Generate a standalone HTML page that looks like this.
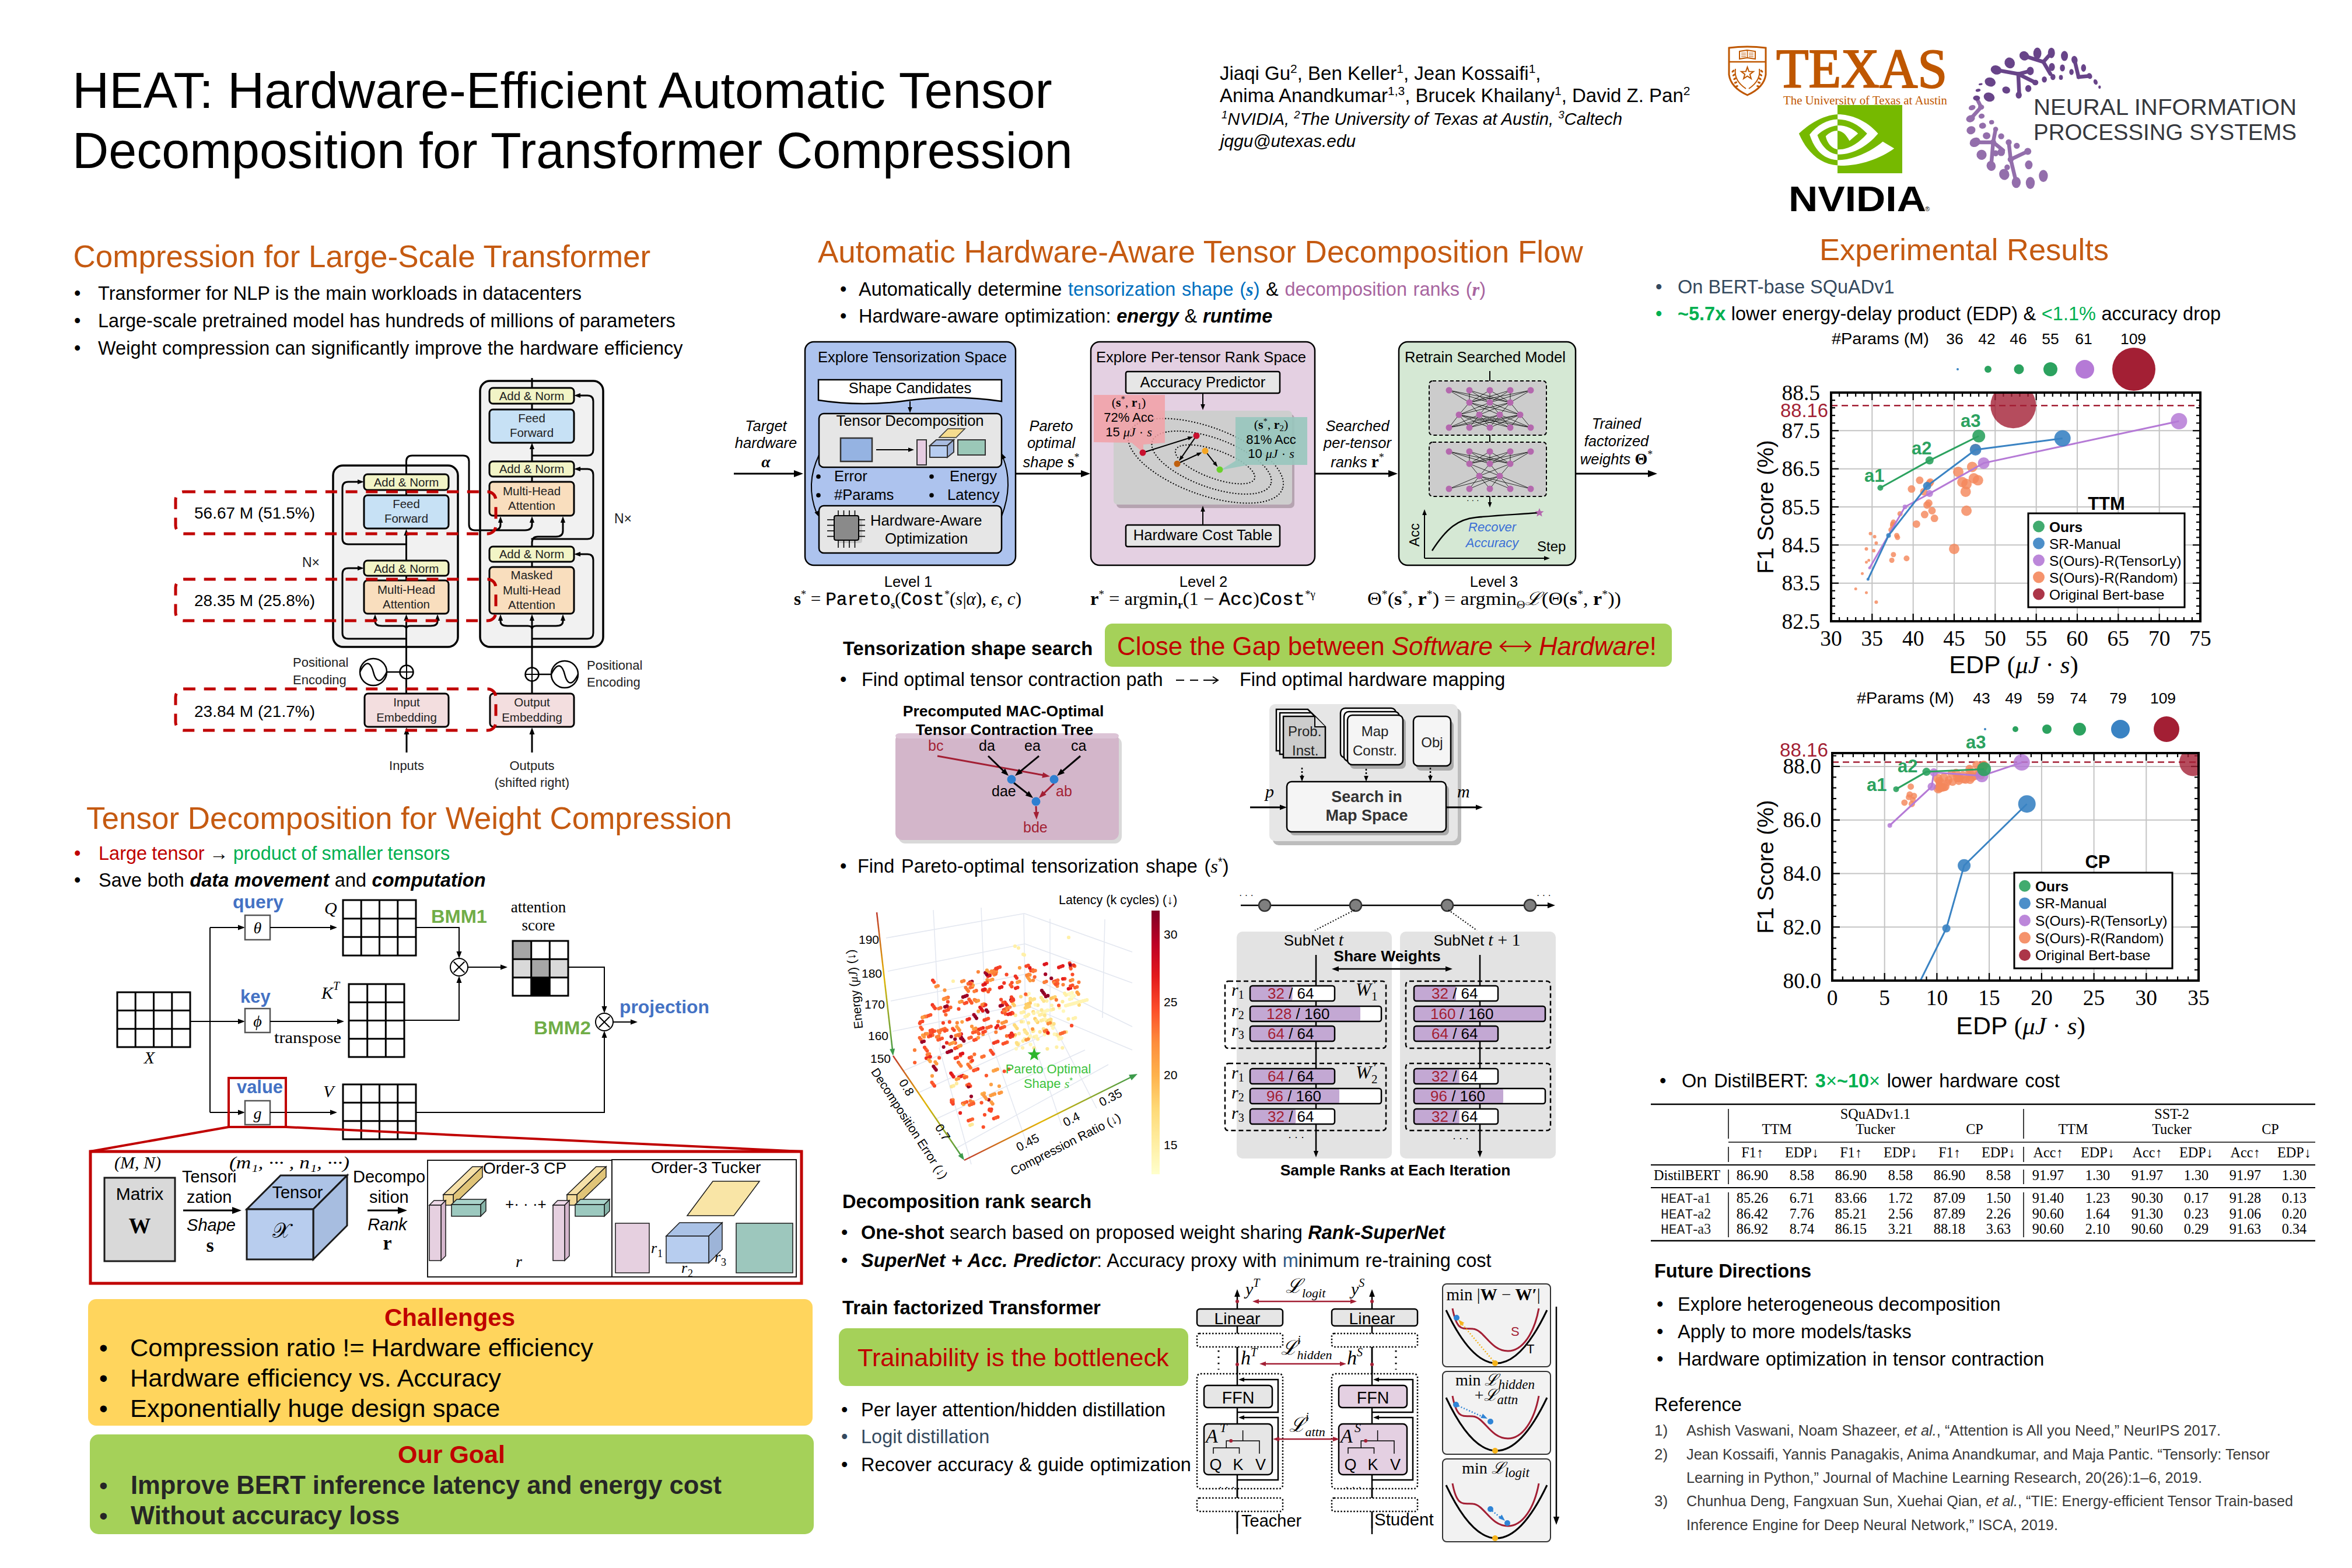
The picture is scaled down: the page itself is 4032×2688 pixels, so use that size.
<!DOCTYPE html>
<html><head><meta charset="utf-8"><title>HEAT poster</title>
<style>
html,body{margin:0;padding:0;background:#fff;}
svg{display:block;font-family:"Liberation Sans", sans-serif;}
.R{font-family:"Liberation Serif", serif;}
.M{font-family:"Liberation Mono", monospace;}
.S{font-family:"Liberation Sans", sans-serif;}
</style></head>
<body>
<svg width="4032" height="2688" viewBox="0 0 4032 2688">
<rect width="4032" height="2688" fill="#fff"/>
<text x="124.0" y="184.5" font-size="87.6">HEAT: Hardware-Efficient Automatic Tensor</text>
<text x="124.0" y="287.7" font-size="86.2">Decomposition for Transformer Compression</text>
<text x="2091.0" y="137.0" font-size="33">Jiaqi Gu<tspan font-size="21" dy="-12">2</tspan><tspan dy="12">, Ben Keller</tspan><tspan font-size="21" dy="-12">1</tspan><tspan dy="12">, Jean Kossaifi</tspan><tspan font-size="21" dy="-12">1</tspan><tspan dy="12">,</tspan></text>
<text x="2091.0" y="175.0" font-size="33">Anima Anandkumar<tspan font-size="21" dy="-12">1,3</tspan><tspan dy="12">, Brucek Khailany</tspan><tspan font-size="21" dy="-12">1</tspan><tspan dy="12">, David Z. Pan</tspan><tspan font-size="21" dy="-12">2</tspan></text>
<text x="2094.0" y="214.0" font-size="30" font-style="italic" textLength="687" lengthAdjust="spacingAndGlyphs"><tspan font-size="19" dy="-11">1</tspan><tspan dy="11">NVIDIA, </tspan><tspan font-size="19" dy="-11">2</tspan><tspan dy="11">The University of Texas at Austin, </tspan><tspan font-size="19" dy="-11">3</tspan><tspan dy="11">Caltech</tspan></text>
<text x="2092.0" y="252.0" font-size="30" font-style="italic" textLength="232" lengthAdjust="spacingAndGlyphs">jqgu@utexas.edu</text>
<path d="M2964,82 Q2995,78 3027,82 L3027,128 Q3024,150 2995.5,163 Q2967,150 2964,128 Z" fill="#fff" stroke="#BF5700" stroke-width="3"/>
<line x1="2964.0" y1="106.0" x2="3027.0" y2="106.0" stroke="#BF5700" stroke-width="2.5" />
<path d="M2982,88 L2995,86 L3009,88 L3009,101 L2995,99 L2982,101 Z" fill="none" stroke="#BF5700" stroke-width="2"/>
<line x1="2995.5" y1="86.0" x2="2995.5" y2="100.0" stroke="#BF5700" stroke-width="1.5" />
<line x1="2985.0" y1="91.0" x2="2993.0" y2="91.0" stroke="#BF5700" stroke-width="1" />
<line x1="2998.0" y1="91.0" x2="3006.0" y2="91.0" stroke="#BF5700" stroke-width="1" />
<line x1="2985.0" y1="94.0" x2="2993.0" y2="94.0" stroke="#BF5700" stroke-width="1" />
<line x1="2998.0" y1="94.0" x2="3006.0" y2="94.0" stroke="#BF5700" stroke-width="1" />
<line x1="2985.0" y1="97.0" x2="2993.0" y2="97.0" stroke="#BF5700" stroke-width="1" />
<line x1="2998.0" y1="97.0" x2="3006.0" y2="97.0" stroke="#BF5700" stroke-width="1" />
<polygon points="2995.5,115.0 2998.1,122.4 3006.0,122.6 2999.8,127.4 3002.0,134.9 2995.5,130.5 2989.0,134.9 2991.2,127.4 2985.0,122.6 2992.9,122.4" fill="none" stroke="#BF5700" stroke-width="2"/>
<path d="M2975,118 Q2972,138 2993,152" fill="none" stroke="#BF5700" stroke-width="2"/>
<path d="M3016,118 Q3019,138 2998,152" fill="none" stroke="#BF5700" stroke-width="2"/>
<ellipse cx="2971.0" cy="122.0" rx="3.0" ry="1.6" fill="#BF5700" transform="rotate(-40 2971.0 122.0)"/>
<ellipse cx="3020.0" cy="122.0" rx="3.0" ry="1.6" fill="#BF5700" transform="rotate(40 3020.0 122.0)"/>
<ellipse cx="2972.5" cy="128.5" rx="3.0" ry="1.6" fill="#BF5700" transform="rotate(-35 2972.5 128.5)"/>
<ellipse cx="3018.5" cy="128.5" rx="3.0" ry="1.6" fill="#BF5700" transform="rotate(35 3018.5 128.5)"/>
<ellipse cx="2974.0" cy="135.0" rx="3.0" ry="1.6" fill="#BF5700" transform="rotate(-30 2974.0 135.0)"/>
<ellipse cx="3017.0" cy="135.0" rx="3.0" ry="1.6" fill="#BF5700" transform="rotate(30 3017.0 135.0)"/>
<ellipse cx="2975.5" cy="141.5" rx="3.0" ry="1.6" fill="#BF5700" transform="rotate(-25 2975.5 141.5)"/>
<ellipse cx="3015.5" cy="141.5" rx="3.0" ry="1.6" fill="#BF5700" transform="rotate(25 3015.5 141.5)"/>
<ellipse cx="2977.0" cy="148.0" rx="3.0" ry="1.6" fill="#BF5700" transform="rotate(-20 2977.0 148.0)"/>
<ellipse cx="3014.0" cy="148.0" rx="3.0" ry="1.6" fill="#BF5700" transform="rotate(20 3014.0 148.0)"/>
<text x="3045.0" y="150.0" font-size="96" class="R" fill="#BF5700" textLength="293" lengthAdjust="spacingAndGlyphs" stroke="#BF5700" stroke-width="2.2">TEXAS</text>
<text x="3057.0" y="179.0" font-size="20" class="R" fill="#BF5700" textLength="281" lengthAdjust="spacingAndGlyphs">The University of Texas at Austin</text>
<rect x="3150.0" y="180.0" width="111.0" height="117.0" fill="#76B900"/>
<g transform="translate(3070,170) scale(0.08929)"><path d="M897,290 C1150,290 1450,400 1675,660 C1450,930 1150,1070 897,1060 L897,965 C1100,975 1300,850 1465,660 C1300,480 1100,385 897,385 Z" fill="#fff"/><path d="M897,1170 C1200,1170 1550,1000 1765,815 L1985,945 C1700,1150 1300,1290 897,1275 Z" fill="#fff"/><path d="M897,505 C1050,500 1200,570 1290,660 L1125,800 C1060,680 990,610 897,605 Z" fill="#fff"/><path d="M897,290 C600,310 350,480 155,660 C300,1000 550,1250 897,1270 L897,1170 C600,1150 450,950 360,680 C500,500 700,390 897,385 Z" fill="#76B900"/><path d="M897,505 C750,520 620,590 510,690 C580,900 720,1040 897,1060 L897,965 C780,940 700,850 670,710 C740,640 820,605 897,605 Z" fill="#76B900"/></g>
<text x="3066.0" y="362.0" font-size="62" font-weight="bold" textLength="236" lengthAdjust="spacingAndGlyphs" letter-spacing="0">NVIDIA</text>
<text x="3300.0" y="362.0" font-size="11">®</text>
<text x="3486.0" y="197.0" font-size="38" fill="#35383d" textLength="451" lengthAdjust="spacingAndGlyphs">NEURAL INFORMATION</text>
<text x="3486.0" y="240.0" font-size="38" fill="#35383d" textLength="451" lengthAdjust="spacingAndGlyphs">PROCESSING SYSTEMS</text>
<line x1="3470.2" y1="95.8" x2="3502.9" y2="106.2" stroke="#684489" stroke-width="6.5" stroke-linecap="round"/>
<line x1="3502.9" y1="106.2" x2="3516.7" y2="90.7" stroke="#684489" stroke-width="6.5" stroke-linecap="round"/>
<line x1="3502.9" y1="106.2" x2="3515.0" y2="126.8" stroke="#684489" stroke-width="6.5" stroke-linecap="round"/>
<line x1="3422.0" y1="119.9" x2="3459.9" y2="126.8" stroke="#684489" stroke-width="6.5" stroke-linecap="round"/>
<line x1="3459.9" y1="126.8" x2="3480.5" y2="121.7" stroke="#684489" stroke-width="6.5" stroke-linecap="round"/>
<line x1="3459.9" y1="126.8" x2="3461.6" y2="163.0" stroke="#684489" stroke-width="6.5" stroke-linecap="round"/>
<line x1="3459.9" y1="126.8" x2="3489.1" y2="141.5" stroke="#684489" stroke-width="6.5" stroke-linecap="round"/>
<line x1="3556.3" y1="102.7" x2="3563.2" y2="132.0" stroke="#684489" stroke-width="6.5" stroke-linecap="round"/>
<line x1="3563.2" y1="132.0" x2="3582.1" y2="130.3" stroke="#684489" stroke-width="6.5" stroke-linecap="round"/>
<line x1="3388.4" y1="168.1" x2="3396.2" y2="183.6" stroke="#936eab" stroke-width="6.5" stroke-linecap="round"/>
<line x1="3396.2" y1="183.6" x2="3380.7" y2="200.9" stroke="#936eab" stroke-width="6.5" stroke-linecap="round"/>
<line x1="3416.8" y1="243.9" x2="3421.1" y2="221.5" stroke="#936eab" stroke-width="6.5" stroke-linecap="round"/>
<line x1="3416.8" y1="243.9" x2="3385.8" y2="243.9" stroke="#936eab" stroke-width="6.5" stroke-linecap="round"/>
<line x1="3416.8" y1="243.9" x2="3413.4" y2="284.4" stroke="#936eab" stroke-width="6.5" stroke-linecap="round"/>
<line x1="3446.9" y1="273.2" x2="3443.5" y2="243.9" stroke="#936eab" stroke-width="6.5" stroke-linecap="round"/>
<line x1="3446.9" y1="273.2" x2="3476.2" y2="259.4" stroke="#936eab" stroke-width="6.5" stroke-linecap="round"/>
<line x1="3446.9" y1="273.2" x2="3456.4" y2="312.8" stroke="#936eab" stroke-width="6.5" stroke-linecap="round"/>
<line x1="3416.8" y1="243.9" x2="3434.0" y2="257.7" stroke="#936eab" stroke-width="6.5" stroke-linecap="round"/>
<ellipse cx="3492.6" cy="91.5" rx="6.9" ry="10.0" fill="#684489" transform="rotate(0 3492.6 91.5)"/>
<ellipse cx="3516.7" cy="90.7" rx="6.0" ry="9.0" fill="#684489" transform="rotate(0 3516.7 90.7)"/>
<ellipse cx="3539.1" cy="95.8" rx="6.0" ry="8.6" fill="#684489" transform="rotate(0 3539.1 95.8)"/>
<ellipse cx="3556.3" cy="102.7" rx="5.2" ry="6.9" fill="#684489" transform="rotate(-10 3556.3 102.7)"/>
<ellipse cx="3571.8" cy="116.5" rx="4.3" ry="6.5" fill="#684489" transform="rotate(0 3571.8 116.5)"/>
<ellipse cx="3592.4" cy="140.6" rx="3.4" ry="4.8" fill="#684489" transform="rotate(-20 3592.4 140.6)"/>
<ellipse cx="3599.3" cy="149.2" rx="2.1" ry="2.8" fill="#684489" transform="rotate(0 3599.3 149.2)"/>
<ellipse cx="3470.2" cy="95.8" rx="8.6" ry="7.7" fill="#684489" transform="rotate(30 3470.2 95.8)"/>
<ellipse cx="3445.2" cy="107.9" rx="8.6" ry="9.5" fill="#684489" transform="rotate(-30 3445.2 107.9)"/>
<ellipse cx="3422.0" cy="119.9" rx="9.5" ry="7.7" fill="#684489" transform="rotate(20 3422.0 119.9)"/>
<ellipse cx="3480.5" cy="121.7" rx="6.0" ry="7.2" fill="#684489" transform="rotate(0 3480.5 121.7)"/>
<ellipse cx="3517.5" cy="114.8" rx="5.2" ry="6.9" fill="#684489" transform="rotate(0 3517.5 114.8)"/>
<ellipse cx="3535.6" cy="116.5" rx="4.3" ry="6.0" fill="#684489" transform="rotate(0 3535.6 116.5)"/>
<ellipse cx="3551.1" cy="123.4" rx="3.8" ry="5.2" fill="#684489" transform="rotate(0 3551.1 123.4)"/>
<ellipse cx="3504.6" cy="136.3" rx="4.3" ry="5.2" fill="#684489" transform="rotate(0 3504.6 136.3)"/>
<ellipse cx="3519.3" cy="132.0" rx="4.3" ry="5.2" fill="#684489" transform="rotate(0 3519.3 132.0)"/>
<ellipse cx="3533.0" cy="132.8" rx="3.4" ry="4.3" fill="#684489" transform="rotate(0 3533.0 132.8)"/>
<ellipse cx="3489.1" cy="141.5" rx="5.2" ry="4.8" fill="#684489" transform="rotate(0 3489.1 141.5)"/>
<ellipse cx="3477.1" cy="151.8" rx="5.2" ry="6.0" fill="#684489" transform="rotate(0 3477.1 151.8)"/>
<ellipse cx="3439.2" cy="154.4" rx="6.9" ry="6.0" fill="#684489" transform="rotate(20 3439.2 154.4)"/>
<ellipse cx="3411.7" cy="140.6" rx="9.5" ry="7.7" fill="#684489" transform="rotate(20 3411.7 140.6)"/>
<ellipse cx="3409.9" cy="166.4" rx="9.5" ry="7.7" fill="#684489" transform="rotate(20 3409.9 166.4)"/>
<ellipse cx="3395.3" cy="144.4" rx="3.4" ry="1.7" fill="#684489" transform="rotate(-10 3395.3 144.4)"/>
<ellipse cx="3391.0" cy="154.7" rx="4.3" ry="2.6" fill="#684489" transform="rotate(-10 3391.0 154.7)"/>
<ellipse cx="3460.7" cy="163.0" rx="5.2" ry="6.0" fill="#684489" transform="rotate(0 3460.7 163.0)"/>
<ellipse cx="3582.1" cy="130.3" rx="4.3" ry="5.2" fill="#684489" transform="rotate(-30 3582.1 130.3)"/>
<ellipse cx="3563.2" cy="132.0" rx="3.4" ry="3.4" fill="#684489" transform="rotate(0 3563.2 132.0)"/>
<ellipse cx="3388.4" cy="168.1" rx="6.0" ry="4.3" fill="#684489" transform="rotate(0 3388.4 168.1)"/>
<ellipse cx="3396.2" cy="183.6" rx="5.2" ry="4.3" fill="#936eab" transform="rotate(0 3396.2 183.6)"/>
<ellipse cx="3380.7" cy="184.5" rx="6.0" ry="4.3" fill="#936eab" transform="rotate(-20 3380.7 184.5)"/>
<ellipse cx="3378.1" cy="203.4" rx="7.7" ry="6.0" fill="#936eab" transform="rotate(-20 3378.1 203.4)"/>
<ellipse cx="3397.0" cy="199.1" rx="5.2" ry="4.3" fill="#936eab" transform="rotate(-10 3397.0 199.1)"/>
<ellipse cx="3414.2" cy="209.5" rx="4.3" ry="3.8" fill="#936eab" transform="rotate(-10 3414.2 209.5)"/>
<ellipse cx="3398.7" cy="215.5" rx="6.0" ry="5.2" fill="#936eab" transform="rotate(-10 3398.7 215.5)"/>
<ellipse cx="3378.9" cy="223.2" rx="7.7" ry="6.9" fill="#936eab" transform="rotate(-20 3378.9 223.2)"/>
<ellipse cx="3421.1" cy="221.5" rx="4.3" ry="4.3" fill="#936eab" transform="rotate(0 3421.1 221.5)"/>
<ellipse cx="3405.6" cy="232.7" rx="6.5" ry="6.0" fill="#936eab" transform="rotate(0 3405.6 232.7)"/>
<ellipse cx="3430.6" cy="233.6" rx="5.2" ry="5.2" fill="#936eab" transform="rotate(0 3430.6 233.6)"/>
<ellipse cx="3385.8" cy="243.9" rx="9.5" ry="7.7" fill="#936eab" transform="rotate(-30 3385.8 243.9)"/>
<ellipse cx="3416.8" cy="243.9" rx="5.2" ry="5.2" fill="#936eab" transform="rotate(0 3416.8 243.9)"/>
<ellipse cx="3443.5" cy="243.9" rx="5.2" ry="5.2" fill="#936eab" transform="rotate(0 3443.5 243.9)"/>
<ellipse cx="3457.3" cy="249.9" rx="5.2" ry="5.2" fill="#936eab" transform="rotate(0 3457.3 249.9)"/>
<ellipse cx="3476.2" cy="259.4" rx="6.0" ry="6.0" fill="#936eab" transform="rotate(0 3476.2 259.4)"/>
<ellipse cx="3397.0" cy="265.4" rx="8.6" ry="8.6" fill="#936eab" transform="rotate(-20 3397.0 265.4)"/>
<ellipse cx="3430.6" cy="261.1" rx="6.5" ry="6.5" fill="#936eab" transform="rotate(0 3430.6 261.1)"/>
<ellipse cx="3446.9" cy="273.2" rx="5.2" ry="5.2" fill="#936eab" transform="rotate(0 3446.9 273.2)"/>
<ellipse cx="3413.4" cy="284.4" rx="7.7" ry="8.6" fill="#936eab" transform="rotate(-20 3413.4 284.4)"/>
<ellipse cx="3477.9" cy="282.6" rx="6.5" ry="7.7" fill="#936eab" transform="rotate(0 3477.9 282.6)"/>
<ellipse cx="3435.8" cy="299.0" rx="8.6" ry="9.5" fill="#936eab" transform="rotate(-20 3435.8 299.0)"/>
<ellipse cx="3502.9" cy="301.6" rx="7.7" ry="10.3" fill="#936eab" transform="rotate(0 3502.9 301.6)"/>
<ellipse cx="3456.4" cy="312.8" rx="7.7" ry="9.5" fill="#936eab" transform="rotate(0 3456.4 312.8)"/>
<ellipse cx="3480.5" cy="313.6" rx="7.7" ry="10.3" fill="#936eab" transform="rotate(0 3480.5 313.6)"/>
<ellipse cx="3440.9" cy="286.9" rx="4.8" ry="4.8" fill="#936eab" transform="rotate(0 3440.9 286.9)"/>
<ellipse cx="3421.1" cy="262.8" rx="4.8" ry="5.2" fill="#936eab" transform="rotate(0 3421.1 262.8)"/>
<text x="125.5" y="458.0" font-size="53" fill="#C55A11">Compression for Large-Scale Transformer</text>
<text x="127.0" y="514.0" font-size="32.5">•</text>
<text x="168.0" y="514.0" font-size="32.5" word-spacing="0">Transformer for NLP is the main workloads in datacenters</text>
<text x="127.0" y="561.0" font-size="32.5">•</text>
<text x="168.0" y="561.0" font-size="32.5" word-spacing="-0.25">Large-scale pretrained model has hundreds of millions of parameters</text>
<text x="127.0" y="608.0" font-size="32.5">•</text>
<text x="168.0" y="608.0" font-size="32.5" word-spacing="0.43">Weight compression can significantly improve the hardware efficiency</text>
<rect x="571.0" y="798.0" width="214.0" height="311.0" fill="#F1F1F1" stroke="#000" stroke-width="3.5" rx="17"/>
<rect x="823.0" y="653.0" width="211.0" height="456.0" fill="#F1F1F1" stroke="#000" stroke-width="3.5" rx="17"/>
<line x1="696.5" y1="1189.0" x2="696.5" y2="1164.0" stroke="#000" stroke-width="3" />
<line x1="696.5" y1="1140.0" x2="696.5" y2="1058.0" stroke="#000" stroke-width="3" />
<path d="M696.5,1078 Q696.5,1073 690,1073 L655,1073 Q643,1073 643,1065 L643,1060" fill="none" stroke="#000" stroke-width="3"/>
<path d="M696.5,1078 Q696.5,1073 703,1073 L738,1073 Q750,1073 750,1065 L750,1060" fill="none" stroke="#000" stroke-width="3"/>
<path d="M643.0,1053.0 L647.1,1064.0 L638.9,1064.0 Z" fill="#000"/>
<path d="M696.5,1053.0 L700.6,1064.0 L692.4,1064.0 Z" fill="#000"/>
<path d="M750.0,1053.0 L754.1,1064.0 L745.9,1064.0 Z" fill="#000"/>
<path d="M696.5,1095 L597,1095 Q587,1095 587,1085 L587,984 Q587,974 597,974 L616,974" fill="none" stroke="#000" stroke-width="3"/>
<path d="M624.0,974.0 L613.0,978.1 L613.0,969.9 Z" fill="#000"/>
<line x1="696.5" y1="995.0" x2="696.5" y2="987.0" stroke="#000" stroke-width="3" />
<line x1="696.5" y1="961.0" x2="696.5" y2="915.0" stroke="#000" stroke-width="3" />
<path d="M696.5,907.0 L700.6,918.0 L692.4,918.0 Z" fill="#000"/>
<path d="M696.5,933 L597,933 Q587,933 587,923 L587,836 Q587,826 597,826 L616,826" fill="none" stroke="#000" stroke-width="3"/>
<path d="M624.0,826.0 L613.0,830.1 L613.0,821.9 Z" fill="#000"/>
<line x1="696.5" y1="849.0" x2="696.5" y2="840.0" stroke="#000" stroke-width="3" />
<path d="M696.5,813 L696.5,791 Q696.5,781 706.5,781 L794,781 Q804,781 804,791 L804,899 Q804,909 814,909 L846,909 Q858,909 858,899 L858,893" fill="none" stroke="#000" stroke-width="3"/>
<path d="M858.0,885.0 L862.1,896.0 L853.9,896.0 Z" fill="#000"/>
<path d="M846,909 L900,909 Q912,909 912,899 L912,893" fill="none" stroke="#000" stroke-width="3"/>
<path d="M912.0,885.0 L916.1,896.0 L907.9,896.0 Z" fill="#000"/>
<line x1="912.0" y1="1189.0" x2="912.0" y2="1168.0" stroke="#000" stroke-width="3" />
<line x1="912.0" y1="1144.0" x2="912.0" y2="1058.0" stroke="#000" stroke-width="3" />
<path d="M912,1078 Q912,1073 905,1073 L870,1073 Q858,1073 858,1065 L858,1060" fill="none" stroke="#000" stroke-width="3"/>
<path d="M912,1078 Q912,1073 919,1073 L953,1073 Q965,1073 965,1065 L965,1060" fill="none" stroke="#000" stroke-width="3"/>
<path d="M858.0,1053.0 L862.1,1064.0 L853.9,1064.0 Z" fill="#000"/>
<path d="M912.0,1053.0 L916.1,1064.0 L907.9,1064.0 Z" fill="#000"/>
<path d="M965.0,1053.0 L969.1,1064.0 L960.9,1064.0 Z" fill="#000"/>
<path d="M912,1095 L1007,1095 Q1017,1095 1017,1085 L1017,960 Q1017,950 1007,950 L992,950" fill="none" stroke="#000" stroke-width="3"/>
<path d="M984.0,950.0 L995.0,945.9 L995.0,954.1 Z" fill="#000"/>
<line x1="912.0" y1="972.0" x2="912.0" y2="963.0" stroke="#000" stroke-width="3" />
<path d="M912,937 L912,930 Q912,920 922,920 L953,920 Q965,920 965,910 L965,893" fill="none" stroke="#000" stroke-width="3"/>
<path d="M965.0,885.0 L969.1,896.0 L960.9,896.0 Z" fill="#000"/>
<path d="M912,925 L912,924 L1007,924 Q1017,924 1017,914 L1017,814 Q1017,804 1007,804 L992,804" fill="none" stroke="#000" stroke-width="3"/>
<path d="M984.0,804.0 L995.0,799.9 L995.0,808.1 Z" fill="#000"/>
<line x1="912.0" y1="826.0" x2="912.0" y2="817.0" stroke="#000" stroke-width="3" />
<line x1="912.0" y1="791.0" x2="912.0" y2="767.0" stroke="#000" stroke-width="3" />
<path d="M912.0,759.0 L916.1,770.0 L907.9,770.0 Z" fill="#000"/>
<path d="M912,781 L1007,781 Q1017,781 1017,771 L1017,688 Q1017,678 1007,678 L992,678" fill="none" stroke="#000" stroke-width="3"/>
<path d="M984.0,678.0 L995.0,673.9 L995.0,682.1 Z" fill="#000"/>
<line x1="912.0" y1="702.0" x2="912.0" y2="692.0" stroke="#000" stroke-width="3" />
<line x1="912.0" y1="665.0" x2="912.0" y2="648.0" stroke="#000" stroke-width="3" />
<rect x="624.0" y="813.0" width="145.0" height="27.0" fill="#F2F4C6" stroke="#000" stroke-width="3" rx="6"/>
<text x="696.5" y="834.0" font-size="20.5" fill="#222" text-anchor="middle">Add &amp; Norm</text>
<rect x="624.0" y="849.0" width="145.0" height="57.0" fill="#C7E1F5" stroke="#000" stroke-width="3" rx="6"/>
<text x="696.5" y="871.0" font-size="20.5" fill="#222" text-anchor="middle">Feed</text>
<text x="696.5" y="896.0" font-size="20.5" fill="#222" text-anchor="middle">Forward</text>
<rect x="624.0" y="961.0" width="145.0" height="26.0" fill="#F2F4C6" stroke="#000" stroke-width="3" rx="6"/>
<text x="696.5" y="982.0" font-size="20.5" fill="#222" text-anchor="middle">Add &amp; Norm</text>
<rect x="624.0" y="995.0" width="145.0" height="57.0" fill="#F9DEBE" stroke="#000" stroke-width="3" rx="6"/>
<text x="696.5" y="1018.0" font-size="20.5" fill="#222" text-anchor="middle">Multi-Head</text>
<text x="696.5" y="1043.0" font-size="20.5" fill="#222" text-anchor="middle">Attention</text>
<rect x="839.0" y="665.0" width="145.0" height="27.0" fill="#F2F4C6" stroke="#000" stroke-width="3" rx="6"/>
<text x="911.5" y="686.0" font-size="20.5" fill="#222" text-anchor="middle">Add &amp; Norm</text>
<rect x="839.0" y="702.0" width="145.0" height="57.0" fill="#C7E1F5" stroke="#000" stroke-width="3" rx="6"/>
<text x="911.5" y="724.0" font-size="20.5" fill="#222" text-anchor="middle">Feed</text>
<text x="911.5" y="749.0" font-size="20.5" fill="#222" text-anchor="middle">Forward</text>
<rect x="839.0" y="791.0" width="145.0" height="26.0" fill="#F2F4C6" stroke="#000" stroke-width="3" rx="6"/>
<text x="911.5" y="811.0" font-size="20.5" fill="#222" text-anchor="middle">Add &amp; Norm</text>
<rect x="839.0" y="826.0" width="145.0" height="58.0" fill="#F9DEBE" stroke="#000" stroke-width="3" rx="6"/>
<text x="911.5" y="849.0" font-size="20.5" fill="#222" text-anchor="middle">Multi-Head</text>
<text x="911.5" y="874.0" font-size="20.5" fill="#222" text-anchor="middle">Attention</text>
<rect x="839.0" y="937.0" width="145.0" height="26.0" fill="#F2F4C6" stroke="#000" stroke-width="3" rx="6"/>
<text x="911.5" y="957.0" font-size="20.5" fill="#222" text-anchor="middle">Add &amp; Norm</text>
<rect x="839.0" y="972.0" width="145.0" height="80.0" fill="#F9DEBE" stroke="#000" stroke-width="3" rx="6"/>
<text x="911.5" y="993.0" font-size="20.5" fill="#222" text-anchor="middle">Masked</text>
<text x="911.5" y="1019.0" font-size="20.5" fill="#222" text-anchor="middle">Multi-Head</text>
<text x="911.5" y="1044.0" font-size="20.5" fill="#222" text-anchor="middle">Attention</text>
<rect x="625.0" y="1189.0" width="144.0" height="57.0" fill="#F3DEDF" stroke="#000" stroke-width="3" rx="6"/>
<text x="697.0" y="1211.0" font-size="20.5" fill="#222" text-anchor="middle">Input</text>
<text x="697.0" y="1237.0" font-size="20.5" fill="#222" text-anchor="middle">Embedding</text>
<rect x="840.0" y="1189.0" width="144.0" height="57.0" fill="#F3DEDF" stroke="#000" stroke-width="3" rx="6"/>
<text x="912.0" y="1211.0" font-size="20.5" fill="#222" text-anchor="middle">Output</text>
<text x="912.0" y="1237.0" font-size="20.5" fill="#222" text-anchor="middle">Embedding</text>
<circle cx="697.0" cy="1152.0" r="11.5" fill="#fff" stroke="#000" stroke-width="2.5"/><line x1="685.5" y1="1152.0" x2="708.5" y2="1152.0" stroke="#000" stroke-width="2" /><line x1="697.0" y1="1140.5" x2="697.0" y2="1163.5" stroke="#000" stroke-width="2" />
<circle cx="640.0" cy="1152.0" r="23.0" fill="none" stroke="#000" stroke-width="2.5"/>
<path d="M617.0,1152.0 C630.8,1124.4 637.7,1142.8 640.0,1152.0 C642.3,1161.2 649.2,1179.6 663.0,1152.0" fill="none" stroke="#000" stroke-width="2.5"/>
<line x1="663.0" y1="1152.0" x2="685.5" y2="1152.0" stroke="#000" stroke-width="2.5" />
<circle cx="912.0" cy="1156.0" r="11.5" fill="#fff" stroke="#000" stroke-width="2.5"/><line x1="900.5" y1="1156.0" x2="923.5" y2="1156.0" stroke="#000" stroke-width="2" /><line x1="912.0" y1="1144.5" x2="912.0" y2="1167.5" stroke="#000" stroke-width="2" />
<circle cx="968.0" cy="1156.0" r="23.0" fill="none" stroke="#000" stroke-width="2.5"/>
<path d="M945.0,1156.0 C958.8,1128.4 965.7,1146.8 968.0,1156.0 C970.3,1165.2 977.2,1183.6 991.0,1156.0" fill="none" stroke="#000" stroke-width="2.5"/>
<line x1="923.5" y1="1156.0" x2="945.0" y2="1156.0" stroke="#000" stroke-width="2.5" />
<text x="502.0" y="1143.0" font-size="22" fill="#222">Positional</text>
<text x="502.0" y="1173.0" font-size="22" fill="#222">Encoding</text>
<text x="1006.0" y="1148.0" font-size="22" fill="#222">Positional</text>
<text x="1006.0" y="1177.0" font-size="22" fill="#222">Encoding</text>
<line x1="697.0" y1="1290.0" x2="697.0" y2="1258.0" stroke="#000" stroke-width="3" />
<path d="M697.0,1247.0 L701.5,1259.0 L692.5,1259.0 Z" fill="#000"/>
<line x1="912.0" y1="1290.0" x2="912.0" y2="1258.0" stroke="#000" stroke-width="3" />
<path d="M912.0,1247.0 L916.5,1259.0 L907.5,1259.0 Z" fill="#000"/>
<text x="697.0" y="1320.0" font-size="22" fill="#222" text-anchor="middle">Inputs</text>
<text x="912.0" y="1320.0" font-size="22" fill="#222" text-anchor="middle">Outputs</text>
<text x="912.0" y="1349.0" font-size="22" fill="#222" text-anchor="middle">(shifted right)</text>
<text x="1053.0" y="897.0" font-size="23" fill="#222">N×</text>
<text x="518.0" y="972.0" font-size="23" fill="#222">N×</text>
<rect x="301.0" y="843.0" width="549.0" height="72.0" fill="none" stroke="#C00000" stroke-width="5" rx="14" stroke-dasharray="20 14.7"/>
<text x="333.0" y="889.0" font-size="28">56.67 M (51.5%)</text>
<rect x="301.0" y="993.0" width="549.0" height="71.0" fill="none" stroke="#C00000" stroke-width="5" rx="14" stroke-dasharray="20 14.7"/>
<text x="333.0" y="1039.0" font-size="28">28.35 M (25.8%)</text>
<rect x="301.0" y="1181.0" width="549.0" height="71.0" fill="none" stroke="#C00000" stroke-width="5" rx="14" stroke-dasharray="20 14.7"/>
<text x="333.0" y="1229.0" font-size="28">23.84 M (21.7%)</text>
<text x="148.0" y="1421.0" font-size="53" fill="#C55A11">Tensor Decomposition for Weight Compression</text>
<text x="127.0" y="1474.0" font-size="32.5" fill="#C00000">•</text>
<text x="169.0" y="1474.0" font-size="32.5" word-spacing="-0.8"><tspan fill="#C00000">Large tensor </tspan><tspan >→ </tspan><tspan fill="#00B050">product of smaller tensors</tspan></text>
<text x="127.0" y="1520.0" font-size="32.5">•</text>
<text x="169.0" y="1520.0" font-size="32.5" word-spacing="0.5"><tspan >Save both </tspan><tspan font-weight="bold" font-style="italic">data movement</tspan><tspan > and </tspan><tspan font-weight="bold" font-style="italic">computation</tspan></text>
<rect x="201.0" y="1701.0" width="125.0" height="94.0" fill="none" stroke="#000" stroke-width="3"/>
<line x1="232.2" y1="1701.0" x2="232.2" y2="1795.0" stroke="#000" stroke-width="3" />
<line x1="263.5" y1="1701.0" x2="263.5" y2="1795.0" stroke="#000" stroke-width="3" />
<line x1="294.8" y1="1701.0" x2="294.8" y2="1795.0" stroke="#000" stroke-width="3" />
<line x1="201.0" y1="1732.3" x2="326.0" y2="1732.3" stroke="#000" stroke-width="3" />
<line x1="201.0" y1="1763.7" x2="326.0" y2="1763.7" stroke="#000" stroke-width="3" />
<text x="256.0" y="1823.0" font-size="30" class="R" font-style="italic" text-anchor="middle">X</text>
<line x1="326.0" y1="1751.0" x2="360.0" y2="1751.0" stroke="#000" stroke-width="2" />
<line x1="360.0" y1="1590.0" x2="360.0" y2="1907.0" stroke="#000" stroke-width="2" />
<line x1="360.0" y1="1590.0" x2="410.4" y2="1590.0" stroke="#000" stroke-width="2" /><path d="M420.0,1590.0 L408.0,1594.5 L408.0,1585.5 Z" fill="#000"/>
<line x1="360.0" y1="1751.0" x2="410.4" y2="1751.0" stroke="#000" stroke-width="2" /><path d="M420.0,1751.0 L408.0,1755.5 L408.0,1746.5 Z" fill="#000"/>
<line x1="360.0" y1="1907.0" x2="410.4" y2="1907.0" stroke="#000" stroke-width="2" /><path d="M420.0,1907.0 L408.0,1911.5 L408.0,1902.5 Z" fill="#000"/>
<rect x="420.0" y="1569.0" width="43.0" height="42.0" fill="#fff" stroke="#555" stroke-width="2.5"/>
<text x="441.5" y="1600.0" font-size="28" class="R" font-style="italic" text-anchor="middle">θ</text>
<rect x="420.0" y="1729.0" width="43.0" height="41.0" fill="#fff" stroke="#555" stroke-width="2.5"/>
<text x="441.5" y="1759.5" font-size="28" class="R" font-style="italic" text-anchor="middle">ϕ</text>
<rect x="420.0" y="1887.0" width="43.0" height="41.0" fill="#fff" stroke="#555" stroke-width="2.5"/>
<text x="441.5" y="1917.5" font-size="28" class="R" font-style="italic" text-anchor="middle">g</text>
<line x1="463.0" y1="1590.0" x2="568.4" y2="1590.0" stroke="#000" stroke-width="2" /><path d="M578.0,1590.0 L566.0,1594.5 L566.0,1585.5 Z" fill="#000"/>
<line x1="463.0" y1="1751.0" x2="580.4" y2="1751.0" stroke="#000" stroke-width="2" /><path d="M590.0,1751.0 L578.0,1755.5 L578.0,1746.5 Z" fill="#000"/>
<line x1="463.0" y1="1907.0" x2="568.4" y2="1907.0" stroke="#000" stroke-width="2" /><path d="M578.0,1907.0 L566.0,1911.5 L566.0,1902.5 Z" fill="#000"/>
<rect x="588.0" y="1543.0" width="125.0" height="95.0" fill="none" stroke="#000" stroke-width="3"/>
<line x1="619.2" y1="1543.0" x2="619.2" y2="1638.0" stroke="#000" stroke-width="3" />
<line x1="650.5" y1="1543.0" x2="650.5" y2="1638.0" stroke="#000" stroke-width="3" />
<line x1="681.8" y1="1543.0" x2="681.8" y2="1638.0" stroke="#000" stroke-width="3" />
<line x1="588.0" y1="1574.7" x2="713.0" y2="1574.7" stroke="#000" stroke-width="3" />
<line x1="588.0" y1="1606.3" x2="713.0" y2="1606.3" stroke="#000" stroke-width="3" />
<rect x="598.0" y="1687.0" width="95.0" height="125.0" fill="none" stroke="#000" stroke-width="3"/>
<line x1="629.7" y1="1687.0" x2="629.7" y2="1812.0" stroke="#000" stroke-width="3" />
<line x1="661.3" y1="1687.0" x2="661.3" y2="1812.0" stroke="#000" stroke-width="3" />
<line x1="598.0" y1="1718.2" x2="693.0" y2="1718.2" stroke="#000" stroke-width="3" />
<line x1="598.0" y1="1749.5" x2="693.0" y2="1749.5" stroke="#000" stroke-width="3" />
<line x1="598.0" y1="1780.8" x2="693.0" y2="1780.8" stroke="#000" stroke-width="3" />
<rect x="588.0" y="1859.0" width="125.0" height="94.0" fill="none" stroke="#000" stroke-width="3"/>
<line x1="619.2" y1="1859.0" x2="619.2" y2="1953.0" stroke="#000" stroke-width="3" />
<line x1="650.5" y1="1859.0" x2="650.5" y2="1953.0" stroke="#000" stroke-width="3" />
<line x1="681.8" y1="1859.0" x2="681.8" y2="1953.0" stroke="#000" stroke-width="3" />
<line x1="588.0" y1="1890.3" x2="713.0" y2="1890.3" stroke="#000" stroke-width="3" />
<line x1="588.0" y1="1921.7" x2="713.0" y2="1921.7" stroke="#000" stroke-width="3" />
<rect x="879.0" y="1613.0" width="31.7" height="31.3" fill="#a6a6a6"/>
<rect x="879.0" y="1644.3" width="31.7" height="31.3" fill="#d9d9d9"/>
<rect x="910.7" y="1644.3" width="31.7" height="31.3" fill="#a6a6a6"/>
<rect x="942.3" y="1644.3" width="31.7" height="31.3" fill="#d9d9d9"/>
<rect x="910.7" y="1675.7" width="31.7" height="31.3" fill="#000"/>
<rect x="879.0" y="1613.0" width="95.0" height="94.0" fill="none" stroke="#000" stroke-width="3"/>
<line x1="910.7" y1="1613.0" x2="910.7" y2="1707.0" stroke="#000" stroke-width="3" />
<line x1="942.3" y1="1613.0" x2="942.3" y2="1707.0" stroke="#000" stroke-width="3" />
<line x1="879.0" y1="1644.3" x2="974.0" y2="1644.3" stroke="#000" stroke-width="3" />
<line x1="879.0" y1="1675.7" x2="974.0" y2="1675.7" stroke="#000" stroke-width="3" />
<text x="556.0" y="1567.0" font-size="30" class="R" font-style="italic">Q</text>
<text x="551.0" y="1712.0" font-size="30" class="R" font-style="italic">K</text>
<text x="571.0" y="1697.0" font-size="20" class="R" font-style="italic">T</text>
<text x="554.0" y="1881.0" font-size="30" class="R" font-style="italic">V</text>
<text x="470.0" y="1788.0" font-size="27" class="R" textLength="115" lengthAdjust="spacingAndGlyphs">transpose</text>
<text x="923.0" y="1564.0" font-size="27" class="R" text-anchor="middle">attention</text>
<text x="923.0" y="1595.0" font-size="27" class="R" text-anchor="middle">score</text>
<path d="M713,1590 L787,1590 L787,1633" fill="none" stroke="#000" stroke-width="2"/>
<path d="M787.0,1643.0 L782.5,1631.0 L791.5,1631.0 Z" fill="#000"/>
<path d="M693,1749 L787,1749 L787,1683" fill="none" stroke="#000" stroke-width="2"/>
<path d="M787.0,1673.0 L791.5,1685.0 L782.5,1685.0 Z" fill="#000"/>
<circle cx="787.0" cy="1658.0" r="15.0" fill="#fff" stroke="#000" stroke-width="2"/><line x1="777.7" y1="1648.7" x2="796.3" y2="1667.3" stroke="#000" stroke-width="2" /><line x1="777.7" y1="1667.3" x2="796.3" y2="1648.7" stroke="#000" stroke-width="2" />
<line x1="802.0" y1="1658.0" x2="860.4" y2="1658.0" stroke="#000" stroke-width="2" /><path d="M870.0,1658.0 L858.0,1662.5 L858.0,1653.5 Z" fill="#000"/>
<path d="M974,1658 L1036,1658 L1036,1727" fill="none" stroke="#000" stroke-width="2"/>
<path d="M1036.0,1737.0 L1031.5,1725.0 L1040.5,1725.0 Z" fill="#000"/>
<path d="M713,1907 L1036,1907 L1036,1777" fill="none" stroke="#000" stroke-width="2"/>
<path d="M1036.0,1767.0 L1040.5,1779.0 L1031.5,1779.0 Z" fill="#000"/>
<circle cx="1036.0" cy="1752.0" r="15.0" fill="#fff" stroke="#000" stroke-width="2"/><line x1="1026.7" y1="1742.7" x2="1045.3" y2="1761.3" stroke="#000" stroke-width="2" /><line x1="1026.7" y1="1761.3" x2="1045.3" y2="1742.7" stroke="#000" stroke-width="2" />
<line x1="1051.0" y1="1752.0" x2="1083.4" y2="1752.0" stroke="#000" stroke-width="2" /><path d="M1093.0,1752.0 L1081.0,1756.5 L1081.0,1747.5 Z" fill="#000"/>
<text x="399.0" y="1557.0" font-size="31" fill="#4472C4" font-weight="bold" textLength="87" lengthAdjust="spacingAndGlyphs">query</text>
<text x="412.0" y="1719.0" font-size="31" fill="#4472C4" font-weight="bold">key</text>
<text x="406.0" y="1874.0" font-size="31" fill="#4472C4" font-weight="bold" textLength="79" lengthAdjust="spacingAndGlyphs">value</text>
<text x="1062.0" y="1737.0" font-size="31" fill="#4472C4" font-weight="bold" textLength="154" lengthAdjust="spacingAndGlyphs">projection</text>
<text x="739.0" y="1582.0" font-size="31" fill="#70AD47" font-weight="bold" textLength="96" lengthAdjust="spacingAndGlyphs">BMM1</text>
<text x="915.0" y="1773.0" font-size="31" fill="#70AD47" font-weight="bold" textLength="98" lengthAdjust="spacingAndGlyphs">BMM2</text>
<rect x="392.0" y="1848.0" width="98.0" height="84.0" fill="none" stroke="#C00000" stroke-width="4"/>
<line x1="392.0" y1="1932.0" x2="154.0" y2="1974.0" stroke="#C00000" stroke-width="4" />
<line x1="490.0" y1="1932.0" x2="1375.0" y2="1974.0" stroke="#C00000" stroke-width="4" />
<rect x="155.0" y="1974.0" width="1219.0" height="226.0" fill="#fff" stroke="#C00000" stroke-width="5"/>
<rect x="179.0" y="2019.0" width="121.0" height="143.0" fill="#d9d9d9" stroke="#1a1a1a" stroke-width="3"/>
<text x="196.0" y="2003.0" font-size="30" class="R" font-style="italic">(M, N)</text>
<text x="239.5" y="2057.0" font-size="30" text-anchor="middle">Matrix</text>
<text x="239.5" y="2114.0" font-size="38" class="R" font-weight="bold" text-anchor="middle">W</text>
<text x="312.0" y="2027.0" font-size="29">Tensori</text>
<text x="320.0" y="2062.0" font-size="29">zation</text>
<line x1="314.0" y1="2075.0" x2="401.2" y2="2075.0" stroke="#000" stroke-width="3" /><path d="M414.0,2075.0 L398.0,2081.0 L398.0,2069.0 Z" fill="#000"/>
<text x="362.0" y="2110.0" font-size="29" font-style="italic" text-anchor="middle">Shape</text>
<text x="360.0" y="2146.0" font-size="34" class="R" font-weight="bold" text-anchor="middle">s</text>
<path d="M423,2073 L481,2015 L595,2015 L537,2073 Z" fill="#adc3e6" stroke="#1a1a1a" stroke-width="3"/>
<path d="M537,2073 L595,2015 L595,2101 L537,2159 Z" fill="#a7bde0" stroke="#1a1a1a" stroke-width="3"/>
<rect x="423.0" y="2073.0" width="114.0" height="86.0" fill="#b8cdee" stroke="#1a1a1a" stroke-width="3"/>
<text x="510.0" y="2054.0" font-size="29" text-anchor="middle">Tensor</text>
<text x="482.0" y="2122.0" font-size="36" class="R" text-anchor="middle">𝒳</text>
<text x="393.0" y="2003.0" font-size="29" class="R" font-style="italic" textLength="206" lengthAdjust="spacingAndGlyphs">(m₁, ··· , n₁, ···)</text>
<text x="605.0" y="2027.0" font-size="29">Decompo</text>
<text x="633.0" y="2062.0" font-size="29">sition</text>
<line x1="630.0" y1="2075.0" x2="685.2" y2="2075.0" stroke="#000" stroke-width="3" /><path d="M698.0,2075.0 L682.0,2081.0 L682.0,2069.0 Z" fill="#000"/>
<text x="664.0" y="2109.0" font-size="29" font-style="italic" text-anchor="middle">Rank</text>
<text x="664.0" y="2142.0" font-size="34" class="R" font-weight="bold" text-anchor="middle">r</text>
<rect x="733.0" y="1989.0" width="316.0" height="200.0" fill="#fff" stroke="#1a1a1a" stroke-width="2"/>
<rect x="1049.0" y="1988.0" width="316.0" height="201.0" fill="#fff" stroke="#1a1a1a" stroke-width="2"/>
<text x="828.0" y="2012.0" font-size="28">Order-3 CP</text>
<text x="1116.0" y="2011.0" font-size="28">Order-3 Tucker</text>
<path d="M760,2048 L810,2000 L827,2000 L777,2048 Z" fill="#f5e0a8" stroke="#1a1a1a" stroke-width="1.5"/>
<path d="M777,2048 L827,2000 L827,2018 L777,2066 Z" fill="#e0c478" stroke="#1a1a1a" stroke-width="1.5"/>
<rect x="760.0" y="2048.0" width="17.0" height="18.0" fill="#f2d99a" stroke="#1a1a1a" stroke-width="1.5"/>
<path d="M774,2065 L783,2056 L833,2056 L824,2065 Z" fill="#a9d3ca" stroke="#1a1a1a" stroke-width="1.5"/>
<path d="M824,2065 L833,2056 L833,2076 L824,2085 Z" fill="#86b3a8" stroke="#1a1a1a" stroke-width="1.5"/>
<rect x="774.0" y="2065.0" width="50.0" height="20.0" fill="#9cc9bf" stroke="#1a1a1a" stroke-width="1.5"/>
<path d="M736,2066 L744,2058 L764,2058 L756,2066 Z" fill="#edd9e8" stroke="#1a1a1a" stroke-width="1.5"/>
<path d="M756,2066 L764,2058 L764,2153 L756,2161 Z" fill="#d4b6cc" stroke="#1a1a1a" stroke-width="1.5"/>
<rect x="736.0" y="2066.0" width="20.0" height="95.0" fill="#e6d0e0" stroke="#1a1a1a" stroke-width="1.5"/>
<path d="M972,2048 L1022,2000 L1039,2000 L989,2048 Z" fill="#f5e0a8" stroke="#1a1a1a" stroke-width="1.5"/>
<path d="M989,2048 L1039,2000 L1039,2018 L989,2066 Z" fill="#e0c478" stroke="#1a1a1a" stroke-width="1.5"/>
<rect x="972.0" y="2048.0" width="17.0" height="18.0" fill="#f2d99a" stroke="#1a1a1a" stroke-width="1.5"/>
<path d="M986,2065 L995,2056 L1045,2056 L1036,2065 Z" fill="#a9d3ca" stroke="#1a1a1a" stroke-width="1.5"/>
<path d="M1036,2065 L1045,2056 L1045,2076 L1036,2085 Z" fill="#86b3a8" stroke="#1a1a1a" stroke-width="1.5"/>
<rect x="986.0" y="2065.0" width="50.0" height="20.0" fill="#9cc9bf" stroke="#1a1a1a" stroke-width="1.5"/>
<path d="M948,2066 L956,2058 L976,2058 L968,2066 Z" fill="#edd9e8" stroke="#1a1a1a" stroke-width="1.5"/>
<path d="M968,2066 L976,2058 L976,2153 L968,2161 Z" fill="#d4b6cc" stroke="#1a1a1a" stroke-width="1.5"/>
<rect x="948.0" y="2066.0" width="20.0" height="95.0" fill="#e6d0e0" stroke="#1a1a1a" stroke-width="1.5"/>
<text x="866.0" y="2073.0" font-size="26">+· · ·+</text>
<text x="884.0" y="2172.0" font-size="28" class="R" font-style="italic">r</text>
<path d="M1178,2084 L1222,2025 L1302,2025 L1258,2084 Z" fill="#f9e5a6" stroke="#1a1a1a" stroke-width="1.5"/>
<rect x="1055.0" y="2097.0" width="58.0" height="85.0" fill="#e6d0e0" stroke="#1a1a1a" stroke-width="1.5"/>
<rect x="1262.0" y="2097.0" width="97.0" height="85.0" fill="#9dc7bd" stroke="#1a1a1a" stroke-width="1.5"/>
<path d="M1142,2119 L1165,2096 L1238,2096 L1215,2119 Z" fill="#aac2e6" stroke="#1a1a1a" stroke-width="1.5"/>
<path d="M1215,2119 L1238,2096 L1238,2142 L1215,2165 Z" fill="#9db4d8" stroke="#1a1a1a" stroke-width="1.5"/>
<rect x="1142.0" y="2119.0" width="73.0" height="46.0" fill="#b7cdef" stroke="#1a1a1a" stroke-width="1.5"/>
<text x="1116.0" y="2148.0" font-size="26" class="R" font-style="italic">r</text>
<text x="1127.0" y="2155.0" font-size="18" class="R">1</text>
<text x="1168.0" y="2182.0" font-size="26" class="R" font-style="italic">r</text>
<text x="1179.0" y="2189.0" font-size="18" class="R">2</text>
<text x="1225.0" y="2163.0" font-size="26" class="R" font-style="italic">r</text>
<text x="1236.0" y="2170.0" font-size="18" class="R">3</text>
<rect x="151.0" y="2227.0" width="1242.0" height="217.0" fill="#FFD55D" rx="14"/>
<text x="771.0" y="2273.0" font-size="42" fill="#C00000" font-weight="bold" text-anchor="middle">Challenges</text>
<text x="170.0" y="2325.0" font-size="42">•</text>
<text x="223.0" y="2325.0" font-size="43.4">Compression ratio != Hardware efficiency</text>
<text x="170.0" y="2377.0" font-size="42">•</text>
<text x="223.0" y="2377.0" font-size="43.4">Hardware efficiency vs. Accuracy</text>
<text x="170.0" y="2429.0" font-size="42">•</text>
<text x="223.0" y="2429.0" font-size="43.4">Exponentially huge design space</text>
<rect x="154.0" y="2459.0" width="1241.0" height="171.0" fill="#A5D159" rx="15"/>
<text x="774.0" y="2508.0" font-size="43" fill="#C00000" font-weight="bold" text-anchor="middle">Our Goal</text>
<text x="170.0" y="2561.0" font-size="42" fill="#262626">•</text>
<text x="224.0" y="2561.0" font-size="43.5" fill="#262626" font-weight="bold">Improve BERT inference latency and energy cost</text>
<text x="170.0" y="2613.0" font-size="42" fill="#262626">•</text>
<text x="224.0" y="2613.0" font-size="43.5" fill="#262626" font-weight="bold">Without accuracy loss</text>
<text x="1402.0" y="450.0" font-size="53" fill="#C55A11">Automatic Hardware-Aware Tensor Decomposition Flow</text>
<text x="1440.0" y="507.0" font-size="32.5">•</text>
<text x="1472.0" y="507.0" font-size="32.5" word-spacing="1.6"><tspan >Automatically determine </tspan><tspan fill="#0070C0">tensorization shape (</tspan><tspan fill="#0070C0" font-weight="bold" font-style="italic" class="R">s</tspan><tspan fill="#0070C0">)</tspan><tspan > &amp; </tspan><tspan fill="#A865A0">decomposition ranks (</tspan><tspan fill="#A865A0" font-weight="bold" font-style="italic" class="R">r</tspan><tspan fill="#A865A0">)</tspan></text>
<text x="1440.0" y="553.0" font-size="32.5">•</text>
<text x="1472.0" y="553.0" font-size="32.5" word-spacing="0.75"><tspan >Hardware-aware optimization: </tspan><tspan font-weight="bold" font-style="italic">energy</tspan><tspan > &amp; </tspan><tspan font-weight="bold" font-style="italic">runtime</tspan></text>
<line x1="1258.0" y1="812.0" x2="1364.2" y2="812.0" stroke="#000" stroke-width="3" /><path d="M1377.0,812.0 L1361.0,818.0 L1361.0,806.0 Z" fill="#000"/>
<line x1="1741.0" y1="812.0" x2="1856.2" y2="812.0" stroke="#000" stroke-width="3" /><path d="M1869.0,812.0 L1853.0,818.0 L1853.0,806.0 Z" fill="#000"/>
<line x1="2254.0" y1="812.0" x2="2383.2" y2="812.0" stroke="#000" stroke-width="3" /><path d="M2396.0,812.0 L2380.0,818.0 L2380.0,806.0 Z" fill="#000"/>
<line x1="2701.0" y1="812.0" x2="2828.2" y2="812.0" stroke="#000" stroke-width="3" /><path d="M2841.0,812.0 L2825.0,818.0 L2825.0,806.0 Z" fill="#000"/>
<text x="1313.0" y="739.0" font-size="25.5" font-style="italic" text-anchor="middle">Target</text>
<text x="1313.0" y="768.0" font-size="25.5" font-style="italic" text-anchor="middle">hardware</text>
<text x="1313.0" y="801.0" font-size="28" class="R" font-weight="bold" font-style="italic" text-anchor="middle">α</text>
<text x="1802.0" y="739.0" font-size="25.5" font-style="italic" text-anchor="middle">Pareto</text>
<text x="1802.0" y="768.0" font-size="25.5" font-style="italic" text-anchor="middle">optimal</text>
<text x="1802.0" y="801.0" font-size="25.5" text-anchor="middle"><tspan font-style="italic">shape </tspan><tspan font-weight="bold" font-size="29" class="R">s</tspan><tspan font-size="18" class="R" dy="-11">*</tspan></text>
<text x="2327.0" y="739.0" font-size="25.5" font-style="italic" text-anchor="middle">Searched</text>
<text x="2327.0" y="768.0" font-size="25.5" font-style="italic" text-anchor="middle">per-tensor</text>
<text x="2327.0" y="801.0" font-size="25.5" text-anchor="middle"><tspan font-style="italic">ranks </tspan><tspan font-weight="bold" font-size="29" class="R">r</tspan><tspan font-size="18" class="R" dy="-11">*</tspan></text>
<text x="2771.0" y="735.0" font-size="25.5" font-style="italic" text-anchor="middle">Trained</text>
<text x="2771.0" y="765.0" font-size="25.5" font-style="italic" text-anchor="middle">factorized</text>
<text x="2771.0" y="796.0" font-size="25.5" text-anchor="middle"><tspan font-style="italic">weights </tspan><tspan font-weight="bold" font-size="28" class="R">Θ</tspan><tspan font-size="18" class="R" dy="-11">*</tspan></text>
<rect x="1380.0" y="586.0" width="361.0" height="383.0" fill="#ADC3EE" stroke="#000" stroke-width="2.5" rx="15"/>
<text x="1402.0" y="621.0" font-size="25.6">Explore Tensorization Space</text>
<path d="M1403,651 L1717,651 L1717,688 Q1640,676 1560,686 Q1480,698 1403,686 Z" fill="#fff" stroke="#000" stroke-width="2.5"/>
<text x="1560.0" y="674.0" font-size="25.6" text-anchor="middle">Shape Candidates</text>
<line x1="1560.0" y1="688.0" x2="1560.0" y2="700.0" stroke="#000" stroke-width="2" /><path d="M1560.0,708.0 L1556.2,698.0 L1563.8,698.0 Z" fill="#000"/>
<rect x="1404.0" y="709.0" width="313.0" height="92.0" fill="#E6E6E6" stroke="#000" stroke-width="2.5" rx="8"/>
<text x="1560.0" y="730.0" font-size="25.6" text-anchor="middle">Tensor Decomposition</text>
<rect x="1441.0" y="751.0" width="54.0" height="40.0" fill="#95B3E2" stroke="#333" stroke-width="2.5"/>
<line x1="1502.0" y1="771.0" x2="1559.0" y2="771.0" stroke="#000" stroke-width="2" /><path d="M1567.0,771.0 L1557.0,774.8 L1557.0,767.2 Z" fill="#000"/>
<rect x="1572.0" y="754.0" width="16.0" height="43.0" fill="#E6CCE2" stroke="#333" stroke-width="2"/>
<path d="M1594,764 L1605,754 L1635,754 L1624,764 Z" fill="#A9BCE0" stroke="#333" stroke-width="2"/>
<path d="M1624,764 L1635,754 L1635,775 L1624,784 Z" fill="#9EB2D8" stroke="#333" stroke-width="2"/>
<rect x="1594.0" y="764.0" width="30.0" height="20.0" fill="#B7CDF0" stroke="#333" stroke-width="2"/>
<path d="M1610,750 L1625,735 L1654,735 L1639,750 Z" fill="#F6DC8E" stroke="#333" stroke-width="1.5"/>
<rect x="1642.0" y="754.0" width="47.0" height="26.0" fill="#9BC8B8" stroke="#333" stroke-width="2"/>
<circle cx="1403.0" cy="817.0" r="3.8" fill="#000"/>
<text x="1430.0" y="825.0" font-size="25.6">Error</text>
<circle cx="1403.0" cy="849.0" r="3.8" fill="#000"/>
<text x="1430.0" y="857.0" font-size="25.6">#Params</text>
<circle cx="1597.0" cy="817.0" r="3.8" fill="#000"/>
<text x="1628.0" y="825.0" font-size="25.6">Energy</text>
<circle cx="1597.0" cy="849.0" r="3.8" fill="#000"/>
<text x="1624.0" y="857.0" font-size="25.6">Latency</text>
<rect x="1404.0" y="867.0" width="313.0" height="81.0" fill="#E6E6E6" stroke="#000" stroke-width="2.5" rx="8"/>
<rect x="1436.0" y="889.0" width="42.0" height="42.0" fill="#C8C8C8" rx="4"/>
<rect x="1430.0" y="884.0" width="42.0" height="42.0" fill="#8A8A8A" stroke="#000" stroke-width="2" rx="3"/>
<line x1="1437.0" y1="875.0" x2="1437.0" y2="884.0" stroke="#000" stroke-width="1.6" />
<line x1="1437.0" y1="926.0" x2="1437.0" y2="939.0" stroke="#000" stroke-width="1.6" />
<line x1="1418.0" y1="891.0" x2="1430.0" y2="891.0" stroke="#000" stroke-width="1.6" />
<line x1="1472.0" y1="891.0" x2="1483.0" y2="891.0" stroke="#000" stroke-width="1.6" />
<line x1="1446.5" y1="875.0" x2="1446.5" y2="884.0" stroke="#000" stroke-width="1.6" />
<line x1="1446.5" y1="926.0" x2="1446.5" y2="939.0" stroke="#000" stroke-width="1.6" />
<line x1="1418.0" y1="900.5" x2="1430.0" y2="900.5" stroke="#000" stroke-width="1.6" />
<line x1="1472.0" y1="900.5" x2="1483.0" y2="900.5" stroke="#000" stroke-width="1.6" />
<line x1="1456.0" y1="875.0" x2="1456.0" y2="884.0" stroke="#000" stroke-width="1.6" />
<line x1="1456.0" y1="926.0" x2="1456.0" y2="939.0" stroke="#000" stroke-width="1.6" />
<line x1="1418.0" y1="910.0" x2="1430.0" y2="910.0" stroke="#000" stroke-width="1.6" />
<line x1="1472.0" y1="910.0" x2="1483.0" y2="910.0" stroke="#000" stroke-width="1.6" />
<line x1="1465.5" y1="875.0" x2="1465.5" y2="884.0" stroke="#000" stroke-width="1.6" />
<line x1="1465.5" y1="926.0" x2="1465.5" y2="939.0" stroke="#000" stroke-width="1.6" />
<line x1="1418.0" y1="919.5" x2="1430.0" y2="919.5" stroke="#000" stroke-width="1.6" />
<line x1="1472.0" y1="919.5" x2="1483.0" y2="919.5" stroke="#000" stroke-width="1.6" />
<text x="1492.0" y="901.0" font-size="25.6">Hardware-Aware</text>
<text x="1588.0" y="932.0" font-size="25.6" text-anchor="middle">Optimization</text>
<path d="M1404,780 Q1380,830 1400,880" fill="none" stroke="#000" stroke-width="2"/>
<path d="M1404.0,886.0 L1396.4,878.5 L1403.2,875.4 Z" fill="#000"/>
<path d="M1717,885 Q1738,830 1719,783" fill="none" stroke="#000" stroke-width="2"/>
<path d="M1717.0,777.0 L1724.6,784.5 L1717.8,787.6 Z" fill="#000"/>
<text x="1557.0" y="1006.0" font-size="25.6" text-anchor="middle">Level 1</text>
<text x="1361.0" y="1037.0" font-size="31" class="R" textLength="390" lengthAdjust="spacingAndGlyphs"><tspan font-weight="bold">s</tspan><tspan font-size="18" dy="-12">*</tspan><tspan dy="12"> = </tspan><tspan class="M" stroke="#000" stroke-width="0.35">Pareto</tspan><tspan font-weight="bold" font-size="18" dy="6">s</tspan><tspan dy="-6">(</tspan><tspan class="M" stroke="#000" stroke-width="0.35">Cost</tspan><tspan font-size="18" dy="-12">*</tspan><tspan dy="12">(</tspan><tspan font-style="italic">s</tspan><tspan >|</tspan><tspan font-style="italic">α</tspan><tspan >), </tspan><tspan font-style="italic">ϵ</tspan><tspan >, </tspan><tspan font-style="italic">c</tspan><tspan >)</tspan></text>
<rect x="1870.0" y="586.0" width="384.0" height="383.0" fill="#E4D0E2" stroke="#000" stroke-width="2.5" rx="15"/>
<text x="1879.0" y="621.0" font-size="25.6">Explore Per-tensor Rank Space</text>
<rect x="1930.0" y="637.0" width="264.0" height="37.0" fill="#E6E6E6" stroke="#000" stroke-width="2.5" rx="3"/>
<text x="2062.0" y="664.0" font-size="25.6" text-anchor="middle">Accuracy Predictor</text>
<line x1="2062.0" y1="674.0" x2="2062.0" y2="695.0" stroke="#000" stroke-width="2" /><path d="M2062.0,703.0 L2058.2,693.0 L2065.8,693.0 Z" fill="#000"/>
<rect x="1914.0" y="710.0" width="305.0" height="161.0" fill="#B5A3B0" rx="7"/>
<rect x="1909.0" y="704.0" width="306.0" height="161.0" fill="#CECECE" rx="7"/>
<ellipse cx="2067.0" cy="790.0" rx="140.0" ry="58.0" fill="none" stroke="#000" stroke-width="2" stroke-dasharray="2 3" transform="rotate(20 2067 790)"/>
<ellipse cx="2077.0" cy="793.0" rx="108.0" ry="42.0" fill="none" stroke="#000" stroke-width="2" stroke-dasharray="2 3" transform="rotate(20 2077 793)"/>
<ellipse cx="2083.0" cy="796.0" rx="72.0" ry="24.0" fill="none" stroke="#000" stroke-width="2" stroke-dasharray="2 3" transform="rotate(20 2083 796)"/>
<path d="M1875,677 L1997,677 L1997,759 L1960,762 L1960,776 L1940,759 L1875,758 Z" fill="#F2A0A6" opacity="0.85"/>
<path d="M2118,715 L2241,715 L2241,797 L2140,797 L2092,806 L2118,790 Z" fill="#98C7BE" opacity="0.9"/>
<line x1="1959.0" y1="776.0" x2="2038.4" y2="751.0" stroke="#000" stroke-width="2" /><path d="M2045.3,748.8 L2037.7,754.7 L2035.7,748.3 Z" fill="#000"/>
<line x1="2051.0" y1="747.0" x2="2025.5" y2="784.1" stroke="#000" stroke-width="2" /><path d="M2021.4,790.1 L2023.7,780.7 L2029.3,784.6 Z" fill="#000"/>
<line x1="2018.0" y1="795.0" x2="2054.0" y2="778.5" stroke="#000" stroke-width="2" /><path d="M2060.5,775.5 L2053.8,782.3 L2051.0,776.2 Z" fill="#000"/>
<line x1="2066.0" y1="773.0" x2="2082.9" y2="794.6" stroke="#000" stroke-width="2" /><path d="M2087.3,800.3 L2079.1,795.3 L2084.4,791.1 Z" fill="#000"/>
<circle cx="1959.0" cy="776.0" r="5.5" fill="#C8102E"/>
<circle cx="2051.0" cy="747.0" r="5.5" fill="#C8102E"/>
<circle cx="2018.0" cy="795.0" r="5.5" fill="#C0600E"/>
<circle cx="2066.0" cy="773.0" r="5.5" fill="#F5A623"/>
<circle cx="2091.0" cy="805.0" r="5.5" fill="#6AD12A"/>
<text x="1935.0" y="697.0" font-size="22" class="R" text-anchor="middle"><tspan >(</tspan><tspan font-weight="bold">s</tspan><tspan font-size="14" dy="-8">*</tspan><tspan dy="8">, </tspan><tspan font-weight="bold">r</tspan><tspan font-size="15" dy="4">1</tspan><tspan dy="-4">)</tspan></text>
<text x="1935.0" y="723.0" font-size="22" text-anchor="middle">72% Acc</text>
<text x="1935.0" y="748.0" font-size="22" text-anchor="middle"><tspan >15 </tspan><tspan font-style="italic" class="R">μJ</tspan><tspan > · </tspan><tspan font-style="italic" class="R">s</tspan></text>
<text x="2179.0" y="735.0" font-size="22" class="R" text-anchor="middle"><tspan >(</tspan><tspan font-weight="bold">s</tspan><tspan font-size="14" dy="-8">*</tspan><tspan dy="8">, </tspan><tspan font-weight="bold">r</tspan><tspan font-size="15" dy="4">2</tspan><tspan dy="-4">)</tspan></text>
<text x="2179.0" y="761.0" font-size="22" text-anchor="middle">81% Acc</text>
<text x="2179.0" y="785.0" font-size="22" text-anchor="middle"><tspan >10 </tspan><tspan font-style="italic" class="R">μJ</tspan><tspan > · </tspan><tspan font-style="italic" class="R">s</tspan></text>
<rect x="1930.0" y="900.0" width="264.0" height="37.0" fill="#E6E6E6" stroke="#000" stroke-width="2.5" rx="3"/>
<text x="2062.0" y="926.0" font-size="25.6" text-anchor="middle">Hardware Cost Table</text>
<line x1="2062.0" y1="900.0" x2="2062.0" y2="875.0" stroke="#000" stroke-width="2" /><path d="M2062.0,867.0 L2065.8,877.0 L2058.2,877.0 Z" fill="#000"/>
<text x="2063.0" y="1006.0" font-size="25.6" text-anchor="middle">Level 2</text>
<text x="1869.0" y="1037.0" font-size="31" class="R" textLength="386" lengthAdjust="spacingAndGlyphs"><tspan font-weight="bold">r</tspan><tspan font-size="18" dy="-12">*</tspan><tspan dy="12"> = argmin</tspan><tspan font-weight="bold" font-size="18" dy="6">r</tspan><tspan dy="-6">(1 − </tspan><tspan class="M" stroke="#000" stroke-width="0.35">Acc</tspan><tspan >)</tspan><tspan class="M" stroke="#000" stroke-width="0.35">Cost</tspan><tspan font-size="18" dy="-12">*γ</tspan></text>
<rect x="2398.0" y="586.0" width="303.0" height="383.0" fill="#D5E8D4" stroke="#000" stroke-width="2.5" rx="15"/>
<text x="2408.0" y="621.0" font-size="25.6">Retrain Searched Model</text>
<line x1="2554.0" y1="636.0" x2="2554.0" y2="653.0" stroke="#000" stroke-width="2" />
<line x1="2554.0" y1="746.0" x2="2554.0" y2="758.0" stroke="#000" stroke-width="2" />
<rect x="2450.0" y="653.0" width="201.0" height="93.0" fill="#CCCCCC" stroke="#000" stroke-width="2" rx="6" stroke-dasharray="6 4"/>
<line x1="2484.0" y1="669.0" x2="2519.0" y2="690.0" stroke="#000" stroke-width="0.8" />
<line x1="2484.0" y1="669.0" x2="2554.0" y2="690.0" stroke="#000" stroke-width="0.8" />
<line x1="2484.0" y1="669.0" x2="2589.0" y2="690.0" stroke="#000" stroke-width="0.8" />
<line x1="2519.0" y1="669.0" x2="2519.0" y2="690.0" stroke="#000" stroke-width="0.8" />
<line x1="2519.0" y1="669.0" x2="2554.0" y2="690.0" stroke="#000" stroke-width="0.8" />
<line x1="2519.0" y1="669.0" x2="2589.0" y2="690.0" stroke="#000" stroke-width="0.8" />
<line x1="2554.0" y1="669.0" x2="2519.0" y2="690.0" stroke="#000" stroke-width="0.8" />
<line x1="2554.0" y1="669.0" x2="2554.0" y2="690.0" stroke="#000" stroke-width="0.8" />
<line x1="2554.0" y1="669.0" x2="2589.0" y2="690.0" stroke="#000" stroke-width="0.8" />
<line x1="2589.0" y1="669.0" x2="2519.0" y2="690.0" stroke="#000" stroke-width="0.8" />
<line x1="2589.0" y1="669.0" x2="2554.0" y2="690.0" stroke="#000" stroke-width="0.8" />
<line x1="2589.0" y1="669.0" x2="2589.0" y2="690.0" stroke="#000" stroke-width="0.8" />
<line x1="2624.0" y1="669.0" x2="2519.0" y2="690.0" stroke="#000" stroke-width="0.8" />
<line x1="2624.0" y1="669.0" x2="2554.0" y2="690.0" stroke="#000" stroke-width="0.8" />
<line x1="2624.0" y1="669.0" x2="2589.0" y2="690.0" stroke="#000" stroke-width="0.8" />
<line x1="2519.0" y1="690.0" x2="2501.0" y2="711.0" stroke="#000" stroke-width="0.8" />
<line x1="2519.0" y1="690.0" x2="2536.0" y2="711.0" stroke="#000" stroke-width="0.8" />
<line x1="2519.0" y1="690.0" x2="2571.0" y2="711.0" stroke="#000" stroke-width="0.8" />
<line x1="2519.0" y1="690.0" x2="2606.0" y2="711.0" stroke="#000" stroke-width="0.8" />
<line x1="2554.0" y1="690.0" x2="2501.0" y2="711.0" stroke="#000" stroke-width="0.8" />
<line x1="2554.0" y1="690.0" x2="2536.0" y2="711.0" stroke="#000" stroke-width="0.8" />
<line x1="2554.0" y1="690.0" x2="2571.0" y2="711.0" stroke="#000" stroke-width="0.8" />
<line x1="2554.0" y1="690.0" x2="2606.0" y2="711.0" stroke="#000" stroke-width="0.8" />
<line x1="2589.0" y1="690.0" x2="2501.0" y2="711.0" stroke="#000" stroke-width="0.8" />
<line x1="2589.0" y1="690.0" x2="2536.0" y2="711.0" stroke="#000" stroke-width="0.8" />
<line x1="2589.0" y1="690.0" x2="2571.0" y2="711.0" stroke="#000" stroke-width="0.8" />
<line x1="2589.0" y1="690.0" x2="2606.0" y2="711.0" stroke="#000" stroke-width="0.8" />
<line x1="2501.0" y1="711.0" x2="2484.0" y2="733.0" stroke="#000" stroke-width="0.8" />
<line x1="2501.0" y1="711.0" x2="2519.0" y2="733.0" stroke="#000" stroke-width="0.8" />
<line x1="2501.0" y1="711.0" x2="2554.0" y2="733.0" stroke="#000" stroke-width="0.8" />
<line x1="2501.0" y1="711.0" x2="2589.0" y2="733.0" stroke="#000" stroke-width="0.8" />
<line x1="2501.0" y1="711.0" x2="2624.0" y2="733.0" stroke="#000" stroke-width="0.8" />
<line x1="2536.0" y1="711.0" x2="2484.0" y2="733.0" stroke="#000" stroke-width="0.8" />
<line x1="2536.0" y1="711.0" x2="2519.0" y2="733.0" stroke="#000" stroke-width="0.8" />
<line x1="2536.0" y1="711.0" x2="2554.0" y2="733.0" stroke="#000" stroke-width="0.8" />
<line x1="2536.0" y1="711.0" x2="2589.0" y2="733.0" stroke="#000" stroke-width="0.8" />
<line x1="2536.0" y1="711.0" x2="2624.0" y2="733.0" stroke="#000" stroke-width="0.8" />
<line x1="2571.0" y1="711.0" x2="2484.0" y2="733.0" stroke="#000" stroke-width="0.8" />
<line x1="2571.0" y1="711.0" x2="2519.0" y2="733.0" stroke="#000" stroke-width="0.8" />
<line x1="2571.0" y1="711.0" x2="2554.0" y2="733.0" stroke="#000" stroke-width="0.8" />
<line x1="2571.0" y1="711.0" x2="2589.0" y2="733.0" stroke="#000" stroke-width="0.8" />
<line x1="2571.0" y1="711.0" x2="2624.0" y2="733.0" stroke="#000" stroke-width="0.8" />
<line x1="2606.0" y1="711.0" x2="2484.0" y2="733.0" stroke="#000" stroke-width="0.8" />
<line x1="2606.0" y1="711.0" x2="2519.0" y2="733.0" stroke="#000" stroke-width="0.8" />
<line x1="2606.0" y1="711.0" x2="2554.0" y2="733.0" stroke="#000" stroke-width="0.8" />
<line x1="2606.0" y1="711.0" x2="2589.0" y2="733.0" stroke="#000" stroke-width="0.8" />
<line x1="2606.0" y1="711.0" x2="2624.0" y2="733.0" stroke="#000" stroke-width="0.8" />
<circle cx="2484.0" cy="669.0" r="5.5" fill="#B468AE"/>
<circle cx="2519.0" cy="669.0" r="5.5" fill="#B468AE"/>
<circle cx="2554.0" cy="669.0" r="5.5" fill="#B468AE"/>
<circle cx="2589.0" cy="669.0" r="5.5" fill="#B468AE"/>
<circle cx="2624.0" cy="669.0" r="5.5" fill="#B468AE"/>
<circle cx="2519.0" cy="690.0" r="5.5" fill="#B468AE"/>
<circle cx="2554.0" cy="690.0" r="5.5" fill="#B468AE"/>
<circle cx="2589.0" cy="690.0" r="5.5" fill="#B468AE"/>
<circle cx="2501.0" cy="711.0" r="5.5" fill="#B468AE"/>
<circle cx="2536.0" cy="711.0" r="5.5" fill="#B468AE"/>
<circle cx="2571.0" cy="711.0" r="5.5" fill="#B468AE"/>
<circle cx="2606.0" cy="711.0" r="5.5" fill="#B468AE"/>
<circle cx="2484.0" cy="733.0" r="5.5" fill="#B468AE"/>
<circle cx="2519.0" cy="733.0" r="5.5" fill="#B468AE"/>
<circle cx="2554.0" cy="733.0" r="5.5" fill="#B468AE"/>
<circle cx="2589.0" cy="733.0" r="5.5" fill="#B468AE"/>
<circle cx="2624.0" cy="733.0" r="5.5" fill="#B468AE"/>
<rect x="2450.0" y="758.0" width="201.0" height="93.0" fill="#CCCCCC" stroke="#000" stroke-width="2" rx="6" stroke-dasharray="6 4"/>
<line x1="2484.0" y1="774.0" x2="2519.0" y2="795.0" stroke="#000" stroke-width="0.8" />
<line x1="2484.0" y1="774.0" x2="2554.0" y2="795.0" stroke="#000" stroke-width="0.8" />
<line x1="2484.0" y1="774.0" x2="2589.0" y2="795.0" stroke="#000" stroke-width="0.8" />
<line x1="2519.0" y1="774.0" x2="2519.0" y2="795.0" stroke="#000" stroke-width="0.8" />
<line x1="2519.0" y1="774.0" x2="2554.0" y2="795.0" stroke="#000" stroke-width="0.8" />
<line x1="2519.0" y1="774.0" x2="2589.0" y2="795.0" stroke="#000" stroke-width="0.8" />
<line x1="2554.0" y1="774.0" x2="2519.0" y2="795.0" stroke="#000" stroke-width="0.8" />
<line x1="2554.0" y1="774.0" x2="2554.0" y2="795.0" stroke="#000" stroke-width="0.8" />
<line x1="2554.0" y1="774.0" x2="2589.0" y2="795.0" stroke="#000" stroke-width="0.8" />
<line x1="2589.0" y1="774.0" x2="2519.0" y2="795.0" stroke="#000" stroke-width="0.8" />
<line x1="2589.0" y1="774.0" x2="2554.0" y2="795.0" stroke="#000" stroke-width="0.8" />
<line x1="2589.0" y1="774.0" x2="2589.0" y2="795.0" stroke="#000" stroke-width="0.8" />
<line x1="2624.0" y1="774.0" x2="2519.0" y2="795.0" stroke="#000" stroke-width="0.8" />
<line x1="2624.0" y1="774.0" x2="2554.0" y2="795.0" stroke="#000" stroke-width="0.8" />
<line x1="2624.0" y1="774.0" x2="2589.0" y2="795.0" stroke="#000" stroke-width="0.8" />
<line x1="2519.0" y1="795.0" x2="2536.0" y2="816.0" stroke="#000" stroke-width="0.8" />
<line x1="2519.0" y1="795.0" x2="2571.0" y2="816.0" stroke="#000" stroke-width="0.8" />
<line x1="2554.0" y1="795.0" x2="2536.0" y2="816.0" stroke="#000" stroke-width="0.8" />
<line x1="2554.0" y1="795.0" x2="2571.0" y2="816.0" stroke="#000" stroke-width="0.8" />
<line x1="2589.0" y1="795.0" x2="2536.0" y2="816.0" stroke="#000" stroke-width="0.8" />
<line x1="2589.0" y1="795.0" x2="2571.0" y2="816.0" stroke="#000" stroke-width="0.8" />
<line x1="2536.0" y1="816.0" x2="2484.0" y2="838.0" stroke="#000" stroke-width="0.8" />
<line x1="2536.0" y1="816.0" x2="2519.0" y2="838.0" stroke="#000" stroke-width="0.8" />
<line x1="2536.0" y1="816.0" x2="2554.0" y2="838.0" stroke="#000" stroke-width="0.8" />
<line x1="2536.0" y1="816.0" x2="2589.0" y2="838.0" stroke="#000" stroke-width="0.8" />
<line x1="2536.0" y1="816.0" x2="2624.0" y2="838.0" stroke="#000" stroke-width="0.8" />
<line x1="2571.0" y1="816.0" x2="2484.0" y2="838.0" stroke="#000" stroke-width="0.8" />
<line x1="2571.0" y1="816.0" x2="2519.0" y2="838.0" stroke="#000" stroke-width="0.8" />
<line x1="2571.0" y1="816.0" x2="2554.0" y2="838.0" stroke="#000" stroke-width="0.8" />
<line x1="2571.0" y1="816.0" x2="2589.0" y2="838.0" stroke="#000" stroke-width="0.8" />
<line x1="2571.0" y1="816.0" x2="2624.0" y2="838.0" stroke="#000" stroke-width="0.8" />
<circle cx="2484.0" cy="774.0" r="5.5" fill="#B468AE"/>
<circle cx="2519.0" cy="774.0" r="5.5" fill="#B468AE"/>
<circle cx="2554.0" cy="774.0" r="5.5" fill="#B468AE"/>
<circle cx="2589.0" cy="774.0" r="5.5" fill="#B468AE"/>
<circle cx="2624.0" cy="774.0" r="5.5" fill="#B468AE"/>
<circle cx="2519.0" cy="795.0" r="5.5" fill="#B468AE"/>
<circle cx="2554.0" cy="795.0" r="5.5" fill="#B468AE"/>
<circle cx="2589.0" cy="795.0" r="5.5" fill="#B468AE"/>
<circle cx="2536.0" cy="816.0" r="5.5" fill="#B468AE"/>
<circle cx="2571.0" cy="816.0" r="5.5" fill="#B468AE"/>
<circle cx="2484.0" cy="838.0" r="5.5" fill="#B468AE"/>
<circle cx="2519.0" cy="838.0" r="5.5" fill="#B468AE"/>
<circle cx="2554.0" cy="838.0" r="5.5" fill="#B468AE"/>
<circle cx="2589.0" cy="838.0" r="5.5" fill="#B468AE"/>
<circle cx="2624.0" cy="838.0" r="5.5" fill="#B468AE"/>
<line x1="2554.0" y1="851.0" x2="2554.0" y2="862.8" stroke="#000" stroke-width="2" /><path d="M2554.0,870.0 L2550.6,861.0 L2557.4,861.0 Z" fill="#000"/>
<text x="2514.0" y="862.0" font-size="14">· · ·</text>
<line x1="2442.0" y1="957.0" x2="2442.0" y2="881.0" stroke="#000" stroke-width="2" /><path d="M2442.0,873.0 L2445.8,883.0 L2438.2,883.0 Z" fill="#000"/>
<line x1="2442.0" y1="957.0" x2="2649.0" y2="957.0" stroke="#000" stroke-width="2" /><path d="M2657.0,957.0 L2647.0,960.8 L2647.0,953.2 Z" fill="#000"/>
<path d="M2455,944 C2480,905 2500,890 2530,887 C2570,883 2600,882 2638,879" fill="none" stroke="#000" stroke-width="2.5"/>
<polygon points="2639.0,871.0 2641.1,876.2 2646.6,876.5 2642.3,880.1 2643.7,885.5 2639.0,882.5 2634.3,885.5 2635.7,880.1 2631.4,876.5 2636.9,876.2" fill="#B468AE"/>
<text x="2433.0" y="917.0" font-size="24" text-anchor="middle" transform="rotate(-90 2433 917)">Acc</text>
<text x="2558.0" y="911.0" font-size="22" fill="#3A6FD6" font-style="italic" text-anchor="middle">Recover</text>
<text x="2558.0" y="938.0" font-size="22" fill="#3A6FD6" font-style="italic" text-anchor="middle">Accuracy</text>
<text x="2635.0" y="945.0" font-size="24">Step</text>
<text x="2561.0" y="1006.0" font-size="25.6" text-anchor="middle">Level 3</text>
<text x="2344.0" y="1037.0" font-size="31" class="R" textLength="435" lengthAdjust="spacingAndGlyphs"><tspan >Θ</tspan><tspan font-size="18" dy="-12">*</tspan><tspan dy="12">(</tspan><tspan font-weight="bold">s</tspan><tspan font-size="18" dy="-12">*</tspan><tspan dy="12">, </tspan><tspan font-weight="bold">r</tspan><tspan font-size="18" dy="-12">*</tspan><tspan dy="12">) = argmin</tspan><tspan font-size="18" dy="6">Θ</tspan><tspan font-style="italic" dy="-6">ℒ</tspan><tspan >(Θ(</tspan><tspan font-weight="bold">s</tspan><tspan font-size="18" dy="-12">*</tspan><tspan dy="12">, </tspan><tspan font-weight="bold">r</tspan><tspan font-size="18" dy="-12">*</tspan><tspan dy="12">))</tspan></text>
<text x="1445.0" y="1123.0" font-size="32.7" font-weight="bold">Tensorization shape search</text>
<rect x="1894.0" y="1069.0" width="972.0" height="74.0" fill="#A5D159" rx="13"/>
<text x="1915.0" y="1123.0" font-size="45" fill="#C00000" textLength="644" lengthAdjust="spacingAndGlyphs"><tspan >Close the Gap between </tspan><tspan font-style="italic">Software</tspan></text>
<line x1="2574.0" y1="1108.0" x2="2622.0" y2="1108.0" stroke="#C00000" stroke-width="2.5" />
<path d="M2582,1099 L2572,1108 L2582,1117" fill="none" stroke="#C00000" stroke-width="2.5"/>
<path d="M2614,1099 L2624,1108 L2614,1117" fill="none" stroke="#C00000" stroke-width="2.5"/>
<text x="2638.0" y="1123.0" font-size="45" fill="#C00000" textLength="202" lengthAdjust="spacingAndGlyphs"><tspan font-style="italic">Hardware</tspan><tspan >!</tspan></text>
<text x="1440.0" y="1176.0" font-size="32.5">•</text>
<text x="1477.0" y="1176.0" font-size="32.5">Find optimal tensor contraction path</text>
<line x1="2016.0" y1="1166.0" x2="2030.0" y2="1166.0" stroke="#000" stroke-width="2" />
<line x1="2040.0" y1="1166.0" x2="2054.0" y2="1166.0" stroke="#000" stroke-width="2" />
<line x1="2063.0" y1="1166.0" x2="2086.0" y2="1166.0" stroke="#000" stroke-width="2" />
<path d="M2079,1160 L2088,1166 L2079,1172" fill="none" stroke="#000" stroke-width="2"/>
<text x="2125.0" y="1176.0" font-size="32.5">Find optimal hardware mapping</text>
<rect x="1540.0" y="1263.0" width="383.0" height="183.0" fill="#D9D9D9" rx="12"/>
<rect x="1535.0" y="1257.0" width="383.0" height="183.0" fill="#D3B6CA" rx="12"/>
<rect x="1535.0" y="1257.0" width="383.0" height="9.0" fill="#DCC4D6" rx="8"/>
<text x="1720.0" y="1228.0" font-size="26.5" font-weight="bold" text-anchor="middle">Precomputed MAC-Optimal</text>
<text x="1722.0" y="1260.0" font-size="26.5" font-weight="bold" text-anchor="middle">Tensor Contraction Tree</text>
<text x="1591.0" y="1287.0" font-size="25" fill="#A31F34">bc</text>
<text x="1678.0" y="1287.0" font-size="25">da</text>
<text x="1756.0" y="1287.0" font-size="25">ea</text>
<text x="1836.0" y="1287.0" font-size="25">ca</text>
<text x="1700.0" y="1365.0" font-size="25">dae</text>
<text x="1810.0" y="1365.0" font-size="25" fill="#A31F34">ab</text>
<text x="1754.0" y="1427.0" font-size="25" fill="#A31F34">bde</text>
<line x1="1607.0" y1="1296.0" x2="1789.8" y2="1329.1" stroke="#A31F34" stroke-width="3" /><path d="M1800.0,1331.0 L1786.3,1333.5 L1788.1,1323.9 Z" fill="#A31F34"/>
<line x1="1694.0" y1="1296.0" x2="1721.5" y2="1322.8" stroke="#000" stroke-width="3" /><path d="M1729.0,1330.0 L1716.3,1324.4 L1723.1,1317.4 Z" fill="#000"/>
<line x1="1781.0" y1="1296.0" x2="1748.0" y2="1323.4" stroke="#000" stroke-width="3" /><path d="M1740.0,1330.0 L1746.9,1317.9 L1753.1,1325.5 Z" fill="#000"/>
<line x1="1852.0" y1="1296.0" x2="1819.9" y2="1323.3" stroke="#000" stroke-width="3" /><path d="M1812.0,1330.0 L1818.7,1317.9 L1825.1,1325.3 Z" fill="#000"/>
<line x1="1738.0" y1="1342.0" x2="1762.8" y2="1361.6" stroke="#000" stroke-width="3" /><path d="M1771.0,1368.0 L1757.8,1363.8 L1763.8,1356.1 Z" fill="#000"/>
<line x1="1807.0" y1="1343.0" x2="1788.5" y2="1360.8" stroke="#A31F34" stroke-width="3" /><path d="M1781.0,1368.0 L1787.0,1355.5 L1793.7,1362.5 Z" fill="#A31F34"/>
<line x1="1776.0" y1="1382.0" x2="1776.5" y2="1394.6" stroke="#A31F34" stroke-width="3" /><path d="M1777.0,1405.0 L1771.6,1392.2 L1781.3,1391.8 Z" fill="#A31F34"/>
<circle cx="1734.0" cy="1336.0" r="7.5" fill="#2E7FD1"/>
<circle cx="1807.0" cy="1336.0" r="7.5" fill="#2E7FD1"/>
<circle cx="1776.0" cy="1374.0" r="7.5" fill="#2E7FD1"/>
<rect x="2182.0" y="1214.0" width="323.0" height="235.0" fill="#BDBDBD" rx="10"/>
<rect x="2176.0" y="1207.0" width="323.0" height="235.0" fill="#E6E6E6" rx="10"/>
<path d="M2188,1216 L2242,1216 L2260,1234 L2260,1287 L2188,1287 Z" fill="#fff" stroke="#000" stroke-width="2.5"/>
<path d="M2194,1222 L2248,1222 L2266,1240 L2266,1293 L2194,1293 Z" fill="#fff" stroke="#000" stroke-width="2.5"/>
<path d="M2200,1228 L2254,1228 L2272,1246 L2272,1299 L2200,1299 Z" fill="#CCCCCC" stroke="#000" stroke-width="2.5"/>
<path d="M2254,1228 L2254,1246 L2272,1246" fill="#E0E0E0" stroke="#000" stroke-width="2"/>
<text x="2208.0" y="1262.0" font-size="24" fill="#222">Prob.</text>
<text x="2215.0" y="1295.0" font-size="24" fill="#222">Inst.</text>
<rect x="2314.0" y="1231.0" width="96.0" height="87.0" fill="#AAAAAA" rx="8"/>
<rect x="2298.0" y="1214.0" width="95.0" height="85.0" fill="#fff" stroke="#000" stroke-width="2.5" rx="8"/>
<rect x="2304.0" y="1220.0" width="95.0" height="85.0" fill="#fff" stroke="#000" stroke-width="2.5" rx="8"/>
<rect x="2310.0" y="1226.0" width="95.0" height="85.0" fill="#F5F5F5" stroke="#000" stroke-width="2.5" rx="8"/>
<text x="2357.0" y="1262.0" font-size="24" fill="#222" text-anchor="middle">Map</text>
<text x="2357.0" y="1295.0" font-size="24" fill="#222" text-anchor="middle">Constr.</text>
<rect x="2428.0" y="1236.0" width="64.0" height="85.0" fill="#AAAAAA" rx="8"/>
<rect x="2423.0" y="1228.0" width="64.0" height="85.0" fill="#F5F5F5" stroke="#000" stroke-width="2.5" rx="8"/>
<text x="2455.0" y="1281.0" font-size="24" fill="#222" text-anchor="middle">Obj</text>
<line x1="2232.0" y1="1316.0" x2="2232.0" y2="1332.0" stroke="#000" stroke-width="2.5" stroke-dasharray="3 3"/>
<path d="M2232.0,1340.0 L2228.2,1330.0 L2235.8,1330.0 Z" fill="#000"/>
<line x1="2342.0" y1="1318.0" x2="2342.0" y2="1332.0" stroke="#000" stroke-width="2.5" stroke-dasharray="3 3"/>
<path d="M2342.0,1340.0 L2338.2,1330.0 L2345.8,1330.0 Z" fill="#000"/>
<line x1="2452.0" y1="1316.0" x2="2452.0" y2="1332.0" stroke="#000" stroke-width="2.5" stroke-dasharray="3 3"/>
<path d="M2452.0,1340.0 L2448.2,1330.0 L2455.8,1330.0 Z" fill="#000"/>
<rect x="2211.0" y="1346.0" width="273.0" height="86.0" fill="#AAAAAA" rx="8"/>
<rect x="2206.0" y="1340.0" width="273.0" height="86.0" fill="#F5F5F5" stroke="#000" stroke-width="2.5" rx="8"/>
<text x="2343.0" y="1375.0" font-size="27" fill="#333" font-weight="bold" text-anchor="middle">Search in</text>
<text x="2343.0" y="1407.0" font-size="27" fill="#333" font-weight="bold" text-anchor="middle">Map Space</text>
<line x1="2143.0" y1="1384.0" x2="2196.4" y2="1384.0" stroke="#000" stroke-width="3" /><path d="M2206.0,1384.0 L2194.0,1388.5 L2194.0,1379.5 Z" fill="#000"/>
<line x1="2479.0" y1="1384.0" x2="2532.4" y2="1384.0" stroke="#000" stroke-width="3" /><path d="M2542.0,1384.0 L2530.0,1388.5 L2530.0,1379.5 Z" fill="#000"/>
<text x="2169.0" y="1367.0" font-size="30" class="R" font-style="italic">p</text>
<text x="2498.0" y="1367.0" font-size="30" class="R" font-style="italic">m</text>
<text x="1440.0" y="1496.0" font-size="32.5">•</text>
<text x="1470.0" y="1496.0" font-size="32.5" word-spacing="2.75"><tspan >Find Pareto-optimal tensorization shape (</tspan><tspan font-style="italic" class="R">s</tspan><tspan font-size="20" dy="-12">*</tspan><tspan dy="12">)</tspan></text>
<line x1="1600.0" y1="1560.0" x2="1612.0" y2="1796.0" stroke="#E3E7F0" stroke-width="1.5" />
<line x1="1682.0" y1="1556.0" x2="1690.0" y2="1760.0" stroke="#E3E7F0" stroke-width="1.5" />
<line x1="1755.0" y1="1566.0" x2="1758.0" y2="1745.0" stroke="#E3E7F0" stroke-width="1.5" />
<line x1="1800.0" y1="1575.0" x2="1800.0" y2="1745.0" stroke="#E3E7F0" stroke-width="1.5" />
<line x1="1894.0" y1="1576.0" x2="1890.0" y2="1745.0" stroke="#E3E7F0" stroke-width="1.5" />
<line x1="1519.0" y1="1608.0" x2="1756.0" y2="1566.0" stroke="#E3E7F0" stroke-width="1.5" />
<line x1="1522.0" y1="1665.0" x2="1757.0" y2="1618.0" stroke="#E3E7F0" stroke-width="1.5" />
<line x1="1527.0" y1="1716.0" x2="1758.0" y2="1670.0" stroke="#E3E7F0" stroke-width="1.5" />
<line x1="1530.0" y1="1768.0" x2="1756.0" y2="1722.0" stroke="#E3E7F0" stroke-width="1.5" />
<line x1="1756.0" y1="1566.0" x2="1941.0" y2="1632.0" stroke="#E3E7F0" stroke-width="1.5" />
<line x1="1757.0" y1="1618.0" x2="1941.0" y2="1685.0" stroke="#E3E7F0" stroke-width="1.5" />
<line x1="1758.0" y1="1670.0" x2="1941.0" y2="1760.0" stroke="#E3E7F0" stroke-width="1.5" />
<line x1="1756.0" y1="1722.0" x2="1941.0" y2="1800.0" stroke="#E3E7F0" stroke-width="1.5" />
<line x1="1548.0" y1="1836.0" x2="1757.0" y2="1745.0" stroke="#E3E7F0" stroke-width="1.5" />
<line x1="1575.0" y1="1873.0" x2="1800.0" y2="1770.0" stroke="#E3E7F0" stroke-width="1.5" />
<line x1="1605.0" y1="1918.0" x2="1860.0" y2="1800.0" stroke="#E3E7F0" stroke-width="1.5" />
<line x1="1640.0" y1="1968.0" x2="1900.0" y2="1825.0" stroke="#E3E7F0" stroke-width="1.5" />
<line x1="1610.0" y1="1796.0" x2="1665.0" y2="1996.0" stroke="#E3E7F0" stroke-width="1.5" />
<line x1="1690.0" y1="1760.0" x2="1760.0" y2="1960.0" stroke="#E3E7F0" stroke-width="1.5" />
<line x1="1758.0" y1="1745.0" x2="1820.0" y2="1930.0" stroke="#E3E7F0" stroke-width="1.5" />
<line x1="1800.0" y1="1745.0" x2="1880.0" y2="1900.0" stroke="#E3E7F0" stroke-width="1.5" />
<defs><linearGradient id="gE" x1="1503" y1="1564" x2="1531" y2="1810" gradientUnits="userSpaceOnUse"><stop offset="0" stop-color="#C0392B"/><stop offset="0.45" stop-color="#E3B505"/><stop offset="1" stop-color="#3C9A4B"/></linearGradient><linearGradient id="gD" x1="1531" y1="1810" x2="1653" y2="1989" gradientUnits="userSpaceOnUse"><stop offset="0" stop-color="#C0392B"/><stop offset="0.45" stop-color="#E3B505"/><stop offset="1" stop-color="#3C9A4B"/></linearGradient><linearGradient id="gC" x1="1653" y1="1989" x2="1950" y2="1841" gradientUnits="userSpaceOnUse"><stop offset="0" stop-color="#C0392B"/><stop offset="0.45" stop-color="#E3B505"/><stop offset="1" stop-color="#3C9A4B"/></linearGradient><linearGradient id="gBar" x1="0" y1="1" x2="0" y2="0"><stop offset="0.000" stop-color="#ffffcc"/><stop offset="0.125" stop-color="#ffeda0"/><stop offset="0.250" stop-color="#fed976"/><stop offset="0.375" stop-color="#feb24c"/><stop offset="0.500" stop-color="#fd8d3c"/><stop offset="0.625" stop-color="#fc4e2a"/><stop offset="0.750" stop-color="#e31a1c"/><stop offset="0.875" stop-color="#bd0026"/><stop offset="1.000" stop-color="#800026"/></linearGradient></defs>
<line x1="1503.0" y1="1564.0" x2="1530.0" y2="1800.0" stroke="url(#gE)" stroke-width="2.5" />
<path d="M1531.0,1810.0 L1525.2,1798.6 L1534.1,1797.6 Z" fill="#3C9A4B"/>
<line x1="1531.0" y1="1810.0" x2="1647.0" y2="1980.0" stroke="url(#gD)" stroke-width="2.5" />
<path d="M1653.0,1989.0 L1642.5,1981.6 L1650.0,1976.5 Z" fill="#3C9A4B"/>
<line x1="1653.0" y1="1989.0" x2="1940.0" y2="1846.0" stroke="url(#gC)" stroke-width="2.5" />
<path d="M1950.0,1841.0 L1939.8,1851.9 L1935.1,1842.5 Z" fill="#3C9A4B"/>
<text x="1507.0" y="1618.0" font-size="21" text-anchor="end">190</text>
<text x="1512.0" y="1676.0" font-size="21" text-anchor="end">180</text>
<text x="1517.0" y="1729.0" font-size="21" text-anchor="end">170</text>
<text x="1523.0" y="1783.0" font-size="21" text-anchor="end">160</text>
<text x="1527.0" y="1822.0" font-size="21" text-anchor="end">150</text>
<text x="1472.0" y="1695.0" font-size="21" text-anchor="middle" transform="rotate(-96 1472 1695)"><tspan >Energy (</tspan><tspan font-style="italic" class="R">μJ</tspan><tspan >) (↓)</tspan></text>
<text x="1548.0" y="1868.0" font-size="21" text-anchor="middle" transform="rotate(58 1548 1868)">0.8</text>
<text x="1610.0" y="1945.0" font-size="21" text-anchor="middle" transform="rotate(58 1610 1945)">0.7</text>
<text x="1553.0" y="1930.0" font-size="21" text-anchor="middle" transform="rotate(57 1553 1930)">Decomposition Error (↓)</text>
<text x="1765.0" y="1965.0" font-size="21" text-anchor="middle" transform="rotate(-27 1765 1965)">0.45</text>
<text x="1840.0" y="1925.0" font-size="21" text-anchor="middle" transform="rotate(-27 1840 1925)">0.4</text>
<text x="1907.0" y="1888.0" font-size="21" text-anchor="middle" transform="rotate(-27 1907 1888)">0.35</text>
<text x="1830.0" y="1968.0" font-size="21" text-anchor="middle" transform="rotate(-27 1830 1968)">Compression Ratio (↓)</text>
<rect x="1974.0" y="1561.0" width="14.0" height="452.0" fill="url(#gBar)"/>
<text x="1995.0" y="1609.0" font-size="21">30</text>
<text x="1995.0" y="1725.0" font-size="21">25</text>
<text x="1995.0" y="1850.0" font-size="21">20</text>
<text x="1995.0" y="1970.0" font-size="21">15</text>
<text x="1815.0" y="1550.0" font-size="21.5">Latency (k cycles) (↓)</text>
<circle cx="1814.5" cy="1776.9" r="3.1" fill="#fff0a8"/>
<circle cx="1766.4" cy="1715.2" r="3.1" fill="#fee187"/>
<circle cx="1801.4" cy="1751.0" r="3.1" fill="#fee997"/>
<circle cx="1795.9" cy="1731.8" r="3.1" fill="#fff0a8"/>
<circle cx="1753.7" cy="1784.6" r="3.1" fill="#fee997"/>
<circle cx="1805.2" cy="1710.3" r="3.1" fill="#fec965"/>
<circle cx="1850.1" cy="1717.7" r="3.1" fill="#fff4b3"/>
<circle cx="1746.5" cy="1788.5" r="3.1" fill="#fff8bc"/>
<circle cx="1739.1" cy="1776.8" r="3.1" fill="#fff7ba"/>
<circle cx="1756.0" cy="1637.0" r="3.1" fill="#fff0a8"/>
<circle cx="1760.6" cy="1705.2" r="3.1" fill="#fee289"/>
<circle cx="1798.0" cy="1748.9" r="3.1" fill="#fee188"/>
<circle cx="1741.3" cy="1760.1" r="3.1" fill="#fedf82"/>
<circle cx="1788.2" cy="1748.4" r="3.1" fill="#ffeda1"/>
<circle cx="1795.4" cy="1732.2" r="3.1" fill="#fff7ba"/>
<circle cx="1792.0" cy="1733.5" r="3.1" fill="#fff6b6"/>
<circle cx="1778.7" cy="1752.4" r="3.1" fill="#fed06d"/>
<circle cx="1784.8" cy="1749.7" r="3.1" fill="#feec9f"/>
<circle cx="1782.3" cy="1740.1" r="3.1" fill="#ffeea3"/>
<circle cx="1639.9" cy="1857.4" r="3.1" fill="#feeb9d"/>
<circle cx="1840.0" cy="1746.1" r="3.1" fill="#fff2ac"/>
<circle cx="1756.5" cy="1780.8" r="3.1" fill="#fff4b1"/>
<circle cx="1769.8" cy="1713.9" r="3.1" fill="#fee48d"/>
<circle cx="1754.9" cy="1734.7" r="3.1" fill="#ffeda1"/>
<circle cx="1802.2" cy="1731.2" r="3.1" fill="#fff3b0"/>
<circle cx="1863.3" cy="1714.1" r="3.1" fill="#fff4b3"/>
<circle cx="1766.6" cy="1790.6" r="3.1" fill="#fff7ba"/>
<circle cx="1743.5" cy="1763.1" r="3.1" fill="#feda78"/>
<circle cx="1830.3" cy="1723.1" r="3.1" fill="#fff4b3"/>
<circle cx="1747.0" cy="1771.9" r="3.1" fill="#ffeda2"/>
<circle cx="1766.0" cy="1719.5" r="3.1" fill="#fec05b"/>
<circle cx="1853.4" cy="1716.8" r="3.1" fill="#fff4b3"/>
<circle cx="1762.6" cy="1720.8" r="3.1" fill="#fec762"/>
<circle cx="1843.5" cy="1719.5" r="3.1" fill="#fff4b3"/>
<circle cx="1779.1" cy="1781.3" r="3.1" fill="#fff0a8"/>
<circle cx="1760.8" cy="1741.5" r="3.1" fill="#ffeda1"/>
<circle cx="1788.6" cy="1734.8" r="3.1" fill="#fff6b8"/>
<circle cx="1837.2" cy="1711.7" r="3.1" fill="#fff6b6"/>
<circle cx="1808.6" cy="1709.0" r="3.1" fill="#fed16d"/>
<circle cx="1803.0" cy="1723.5" r="3.1" fill="#fff2ae"/>
<circle cx="1843.4" cy="1744.8" r="3.1" fill="#fff2ae"/>
<circle cx="1774.3" cy="1746.4" r="3.1" fill="#fece6a"/>
<circle cx="1784.9" cy="1710.1" r="3.1" fill="#fee58f"/>
<circle cx="1776.5" cy="1749.4" r="3.1" fill="#fed16e"/>
<circle cx="1751.5" cy="1736.0" r="3.1" fill="#fff2ac"/>
<circle cx="1831.5" cy="1746.8" r="3.1" fill="#feec9e"/>
<circle cx="1779.1" cy="1723.2" r="3.1" fill="#fee997"/>
<circle cx="1666.5" cy="1927.5" r="3.1" fill="#feea99"/>
<circle cx="1742.0" cy="1797.8" r="3.1" fill="#fff7ba"/>
<circle cx="1631.3" cy="1862.7" r="3.1" fill="#fee692"/>
<circle cx="1746.0" cy="1625.0" r="3.1" fill="#fff0a8"/>
<circle cx="1860.0" cy="1715.0" r="3.1" fill="#fff4b3"/>
<circle cx="1823.0" cy="1733.3" r="3.1" fill="#fff7ba"/>
<circle cx="1773.2" cy="1712.6" r="3.1" fill="#fee289"/>
<circle cx="1825.1" cy="1702.8" r="3.1" fill="#fff0a9"/>
<circle cx="1803.2" cy="1756.5" r="3.1" fill="#fedd7f"/>
<circle cx="1795.1" cy="1768.7" r="3.1" fill="#fedb7b"/>
<circle cx="1764.7" cy="1778.4" r="3.1" fill="#fee997"/>
<circle cx="1819.1" cy="1779.9" r="3.1" fill="#fff7ba"/>
<circle cx="1837.8" cy="1701.9" r="3.1" fill="#fff7b8"/>
<circle cx="1797.1" cy="1751.3" r="3.1" fill="#fff0a8"/>
<circle cx="1753.1" cy="1796.3" r="3.1" fill="#fff0a8"/>
<circle cx="1833.6" cy="1722.2" r="3.1" fill="#fff4b3"/>
<circle cx="1760.7" cy="1771.8" r="3.1" fill="#fee38c"/>
<circle cx="1788.8" cy="1763.9" r="3.1" fill="#fee590"/>
<circle cx="1782.7" cy="1768.9" r="3.1" fill="#fee997"/>
<circle cx="1832.0" cy="1607.0" r="3.1" fill="#fff0a8"/>
<circle cx="1740.4" cy="1774.0" r="3.1" fill="#fec45f"/>
<circle cx="1849.9" cy="1722.8" r="3.1" fill="#fedb7a"/>
<circle cx="1797.3" cy="1771.7" r="3.1" fill="#fee086"/>
<circle cx="1815.7" cy="1781.2" r="3.1" fill="#fff7b8"/>
<circle cx="1791.0" cy="1766.9" r="3.1" fill="#fee895"/>
<circle cx="1831.0" cy="1704.5" r="3.1" fill="#fff9bf"/>
<circle cx="1795.4" cy="1798.0" r="3.1" fill="#fee997"/>
<circle cx="1821.5" cy="1717.1" r="3.1" fill="#feec9d"/>
<circle cx="1757.4" cy="1742.8" r="3.1" fill="#fff3ae"/>
<circle cx="1801.8" cy="1711.6" r="3.1" fill="#fec45f"/>
<circle cx="1771.9" cy="1766.9" r="3.1" fill="#fff0a8"/>
<circle cx="1785.7" cy="1738.8" r="3.1" fill="#ffeda2"/>
<circle cx="1774.8" cy="1722.5" r="3.1" fill="#fff7b9"/>
<circle cx="1816.2" cy="1727.5" r="3.1" fill="#fff4b2"/>
<circle cx="1801.4" cy="1747.6" r="3.1" fill="#fee188"/>
<circle cx="1736.5" cy="1720.5" r="3.1" fill="#feca66"/>
<circle cx="1740.0" cy="1622.0" r="3.1" fill="#fff0a8"/>
<circle cx="1802.9" cy="1757.7" r="3.1" fill="#fff0a8"/>
<circle cx="1790.6" cy="1739.0" r="3.1" fill="#fff6b6"/>
<circle cx="1840.2" cy="1720.4" r="3.1" fill="#fff4b3"/>
<circle cx="1663.1" cy="1928.8" r="3.1" fill="#fee691"/>
<circle cx="1776.5" cy="1749.9" r="3.1" fill="#fee692"/>
<circle cx="1759.2" cy="1722.1" r="3.1" fill="#fece6a"/>
<circle cx="1754.0" cy="1636.0" r="3.1" fill="#fff0a8"/>
<circle cx="1738.7" cy="1723.5" r="3.1" fill="#fecb67"/>
<circle cx="1634.0" cy="1682.0" r="3.1" fill="#fff0a8"/>
<circle cx="1791.0" cy="1740.7" r="3.1" fill="#fee691"/>
<circle cx="1773.2" cy="1777.7" r="3.1" fill="#ffefa6"/>
<circle cx="1790.6" cy="1773.6" r="3.1" fill="#fff7ba"/>
<circle cx="1766.4" cy="1776.4" r="3.1" fill="#fff7ba"/>
<circle cx="1750.6" cy="1736.0" r="3.1" fill="#fff0a8"/>
<circle cx="1785.6" cy="1731.4" r="3.1" fill="#fee997"/>
<circle cx="1771.3" cy="1734.7" r="3.1" fill="#fed976"/>
<circle cx="1827.0" cy="1724.0" r="3.1" fill="#fff4b3"/>
<circle cx="1811.4" cy="1795.1" r="3.1" fill="#fff0a8"/>
<circle cx="1794.6" cy="1750.2" r="3.1" fill="#fedf84"/>
<circle cx="1756.3" cy="1765.8" r="3.1" fill="#fee084"/>
<circle cx="1811.1" cy="1773.7" r="3.1" fill="#fee997"/>
<circle cx="1791.6" cy="1747.1" r="3.1" fill="#fff4b1"/>
<circle cx="1805.2" cy="1762.4" r="3.1" fill="#fff6b6"/>
<circle cx="1794.5" cy="1715.8" r="3.1" fill="#fff0a8"/>
<circle cx="1743.1" cy="1789.8" r="3.1" fill="#fff9bd"/>
<circle cx="1754.1" cy="1751.4" r="3.1" fill="#fff7ba"/>
<circle cx="1805.6" cy="1729.9" r="3.1" fill="#feec9e"/>
<circle cx="1634.7" cy="1861.4" r="3.1" fill="#feec9e"/>
<circle cx="1750.0" cy="1708.5" r="3.1" fill="#fed976"/>
<circle cx="1772.5" cy="1796.7" r="3.1" fill="#fee997"/>
<circle cx="1827.3" cy="1705.8" r="3.1" fill="#fff0a8"/>
<circle cx="1834.4" cy="1703.2" r="3.1" fill="#fffac2"/>
<circle cx="1766.3" cy="1711.9" r="3.1" fill="#fee188"/>
<circle cx="1764.6" cy="1725.2" r="3.1" fill="#fed06c"/>
<circle cx="1833.8" cy="1713.0" r="3.1" fill="#fff7b9"/>
<circle cx="1763.1" cy="1753.5" r="3.1" fill="#fee997"/>
<circle cx="1792.9" cy="1765.7" r="3.1" fill="#fedb7b"/>
<circle cx="1819.8" cy="1779.4" r="3.1" fill="#fff7ba"/>
<circle cx="1742.8" cy="1787.7" r="3.1" fill="#fee084"/>
<circle cx="1757.3" cy="1769.3" r="3.1" fill="#fff0a8"/>
<circle cx="1763.9" cy="1703.3" r="3.1" fill="#fffac0"/>
<circle cx="1779.2" cy="1735.2" r="3.1" fill="#fff7ba"/>
<circle cx="1841.4" cy="1707.0" r="3.1" fill="#fffbc2"/>
<circle cx="1739.1" cy="1757.1" r="3.1" fill="#fedb7b"/>
<circle cx="1757.8" cy="1727.8" r="3.1" fill="#fed26e"/>
<circle cx="1838.0" cy="1708.3" r="3.1" fill="#fffdc7"/>
<circle cx="1827.9" cy="1769.0" r="3.1" fill="#fee590"/>
<circle cx="1770.8" cy="1767.9" r="3.1" fill="#fee997"/>
<circle cx="1789.3" cy="1716.1" r="3.1" fill="#fee48d"/>
<circle cx="1772.2" cy="1736.9" r="3.1" fill="#fff0a8"/>
<circle cx="1793.2" cy="1769.9" r="3.1" fill="#fee896"/>
<circle cx="1787.1" cy="1713.1" r="3.1" fill="#fee692"/>
<circle cx="1821.3" cy="1796.3" r="3.1" fill="#fff0a8"/>
<circle cx="1776.6" cy="1776.4" r="3.1" fill="#fff4b1"/>
<circle cx="1846.8" cy="1718.6" r="3.1" fill="#fff4b3"/>
<circle cx="1763.4" cy="1739.0" r="3.1" fill="#fff0a8"/>
<circle cx="1740.7" cy="1740.4" r="3.1" fill="#fee997"/>
<circle cx="1745.0" cy="1790.7" r="3.1" fill="#fedf84"/>
<circle cx="1750.9" cy="1751.5" r="3.1" fill="#fee997"/>
<circle cx="1807.6" cy="1772.9" r="3.1" fill="#fff6b7"/>
<circle cx="1856.7" cy="1715.9" r="3.1" fill="#fff4b3"/>
<circle cx="1836.9" cy="1721.3" r="3.1" fill="#fff4b3"/>
<circle cx="1761.2" cy="1726.5" r="3.1" fill="#fed16e"/>
<circle cx="1758.5" cy="1768.8" r="3.1" fill="#fee691"/>
<circle cx="1806.6" cy="1755.2" r="3.1" fill="#fee186"/>
<circle cx="1626.2" cy="1728.2" r="3.1" fill="#fb4c29"/>
<circle cx="1621.8" cy="1711.1" r="3.1" fill="#fc6831"/>
<circle cx="1631.5" cy="1788.5" r="3.1" fill="#fd9640"/>
<circle cx="1631.3" cy="1886.0" r="3.1" fill="#f33b24"/>
<circle cx="1790.7" cy="1767.8" r="3.1" fill="#fc7d37"/>
<circle cx="1648.6" cy="1716.5" r="3.1" fill="#fd9f44"/>
<circle cx="1696.3" cy="1669.3" r="3.1" fill="#fda345"/>
<circle cx="1761.6" cy="1675.0" r="3.1" fill="#fda144"/>
<circle cx="1759.2" cy="1782.6" r="3.1" fill="#fd903d"/>
<circle cx="1618.4" cy="1712.4" r="3.1" fill="#fc512b"/>
<circle cx="1735.0" cy="1736.2" r="3.1" fill="#ed2f21"/>
<circle cx="1621.4" cy="1739.5" r="3.1" fill="#fc6731"/>
<circle cx="1793.9" cy="1652.0" r="3.1" fill="#e1181c"/>
<circle cx="1637.7" cy="1787.9" r="3.1" fill="#fc6330"/>
<circle cx="1767.3" cy="1664.1" r="3.1" fill="#fa4b29"/>
<circle cx="1657.7" cy="1696.1" r="3.1" fill="#fc7b36"/>
<circle cx="1703.7" cy="1917.5" r="3.1" fill="#f94728"/>
<circle cx="1630.9" cy="1801.4" r="3.1" fill="#8d0026"/>
<circle cx="1718.5" cy="1761.4" r="3.1" fill="#fc5b2d"/>
<circle cx="1794.1" cy="1766.5" r="3.1" fill="#fc6f33"/>
<circle cx="1588.5" cy="1742.4" r="3.1" fill="#fc4e2a"/>
<circle cx="1628.1" cy="1789.8" r="3.1" fill="#fd943f"/>
<circle cx="1598.5" cy="1722.7" r="3.1" fill="#ef3423"/>
<circle cx="1770.1" cy="1764.1" r="3.1" fill="#fd943f"/>
<circle cx="1644.0" cy="1846.5" r="3.1" fill="#e8261f"/>
<circle cx="1660.2" cy="1921.1" r="3.1" fill="#fb4c29"/>
<circle cx="1637.2" cy="1781.3" r="3.1" fill="#9c0026"/>
<circle cx="1638.5" cy="1775.4" r="3.1" fill="#fc8138"/>
<circle cx="1694.2" cy="1746.1" r="3.1" fill="#fc552c"/>
<circle cx="1825.3" cy="1677.8" r="3.1" fill="#f43e25"/>
<circle cx="1809.9" cy="1681.6" r="3.1" fill="#fc512b"/>
<circle cx="1810.8" cy="1714.1" r="3.1" fill="#fc7635"/>
<circle cx="1833.7" cy="1651.0" r="3.1" fill="#f43e25"/>
<circle cx="1633.6" cy="1892.3" r="3.1" fill="#f43e25"/>
<circle cx="1652.3" cy="1784.4" r="3.1" fill="#8e0026"/>
<circle cx="1610.7" cy="1770.4" r="3.1" fill="#fc7d37"/>
<circle cx="1597.5" cy="1855.5" r="3.1" fill="#fc592d"/>
<circle cx="1698.8" cy="1759.5" r="3.1" fill="#fc542b"/>
<circle cx="1732.7" cy="1738.4" r="3.1" fill="#fb4d29"/>
<circle cx="1641.1" cy="1812.8" r="3.1" fill="#f74527"/>
<circle cx="1583.9" cy="1785.0" r="3.1" fill="#a20026"/>
<circle cx="1587.9" cy="1814.1" r="3.1" fill="#ec2e21"/>
<circle cx="1640.6" cy="1795.9" r="3.1" fill="#fb4d29"/>
<circle cx="1680.2" cy="1726.8" r="3.1" fill="#e31a1c"/>
<circle cx="1740.8" cy="1673.6" r="3.1" fill="#ee3122"/>
<circle cx="1822.5" cy="1688.0" r="3.1" fill="#fc8239"/>
<circle cx="1815.1" cy="1723.5" r="3.1" fill="#fc5c2e"/>
<circle cx="1672.4" cy="1714.9" r="3.1" fill="#f54026"/>
<circle cx="1747.6" cy="1682.6" r="3.1" fill="#fd933e"/>
<circle cx="1682.6" cy="1890.3" r="3.1" fill="#fc542b"/>
<circle cx="1710.5" cy="1914.9" r="3.1" fill="#fc522b"/>
<circle cx="1595.4" cy="1775.9" r="3.1" fill="#fc562c"/>
<circle cx="1792.2" cy="1670.2" r="3.1" fill="#a40026"/>
<circle cx="1647.4" cy="1845.2" r="3.1" fill="#eb2b20"/>
<circle cx="1683.8" cy="1875.4" r="3.1" fill="#fdb04b"/>
<circle cx="1673.6" cy="1698.2" r="3.1" fill="#fc6530"/>
<circle cx="1725.9" cy="1775.9" r="3.1" fill="#fc6c32"/>
<circle cx="1664.6" cy="1820.0" r="3.1" fill="#fc7e37"/>
<circle cx="1692.3" cy="1679.8" r="3.1" fill="#fd8f3d"/>
<circle cx="1647.9" cy="1778.4" r="3.1" fill="#9c0026"/>
<circle cx="1643.1" cy="1849.0" r="3.1" fill="#fd9740"/>
<circle cx="1665.2" cy="1812.0" r="3.1" fill="#fc6931"/>
<circle cx="1623.0" cy="1787.7" r="3.1" fill="#ed2f21"/>
<circle cx="1663.6" cy="1919.8" r="3.1" fill="#fc592d"/>
<circle cx="1623.4" cy="1724.7" r="3.1" fill="#a40026"/>
<circle cx="1838.6" cy="1689.0" r="3.1" fill="#fc522b"/>
<circle cx="1793.6" cy="1682.6" r="3.1" fill="#fc7435"/>
<circle cx="1648.5" cy="1716.8" r="3.1" fill="#fc8a3b"/>
<circle cx="1699.5" cy="1901.7" r="3.1" fill="#f33b25"/>
<circle cx="1581.9" cy="1774.5" r="3.1" fill="#fda144"/>
<circle cx="1578.5" cy="1761.3" r="3.1" fill="#fc602f"/>
<circle cx="1581.4" cy="1744.2" r="3.1" fill="#fc7a36"/>
<circle cx="1724.9" cy="1721.4" r="3.1" fill="#f13723"/>
<circle cx="1686.7" cy="1810.6" r="3.1" fill="#fc6e33"/>
<circle cx="1687.1" cy="1721.0" r="3.1" fill="#fd933e"/>
<circle cx="1693.5" cy="1673.5" r="3.1" fill="#e8251f"/>
<circle cx="1687.2" cy="1874.1" r="3.1" fill="#fda847"/>
<circle cx="1707.9" cy="1662.5" r="3.1" fill="#fb4c29"/>
<circle cx="1622.2" cy="1732.3" r="3.1" fill="#fc5a2d"/>
<circle cx="1707.1" cy="1786.7" r="3.1" fill="#f74427"/>
<circle cx="1710.7" cy="1659.1" r="3.1" fill="#f33c25"/>
<circle cx="1653.6" cy="1720.1" r="3.1" fill="#fc562c"/>
<circle cx="1718.5" cy="1735.6" r="3.1" fill="#f94828"/>
<circle cx="1726.5" cy="1786.7" r="3.1" fill="#fc5e2e"/>
<circle cx="1657.3" cy="1889.0" r="3.1" fill="#fc552c"/>
<circle cx="1708.0" cy="1666.3" r="3.1" fill="#fd953f"/>
<circle cx="1666.0" cy="1759.6" r="3.1" fill="#fd933e"/>
<circle cx="1647.1" cy="1780.1" r="3.1" fill="#8a0026"/>
<circle cx="1611.6" cy="1781.3" r="3.1" fill="#f84627"/>
<circle cx="1663.8" cy="1830.5" r="3.1" fill="#fc7d37"/>
<circle cx="1642.6" cy="1763.0" r="3.1" fill="#fd9640"/>
<circle cx="1701.5" cy="1679.0" r="3.1" fill="#fd9640"/>
<circle cx="1688.8" cy="1768.2" r="3.1" fill="#fc512b"/>
<circle cx="1591.9" cy="1741.1" r="3.1" fill="#fc522b"/>
<circle cx="1744.2" cy="1683.9" r="3.1" fill="#fd9d43"/>
<circle cx="1698.3" cy="1878.0" r="3.1" fill="#fda144"/>
<circle cx="1790.2" cy="1683.9" r="3.1" fill="#fc7f38"/>
<circle cx="1741.1" cy="1694.1" r="3.1" fill="#ea2a20"/>
<circle cx="1595.3" cy="1739.8" r="3.1" fill="#fc552c"/>
<circle cx="1722.7" cy="1718.4" r="3.1" fill="#ef3423"/>
<circle cx="1654.3" cy="1707.9" r="3.1" fill="#a00026"/>
<circle cx="1813.3" cy="1680.3" r="3.1" fill="#fc6630"/>
<circle cx="1835.2" cy="1681.0" r="3.1" fill="#fc8138"/>
<circle cx="1625.2" cy="1709.8" r="3.1" fill="#fc5a2d"/>
<circle cx="1719.7" cy="1789.3" r="3.1" fill="#fc522b"/>
<circle cx="1686.4" cy="1698.1" r="3.1" fill="#fc8038"/>
<circle cx="1710.2" cy="1758.4" r="3.1" fill="#e51f1d"/>
<circle cx="1585.8" cy="1742.5" r="3.1" fill="#fd943f"/>
<circle cx="1676.9" cy="1666.0" r="3.1" fill="#fc873a"/>
<circle cx="1663.5" cy="1716.2" r="3.1" fill="#fc532b"/>
<circle cx="1806.5" cy="1682.9" r="3.1" fill="#fc562c"/>
<circle cx="1599.0" cy="1680.6" r="3.1" fill="#f33b25"/>
<circle cx="1743.0" cy="1676.6" r="3.1" fill="#ee3122"/>
<circle cx="1734.4" cy="1691.3" r="3.1" fill="#fc502a"/>
<circle cx="1762.6" cy="1781.3" r="3.1" fill="#fd913d"/>
<circle cx="1712.9" cy="1862.1" r="3.1" fill="#fda245"/>
<circle cx="1598.8" cy="1774.6" r="3.1" fill="#fc6831"/>
<circle cx="1652.3" cy="1681.3" r="3.1" fill="#fc8339"/>
<circle cx="1643.6" cy="1793.7" r="3.1" fill="#fd963f"/>
<circle cx="1690.8" cy="1747.4" r="3.1" fill="#fc512b"/>
<circle cx="1609.2" cy="1729.0" r="3.1" fill="#fc7134"/>
<circle cx="1576.6" cy="1779.0" r="3.1" fill="#fc6631"/>
<circle cx="1664.7" cy="1778.3" r="3.1" fill="#fc5a2d"/>
<circle cx="1663.4" cy="1861.8" r="3.1" fill="#f94828"/>
<circle cx="1643.5" cy="1729.7" r="3.1" fill="#f94928"/>
<circle cx="1704.3" cy="1670.9" r="3.1" fill="#fd8e3c"/>
<circle cx="1812.5" cy="1690.5" r="3.1" fill="#fc8339"/>
<circle cx="1815.1" cy="1658.4" r="3.1" fill="#e41d1c"/>
<circle cx="1688.0" cy="1911.1" r="3.1" fill="#fb4c29"/>
<circle cx="1842.2" cy="1656.2" r="3.1" fill="#fc6b32"/>
<circle cx="1615.0" cy="1780.0" r="3.1" fill="#fc542b"/>
<circle cx="1792.9" cy="1708.2" r="3.1" fill="#940026"/>
<circle cx="1710.5" cy="1785.4" r="3.1" fill="#f43d25"/>
<circle cx="1770.7" cy="1662.8" r="3.1" fill="#fc5a2d"/>
<circle cx="1650.5" cy="1891.6" r="3.1" fill="#fc502a"/>
<circle cx="1727.1" cy="1724.4" r="3.1" fill="#e9271f"/>
<circle cx="1717.2" cy="1691.9" r="3.1" fill="#e8241e"/>
<circle cx="1716.1" cy="1713.6" r="3.1" fill="#f84627"/>
<circle cx="1600.7" cy="1725.7" r="3.1" fill="#f84627"/>
<circle cx="1650.8" cy="1843.9" r="3.1" fill="#e8261f"/>
<circle cx="1690.9" cy="1843.8" r="3.1" fill="#fc582d"/>
<circle cx="1633.2" cy="1763.4" r="3.1" fill="#fc5d2e"/>
<circle cx="1704.5" cy="1663.8" r="3.1" fill="#fc582c"/>
<circle cx="1604.6" cy="1691.3" r="3.1" fill="#fd903d"/>
<circle cx="1618.8" cy="1733.6" r="3.1" fill="#f84627"/>
<circle cx="1824.8" cy="1769.6" r="3.1" fill="#fc7836"/>
<circle cx="1721.7" cy="1836.5" r="3.1" fill="#fc4e2a"/>
<circle cx="1696.9" cy="1672.2" r="3.1" fill="#da141e"/>
<circle cx="1685.2" cy="1773.0" r="3.1" fill="#fd8d3c"/>
<circle cx="1662.9" cy="1683.9" r="3.1" fill="#990026"/>
<circle cx="1620.0" cy="1726.0" r="3.1" fill="#900026"/>
<circle cx="1640.4" cy="1760.0" r="3.1" fill="#fda044"/>
<circle cx="1694.1" cy="1700.0" r="3.1" fill="#fc5b2d"/>
<circle cx="1716.5" cy="1872.6" r="3.1" fill="#fd9c42"/>
<circle cx="1696.8" cy="1696.1" r="3.1" fill="#fc542b"/>
<circle cx="1790.3" cy="1704.1" r="3.1" fill="#a40026"/>
<circle cx="1846.4" cy="1691.8" r="3.1" fill="#fc7234"/>
<circle cx="1714.8" cy="1724.4" r="3.1" fill="#9f0026"/>
<circle cx="1659.4" cy="1824.5" r="3.1" fill="#fc7b36"/>
<circle cx="1758.3" cy="1704.4" r="3.1" fill="#fc602f"/>
<circle cx="1666.3" cy="1682.6" r="3.1" fill="#9c0026"/>
<circle cx="1731.1" cy="1775.1" r="3.1" fill="#ed2f21"/>
<circle cx="1663.4" cy="1693.1" r="3.1" fill="#fc7836"/>
<circle cx="1765.4" cy="1659.2" r="3.1" fill="#e0181c"/>
<circle cx="1818.0" cy="1772.2" r="3.1" fill="#fc7134"/>
<circle cx="1651.7" cy="1893.0" r="3.1" fill="#fda847"/>
<circle cx="1578.8" cy="1782.0" r="3.1" fill="#fc6c32"/>
<circle cx="1843.0" cy="1693.1" r="3.1" fill="#fc6530"/>
<circle cx="1630.2" cy="1839.8" r="3.1" fill="#df171c"/>
<circle cx="1592.0" cy="1777.2" r="3.1" fill="#fc552c"/>
<circle cx="1647.8" cy="1772.7" r="3.1" fill="#e1191c"/>
<circle cx="1692.0" cy="1762.1" r="3.1" fill="#fc6530"/>
<circle cx="1619.8" cy="1763.3" r="3.1" fill="#fc6d33"/>
<circle cx="1667.9" cy="1889.0" r="3.1" fill="#fd9740"/>
<circle cx="1689.6" cy="1722.6" r="3.1" fill="#e8251f"/>
<circle cx="1835.2" cy="1658.2" r="3.1" fill="#f54026"/>
<circle cx="1721.3" cy="1685.2" r="3.1" fill="#f13723"/>
<circle cx="1702.6" cy="1806.8" r="3.1" fill="#f74327"/>
<circle cx="1665.8" cy="1890.4" r="3.1" fill="#fc7b36"/>
<circle cx="1661.3" cy="1779.6" r="3.1" fill="#fc602f"/>
<circle cx="1694.1" cy="1666.3" r="3.1" fill="#fd9c42"/>
<circle cx="1581.4" cy="1750.9" r="3.1" fill="#f94828"/>
<circle cx="1838.5" cy="1670.5" r="3.1" fill="#fa4b29"/>
<circle cx="1727.7" cy="1730.8" r="3.1" fill="#fc522b"/>
<circle cx="1632.4" cy="1842.8" r="3.1" fill="#e41d1c"/>
<circle cx="1671.8" cy="1742.6" r="3.1" fill="#940026"/>
<circle cx="1598.0" cy="1844.4" r="3.1" fill="#fd9d42"/>
<circle cx="1591.3" cy="1812.8" r="3.1" fill="#ea2a20"/>
<circle cx="1807.5" cy="1685.2" r="3.1" fill="#fc893b"/>
<circle cx="1727.9" cy="1727.8" r="3.1" fill="#fc7f38"/>
<circle cx="1633.6" cy="1885.5" r="3.1" fill="#fc7a36"/>
<circle cx="1822.0" cy="1678.1" r="3.1" fill="#e7221e"/>
<circle cx="1661.6" cy="1827.5" r="3.1" fill="#fc6f33"/>
<circle cx="1673.3" cy="1781.8" r="3.1" fill="#fc512a"/>
<circle cx="1698.7" cy="1904.5" r="3.1" fill="#fa4a29"/>
<circle cx="1600.3" cy="1828.1" r="3.1" fill="#940026"/>
<circle cx="1707.1" cy="1916.2" r="3.1" fill="#fc592d"/>
<circle cx="1689.0" cy="1685.2" r="3.1" fill="#fc552c"/>
<circle cx="1729.6" cy="1833.0" r="3.1" fill="#fc512a"/>
<circle cx="1625.6" cy="1731.0" r="3.1" fill="#fb4c29"/>
<circle cx="1703.7" cy="1788.0" r="3.1" fill="#f23b24"/>
<circle cx="1736.6" cy="1712.9" r="3.1" fill="#a30026"/>
<circle cx="1657.8" cy="1860.3" r="3.1" fill="#fc6630"/>
<circle cx="1683.3" cy="1811.9" r="3.1" fill="#fc7435"/>
<circle cx="1601.9" cy="1861.5" r="3.1" fill="#f74527"/>
<circle cx="1673.6" cy="1766.0" r="3.1" fill="#fc582c"/>
<circle cx="1718.0" cy="1753.8" r="3.1" fill="#fd933e"/>
<circle cx="1695.0" cy="1885.3" r="3.1" fill="#a20026"/>
<circle cx="1698.1" cy="1680.3" r="3.1" fill="#fd9f43"/>
<circle cx="1661.2" cy="1859.0" r="3.1" fill="#fc5b2d"/>
<circle cx="1696.1" cy="1903.0" r="3.1" fill="#f84728"/>
<circle cx="1687.4" cy="1748.7" r="3.1" fill="#f84728"/>
<circle cx="1693.2" cy="1734.7" r="3.1" fill="#980026"/>
<circle cx="1640.8" cy="1753.4" r="3.1" fill="#fc8439"/>
<circle cx="1670.6" cy="1713.9" r="3.1" fill="#fc8238"/>
<circle cx="1598.2" cy="1765.5" r="3.1" fill="#fc4f2a"/>
<circle cx="1637.2" cy="1797.2" r="3.1" fill="#fc4f2a"/>
<circle cx="1631.4" cy="1889.3" r="3.1" fill="#f94728"/>
<circle cx="1763.6" cy="1670.6" r="3.1" fill="#fc8138"/>
<circle cx="1734.1" cy="1771.3" r="3.1" fill="#eb2c20"/>
<circle cx="1660.3" cy="1862.8" r="3.1" fill="#910026"/>
<circle cx="1580.7" cy="1764.3" r="3.1" fill="#fc5b2d"/>
<circle cx="1691.5" cy="1670.6" r="3.1" fill="#910026"/>
<circle cx="1604.7" cy="1834.1" r="3.1" fill="#960026"/>
<circle cx="1849.4" cy="1683.8" r="3.1" fill="#fc7936"/>
<circle cx="1790.5" cy="1653.3" r="3.1" fill="#db141e"/>
<circle cx="1686.5" cy="1877.8" r="3.1" fill="#fd9c42"/>
<circle cx="1724.5" cy="1729.1" r="3.1" fill="#fc7f38"/>
<circle cx="1669.9" cy="1783.1" r="3.1" fill="#fb4c29"/>
<circle cx="1624.5" cy="1710.4" r="3.1" fill="#fc8138"/>
<circle cx="1685.4" cy="1688.3" r="3.1" fill="#e7221e"/>
<circle cx="1732.2" cy="1688.3" r="3.1" fill="#fc6330"/>
<circle cx="1609.2" cy="1776.4" r="3.1" fill="#fc8138"/>
<circle cx="1586.6" cy="1772.4" r="3.1" fill="#fc7f38"/>
<circle cx="1647.0" cy="1792.4" r="3.1" fill="#fd9d43"/>
<circle cx="1677.0" cy="1778.9" r="3.1" fill="#fd953f"/>
<circle cx="1737.3" cy="1714.6" r="3.1" fill="#f33c25"/>
<circle cx="1634.9" cy="1787.2" r="3.1" fill="#fd9f43"/>
<circle cx="1734.7" cy="1684.5" r="3.1" fill="#fb4d29"/>
<circle cx="1700.4" cy="1803.8" r="3.1" fill="#f84728"/>
<circle cx="1623.1" cy="1766.0" r="3.1" fill="#fc5e2e"/>
<circle cx="1666.8" cy="1691.8" r="3.1" fill="#fc6a32"/>
<circle cx="1568.2" cy="1821.5" r="3.1" fill="#fc5d2e"/>
<circle cx="1671.2" cy="1768.9" r="3.1" fill="#fc542b"/>
<circle cx="1617.6" cy="1794.8" r="3.1" fill="#9d0026"/>
<circle cx="1672.7" cy="1762.9" r="3.1" fill="#fd933e"/>
<circle cx="1688.7" cy="1880.8" r="3.1" fill="#fd9941"/>
<circle cx="1644.8" cy="1766.0" r="3.1" fill="#fd9640"/>
<circle cx="1736.1" cy="1737.1" r="3.1" fill="#fc4f2a"/>
<circle cx="1721.9" cy="1760.1" r="3.1" fill="#fc5c2e"/>
<circle cx="1732.0" cy="1777.8" r="3.1" fill="#f13723"/>
<circle cx="1608.2" cy="1782.6" r="3.1" fill="#fc5c2e"/>
<circle cx="1766.0" cy="1681.0" r="3.1" fill="#fd9f43"/>
<circle cx="1568.0" cy="1800.2" r="3.1" fill="#fc7e37"/>
<circle cx="1661.3" cy="1713.2" r="3.1" fill="#fc552c"/>
<circle cx="1612.6" cy="1727.7" r="3.1" fill="#fc6c32"/>
<circle cx="1595.1" cy="1774.4" r="3.1" fill="#f13824"/>
<circle cx="1773.7" cy="1674.8" r="3.1" fill="#fc6430"/>
<circle cx="1669.3" cy="1764.2" r="3.1" fill="#fd9d43"/>
<circle cx="1619.5" cy="1697.4" r="3.1" fill="#fd953f"/>
<circle cx="1580.5" cy="1786.3" r="3.1" fill="#9a0026"/>
<circle cx="1713.1" cy="1873.9" r="3.1" fill="#fd963f"/>
<circle cx="1771.2" cy="1680.5" r="3.1" fill="#fc8a3b"/>
<circle cx="1760.2" cy="1671.9" r="3.1" fill="#fc883a"/>
<circle cx="1701.6" cy="1892.3" r="3.1" fill="#fd953f"/>
<circle cx="1653.4" cy="1844.9" r="3.1" fill="#fd9b42"/>
<circle cx="1668.9" cy="1891.7" r="3.1" fill="#fc5e2e"/>
<circle cx="1637.7" cy="1814.1" r="3.1" fill="#f43f25"/>
<circle cx="1698.2" cy="1800.8" r="3.1" fill="#fc542b"/>
<circle cx="1733.2" cy="1714.2" r="3.1" fill="#8a0026"/>
<circle cx="1648.9" cy="1682.6" r="3.1" fill="#fc873a"/>
<circle cx="1601.2" cy="1683.6" r="3.1" fill="#fa4b29"/>
<circle cx="1813.2" cy="1686.1" r="3.1" fill="#fc5f2e"/>
<circle cx="1602.1" cy="1767.6" r="3.1" fill="#fc542b"/>
<circle cx="1834.8" cy="1654.0" r="3.1" fill="#900026"/>
<circle cx="1724.7" cy="1732.1" r="3.1" fill="#fd953f"/>
<circle cx="1630.7" cy="1777.1" r="3.1" fill="#970026"/>
<circle cx="1598.7" cy="1768.9" r="3.1" fill="#f74527"/>
<circle cx="1594.8" cy="1766.8" r="3.1" fill="#fb4d29"/>
<circle cx="1657.0" cy="1846.0" r="3.1" fill="#fc7535"/>
<circle cx="1705.1" cy="1875.4" r="3.1" fill="#fd9c42"/>
<circle cx="1643.0" cy="1821.3" r="3.1" fill="#fc6731"/>
<circle cx="1655.5" cy="1693.1" r="3.1" fill="#fc7a36"/>
<circle cx="1602.9" cy="1728.7" r="3.1" fill="#f84527"/>
<circle cx="1650.1" cy="1805.9" r="3.1" fill="#df171c"/>
<circle cx="1678.4" cy="1764.7" r="3.1" fill="#eb2c20"/>
<circle cx="1629.6" cy="1726.9" r="3.1" fill="#fc6631"/>
<circle cx="1677.2" cy="1733.7" r="3.1" fill="#fda144"/>
<circle cx="1584.8" cy="1742.9" r="3.1" fill="#fc7a36"/>
<circle cx="1706.5" cy="1834.4" r="3.1" fill="#fd933e"/>
<circle cx="1616.4" cy="1764.6" r="3.1" fill="#fc7134"/>
<circle cx="1589.4" cy="1801.6" r="3.1" fill="#fc532b"/>
<circle cx="1835.1" cy="1693.7" r="3.1" fill="#e2191c"/>
<circle cx="1744.5" cy="1692.8" r="3.1" fill="#ef3322"/>
<circle cx="1721.9" cy="1734.3" r="3.1" fill="#fb4c29"/>
<circle cx="1724.8" cy="1751.2" r="3.1" fill="#fd8f3c"/>
<circle cx="1610.1" cy="1813.4" r="3.1" fill="#fc532b"/>
<circle cx="1602.5" cy="1831.1" r="3.1" fill="#9f0026"/>
<circle cx="1621.1" cy="1711.7" r="3.1" fill="#fd8d3c"/>
<circle cx="1707.0" cy="1669.6" r="3.1" fill="#fc6b32"/>
<circle cx="1707.6" cy="1761.7" r="3.1" fill="#e7241e"/>
<circle cx="1821.9" cy="1655.8" r="3.1" fill="#e1181c"/>
<circle cx="1721.4" cy="1752.5" r="3.1" fill="#fd953f"/>
<circle cx="1809.8" cy="1687.4" r="3.1" fill="#fc522b"/>
<circle cx="1718.2" cy="1723.1" r="3.1" fill="#9f0026"/>
<circle cx="1831.7" cy="1695.0" r="3.1" fill="#da141e"/>
<circle cx="1605.8" cy="1777.7" r="3.1" fill="#fc8038"/>
<circle cx="1584.1" cy="1777.5" r="3.1" fill="#fd9840"/>
<circle cx="1686.2" cy="1723.9" r="3.1" fill="#f23a24"/>
<circle cx="1616.9" cy="1753.6" r="3.1" fill="#f64126"/>
<circle cx="1653.9" cy="1890.3" r="3.1" fill="#fc6931"/>
<circle cx="1785.9" cy="1698.1" r="3.1" fill="#940026"/>
<circle cx="1709.9" cy="1833.1" r="3.1" fill="#fda144"/>
<circle cx="1589.7" cy="1808.1" r="3.1" fill="#fc7936"/>
<circle cx="1765.6" cy="1671.1" r="3.1" fill="#fd8e3c"/>
<circle cx="1715.1" cy="1762.7" r="3.1" fill="#fc502a"/>
<circle cx="1796.8" cy="1754.8" r="3.1" fill="#fd8d3c"/>
<circle cx="1595.3" cy="1770.2" r="3.1" fill="#fc502a"/>
<circle cx="1685.2" cy="1762.1" r="3.1" fill="#e7231e"/>
<circle cx="1846.5" cy="1701.2" r="3.1" fill="#fda345"/>
<circle cx="1587.2" cy="1798.6" r="3.1" fill="#fc622f"/>
<circle cx="1613.0" cy="1765.9" r="3.1" fill="#fc6d33"/>
<circle cx="1578.0" cy="1752.2" r="3.1" fill="#fb4d29"/>
<circle cx="1682.4" cy="1729.8" r="3.1" fill="#db141d"/>
<circle cx="1619.7" cy="1767.3" r="3.1" fill="#fc4e2a"/>
<circle cx="1702.1" cy="1667.9" r="3.1" fill="#fc7e37"/>
<circle cx="1663.2" cy="1685.1" r="3.1" fill="#fc6430"/>
<circle cx="1662.1" cy="1894.3" r="3.1" fill="#fc6530"/>
<circle cx="1659.8" cy="1686.4" r="3.1" fill="#fc6831"/>
<circle cx="1608.0" cy="1690.0" r="3.1" fill="#fd8d3c"/>
<circle cx="1673.7" cy="1716.6" r="3.1" fill="#fd933e"/>
<circle cx="1670.2" cy="1699.5" r="3.1" fill="#fc7e37"/>
<circle cx="1624.9" cy="1717.4" r="3.1" fill="#fa4b29"/>
<circle cx="1650.9" cy="1709.2" r="3.1" fill="#950026"/>
<circle cx="1733.9" cy="1709.3" r="3.1" fill="#f74527"/>
<circle cx="1835.2" cy="1690.3" r="3.1" fill="#fa4b29"/>
<circle cx="1681.8" cy="1763.4" r="3.1" fill="#f03523"/>
<circle cx="1840.5" cy="1654.5" r="3.1" fill="#ef3322"/>
<circle cx="1699.9" cy="1664.9" r="3.1" fill="#fc8b3b"/>
<circle cx="1763.8" cy="1678.0" r="3.1" fill="#fd9d43"/>
<circle cx="1645.2" cy="1824.3" r="3.1" fill="#fc8238"/>
<circle cx="1668.0" cy="1689.2" r="3.1" fill="#fda144"/>
<circle cx="1669.3" cy="1835.2" r="3.1" fill="#fc512b"/>
<circle cx="1800.2" cy="1753.5" r="3.1" fill="#fd933e"/>
<circle cx="1699.4" cy="1889.3" r="3.1" fill="#fd9e43"/>
<circle cx="1665.5" cy="1893.0" r="3.1" fill="#fc6330"/>
<circle cx="1821.4" cy="1770.9" r="3.1" fill="#fc6731"/>
<circle cx="1593.1" cy="1806.8" r="3.1" fill="#fc7f38"/>
<circle cx="1624.1" cy="1804.0" r="3.1" fill="#a60026"/>
<circle cx="1635.6" cy="1766.0" r="3.1" fill="#f84627"/>
<circle cx="1592.4" cy="1816.5" r="3.1" fill="#fd9c42"/>
<circle cx="1690.9" cy="1883.8" r="3.1" fill="#fd9941"/>
<circle cx="1796.3" cy="1706.9" r="3.1" fill="#8b0026"/>
<circle cx="1665.8" cy="1686.2" r="3.1" fill="#fd9c42"/>
<circle cx="1703.1" cy="1835.7" r="3.1" fill="#fda446"/>
<circle cx="1658.3" cy="1747.9" r="3.1" fill="#f13824"/>
<circle cx="1603.3" cy="1820.5" r="3.1" fill="#fd9c42"/>
<circle cx="1627.8" cy="1751.9" r="3.1" fill="#fc4f2a"/>
<circle cx="1653.6" cy="1847.3" r="3.1" fill="#fc6630"/>
<circle cx="1670.4" cy="1807.4" r="3.1" fill="#fc6f33"/>
<circle cx="1683.7" cy="1722.3" r="3.1" fill="#fc8439"/>
<circle cx="1685.7" cy="1932.0" r="3.1" fill="#fc502a"/>
<circle cx="1645.3" cy="1772.8" r="3.1" fill="#fc8a3b"/>
<circle cx="1661.7" cy="1746.6" r="3.1" fill="#ea281f"/>
<circle cx="1641.9" cy="1774.1" r="3.1" fill="#fc8239"/>
<circle cx="1674.0" cy="1745.6" r="3.1" fill="#8c0026"/>
<circle cx="1667.8" cy="1770.2" r="3.1" fill="#fc5b2d"/>
<circle cx="1733.9" cy="1715.9" r="3.1" fill="#f74527"/>
<circle cx="1701.7" cy="1876.7" r="3.1" fill="#fd9d42"/>
<circle cx="1684.6" cy="1732.8" r="3.1" fill="#e2191c"/>
<circle cx="1720.8" cy="1731.4" r="3.1" fill="#f13824"/>
<circle cx="1669.6" cy="1739.6" r="3.1" fill="#a20026"/>
<circle cx="1639.7" cy="1850.3" r="3.1" fill="#fd9e43"/>
<circle cx="1692.4" cy="1683.9" r="3.1" fill="#fc532b"/>
<circle cx="1711.4" cy="1751.3" r="3.1" fill="#fc7f38"/>
<circle cx="1676.1" cy="1832.6" r="3.1" fill="#f74327"/>
<circle cx="1663.7" cy="1686.7" r="3.1" fill="#fc4f2a"/>
<circle cx="1589.3" cy="1772.2" r="3.1" fill="#fd933e"/>
<circle cx="1649.3" cy="1751.8" r="3.1" fill="#fda245"/>
<circle cx="1646.6" cy="1809.6" r="3.1" fill="#fb4d29"/>
<circle cx="1695.4" cy="1760.8" r="3.1" fill="#fc6330"/>
<circle cx="1685.4" cy="1769.5" r="3.1" fill="#f84527"/>
<circle cx="1585.0" cy="1795.6" r="3.1" fill="#fb4c29"/>
<circle cx="1818.5" cy="1657.1" r="3.1" fill="#e7241e"/>
<circle cx="1704.8" cy="1666.6" r="3.1" fill="#fc8138"/>
<circle cx="1725.6" cy="1670.7" r="3.1" fill="#f94928"/>
<circle cx="1689.8" cy="1696.8" r="3.1" fill="#fc7c37"/>
<circle cx="1759.3" cy="1656.3" r="3.1" fill="#f94828"/>
<circle cx="1699.0" cy="1859.2" r="3.1" fill="#fda145"/>
<circle cx="1645.2" cy="1717.8" r="3.1" fill="#fd9b42"/>
<circle cx="1675.8" cy="1769.0" r="3.1" fill="#fc6931"/>
<circle cx="1677.1" cy="1715.3" r="3.1" fill="#fd9b42"/>
<circle cx="1647.4" cy="1827.3" r="3.1" fill="#fc7f38"/>
<circle cx="1644.3" cy="1775.5" r="3.1" fill="#fc7134"/>
<circle cx="1594.7" cy="1811.5" r="3.1" fill="#ea2a20"/>
<circle cx="1657.7" cy="1706.6" r="3.1" fill="#a10026"/>
<circle cx="1661.2" cy="1858.8" r="3.1" fill="#fa4b29"/>
<circle cx="1689.3" cy="1667.6" r="3.1" fill="#a40026"/>
<circle cx="1721.3" cy="1733.4" r="3.1" fill="#fc7e37"/>
<circle cx="1774.7" cy="1663.8" r="3.1" fill="#fc7936"/>
<circle cx="1848.7" cy="1704.2" r="3.1" fill="#fd9f44"/>
<circle cx="1788.1" cy="1701.1" r="3.1" fill="#8a0026"/>
<circle cx="1731.3" cy="1726.5" r="3.1" fill="#fd8d3c"/>
<circle cx="1684.7" cy="1697.2" r="3.1" fill="#e7241e"/>
<circle cx="1672.7" cy="1833.9" r="3.1" fill="#fc5b2d"/>
<circle cx="1723.6" cy="1738.2" r="3.1" fill="#fc572c"/>
<circle cx="1735.4" cy="1776.5" r="3.1" fill="#f74327"/>
<circle cx="1802.3" cy="1677.2" r="3.1" fill="#920026"/>
<circle cx="1705.8" cy="1663.3" r="3.1" fill="#fc8a3b"/>
<circle cx="1646.7" cy="1807.2" r="3.1" fill="#de161d"/>
<circle cx="1736.1" cy="1712.3" r="3.1" fill="#f33d25"/>
<circle cx="1691.0" cy="1731.7" r="3.1" fill="#930026"/>
<circle cx="1734.5" cy="1773.8" r="3.1" fill="#ec2d21"/>
<circle cx="1663.6" cy="1887.4" r="3.1" fill="#fc7d37"/>
<circle cx="1736.3" cy="1774.3" r="3.1" fill="#ee3122"/>
<circle cx="1667.0" cy="1918.5" r="3.1" fill="#fc602f"/>
<circle cx="1731.6" cy="1737.5" r="3.1" fill="#e9271f"/>
<circle cx="1599.7" cy="1858.5" r="3.1" fill="#fc552c"/>
<circle cx="1714.1" cy="1657.8" r="3.1" fill="#f74327"/>
<circle cx="1747.9" cy="1659.1" r="3.1" fill="#fda044"/>
<circle cx="1728.2" cy="1738.8" r="3.1" fill="#e7221e"/>
<circle cx="1665.7" cy="1719.2" r="3.1" fill="#fc5b2d"/>
<circle cx="1691.9" cy="1663.3" r="3.1" fill="#fda044"/>
<circle cx="1657.0" cy="1718.8" r="3.1" fill="#f94828"/>
<circle cx="1723.1" cy="1788.0" r="3.1" fill="#fc4f2a"/>
<circle cx="1633.5" cy="1889.0" r="3.1" fill="#fc4f2a"/>
<circle cx="1696.5" cy="1901.5" r="3.1" fill="#f84627"/>
<circle cx="1713.8" cy="1693.2" r="3.1" fill="#e51f1d"/>
<circle cx="1837.1" cy="1758.2" r="3.1" fill="#fa4928"/>
<circle cx="1605.5" cy="1823.5" r="3.1" fill="#fd9740"/>
<circle cx="1617.7" cy="1713.0" r="3.1" fill="#fd923e"/>
<circle cx="1707.3" cy="1769.4" r="3.1" fill="#fc8038"/>
<circle cx="1678.0" cy="1772.0" r="3.1" fill="#fc612f"/>
<circle cx="1688.8" cy="1687.0" r="3.1" fill="#db141e"/>
<circle cx="1634.6" cy="1845.8" r="3.1" fill="#e51f1d"/>
<circle cx="1771.3" cy="1665.1" r="3.1" fill="#fc7635"/>
<circle cx="1646.1" cy="1907.9" r="3.1" fill="#e7221e"/>
<circle cx="1659.9" cy="1699.1" r="3.1" fill="#fc7e37"/>
<circle cx="1650.1" cy="1781.4" r="3.1" fill="#980026"/>
<circle cx="1838.6" cy="1679.7" r="3.1" fill="#fd903d"/>
<circle cx="1688.1" cy="1695.9" r="3.1" fill="#e41d1c"/>
<circle cx="1627.5" cy="1802.7" r="3.1" fill="#a20026"/>
<circle cx="1665.0" cy="1879.6" r="3.1" fill="#980026"/>
<circle cx="1661.8" cy="1813.3" r="3.1" fill="#fb4c29"/>
<circle cx="1835.7" cy="1660.6" r="3.1" fill="#fc5d2e"/>
<circle cx="1707.3" cy="1660.4" r="3.1" fill="#f43e25"/>
<circle cx="1576.8" cy="1754.2" r="3.1" fill="#fa4b29"/>
<circle cx="1796.4" cy="1770.7" r="3.1" fill="#e7221e"/>
<circle cx="1762.7" cy="1655.0" r="3.1" fill="#f84728"/>
<circle cx="1594.6" cy="1819.5" r="3.1" fill="#fda446"/>
<circle cx="1666.8" cy="1818.1" r="3.1" fill="#f43e25"/>
<circle cx="1582.4" cy="1743.8" r="3.1" fill="#fd9e43"/>
<circle cx="1719.5" cy="1718.5" r="3.1" fill="#fc582c"/>
<circle cx="1608.5" cy="1767.4" r="3.1" fill="#fc7b37"/>
<polygon points="1773.0,1796.0 1775.9,1804.0 1784.4,1804.3 1777.8,1809.5 1780.1,1817.7 1773.0,1813.0 1765.9,1817.7 1768.2,1809.5 1761.6,1804.3 1770.1,1804.0" fill="#2DB52D"/>
<text x="1797.0" y="1840.0" font-size="22" fill="#3CC23C" text-anchor="middle">Pareto Optimal</text>
<text x="1797.0" y="1865.0" font-size="22" fill="#3CC23C" text-anchor="middle"><tspan >Shape </tspan><tspan font-style="italic" class="R">s</tspan><tspan font-size="15" dy="-8">*</tspan></text>
<line x1="2127.0" y1="1552.0" x2="2655.0" y2="1552.0" stroke="#000" stroke-width="2.5" />
<path d="M2666.0,1552.0 L2653.0,1556.9 L2653.0,1547.1 Z" fill="#000"/>
<circle cx="2168.0" cy="1552.0" r="10.0" fill="#7F7F7F" stroke="#333" stroke-width="2.5"/>
<circle cx="2324.0" cy="1552.0" r="10.0" fill="#7F7F7F" stroke="#333" stroke-width="2.5"/>
<circle cx="2481.0" cy="1552.0" r="10.0" fill="#7F7F7F" stroke="#333" stroke-width="2.5"/>
<circle cx="2623.0" cy="1552.0" r="10.0" fill="#7F7F7F" stroke="#333" stroke-width="2.5"/>
<text x="2124.0" y="1540.0" font-size="16">· · ·</text>
<text x="2634.0" y="1540.0" font-size="16">· · ·</text>
<line x1="2322.0" y1="1560.0" x2="2254.0" y2="1595.0" stroke="#000" stroke-width="2" stroke-dasharray="2 3"/>
<line x1="2483.0" y1="1560.0" x2="2532.0" y2="1595.0" stroke="#000" stroke-width="2" stroke-dasharray="2 3"/>
<rect x="2120.0" y="1597.0" width="266.0" height="389.0" fill="#E3E3E3" rx="10"/>
<rect x="2400.0" y="1597.0" width="267.0" height="389.0" fill="#E3E3E3" rx="10"/>
<text x="2252.0" y="1621.0" font-size="26" text-anchor="middle"><tspan >SubNet </tspan><tspan font-style="italic" font-size="30" class="R">t</tspan></text>
<text x="2532.0" y="1621.0" font-size="26" text-anchor="middle"><tspan >SubNet </tspan><tspan font-style="italic" font-size="30" class="R">t</tspan><tspan font-size="30" class="R"> + 1</tspan></text>
<line x1="2256.0" y1="1637.0" x2="2256.0" y2="1975.0" stroke="#000" stroke-width="2.5" />
<path d="M2256.0,1984.0 L2251.9,1973.0 L2260.1,1973.0 Z" fill="#000"/>
<line x1="2537.0" y1="1637.0" x2="2537.0" y2="1975.0" stroke="#000" stroke-width="2.5" />
<path d="M2537.0,1984.0 L2532.9,1973.0 L2541.1,1973.0 Z" fill="#000"/>
<text x="2378.0" y="1648.0" font-size="26.5" font-weight="bold" text-anchor="middle">Share Weights</text>
<line x1="2293.0" y1="1661.0" x2="2480.0" y2="1661.0" stroke="#000" stroke-width="2.5" />
<path d="M2283.0,1661.0 L2295.0,1656.5 L2295.0,1665.5 Z" fill="#000"/>
<path d="M2490.0,1661.0 L2478.0,1665.5 L2478.0,1656.5 Z" fill="#000"/>
<rect x="2100.0" y="1682.0" width="276.0" height="115.0" fill="none" stroke="#000" stroke-width="2.5" rx="6" stroke-dasharray="8 5"/>
<rect x="2100.0" y="1823.0" width="276.0" height="115.0" fill="none" stroke="#000" stroke-width="2.5" rx="6" stroke-dasharray="8 5"/>
<rect x="2410.0" y="1682.0" width="248.0" height="115.0" fill="none" stroke="#000" stroke-width="2.5" rx="6" stroke-dasharray="8 5"/>
<rect x="2410.0" y="1823.0" width="248.0" height="115.0" fill="none" stroke="#000" stroke-width="2.5" rx="6" stroke-dasharray="8 5"/>
<rect x="2143.0" y="1690.0" width="145.0" height="26.0" fill="#fff" rx="4"/>
<rect x="2143.0" y="1690.0" width="72.5" height="26.0" fill="#C3A8D3" rx="4"/>
<rect x="2143.0" y="1690.0" width="145.0" height="26.0" fill="none" stroke="#000" stroke-width="2.5" rx="4"/>
<text x="2173.0" y="1712.0" font-size="26"><tspan fill="#A31F34">32</tspan><tspan > / 64</tspan></text>
<rect x="2143.0" y="1725.0" width="225.0" height="26.0" fill="#fff" rx="4"/>
<rect x="2143.0" y="1725.0" width="189.0" height="26.0" fill="#C3A8D3" rx="4"/>
<rect x="2143.0" y="1725.0" width="225.0" height="26.0" fill="none" stroke="#000" stroke-width="2.5" rx="4"/>
<text x="2171.0" y="1747.0" font-size="26"><tspan fill="#A31F34">128</tspan><tspan > / 160</tspan></text>
<rect x="2143.0" y="1759.0" width="145.0" height="26.0" fill="#fff" rx="4"/>
<rect x="2143.0" y="1759.0" width="145.0" height="26.0" fill="#C3A8D3" rx="4"/>
<rect x="2143.0" y="1759.0" width="145.0" height="26.0" fill="none" stroke="#000" stroke-width="2.5" rx="4"/>
<text x="2173.0" y="1781.0" font-size="26"><tspan fill="#A31F34">64</tspan><tspan > / 64</tspan></text>
<rect x="2143.0" y="1832.0" width="145.0" height="26.0" fill="#fff" rx="4"/>
<rect x="2143.0" y="1832.0" width="145.0" height="26.0" fill="#C3A8D3" rx="4"/>
<rect x="2143.0" y="1832.0" width="145.0" height="26.0" fill="none" stroke="#000" stroke-width="2.5" rx="4"/>
<text x="2173.0" y="1854.0" font-size="26"><tspan fill="#A31F34">64</tspan><tspan > / 64</tspan></text>
<rect x="2143.0" y="1866.0" width="225.0" height="26.0" fill="#fff" rx="4"/>
<rect x="2143.0" y="1866.0" width="153.0" height="26.0" fill="#C3A8D3" rx="4"/>
<rect x="2143.0" y="1866.0" width="225.0" height="26.0" fill="none" stroke="#000" stroke-width="2.5" rx="4"/>
<text x="2171.0" y="1888.0" font-size="26"><tspan fill="#A31F34">96</tspan><tspan > / 160</tspan></text>
<rect x="2143.0" y="1901.0" width="145.0" height="26.0" fill="#fff" rx="4"/>
<rect x="2143.0" y="1901.0" width="78.3" height="26.0" fill="#C3A8D3" rx="4"/>
<rect x="2143.0" y="1901.0" width="145.0" height="26.0" fill="none" stroke="#000" stroke-width="2.5" rx="4"/>
<text x="2173.0" y="1923.0" font-size="26"><tspan fill="#A31F34">32</tspan><tspan > / 64</tspan></text>
<rect x="2424.0" y="1690.0" width="144.0" height="26.0" fill="#fff" rx="4"/>
<rect x="2424.0" y="1690.0" width="72.0" height="26.0" fill="#C3A8D3" rx="4"/>
<rect x="2424.0" y="1690.0" width="144.0" height="26.0" fill="none" stroke="#000" stroke-width="2.5" rx="4"/>
<text x="2454.0" y="1712.0" font-size="26"><tspan fill="#A31F34">32</tspan><tspan > / 64</tspan></text>
<rect x="2424.0" y="1725.0" width="225.0" height="26.0" fill="#fff" rx="4"/>
<rect x="2424.0" y="1725.0" width="225.0" height="26.0" fill="#C3A8D3" rx="4"/>
<rect x="2424.0" y="1725.0" width="225.0" height="26.0" fill="none" stroke="#000" stroke-width="2.5" rx="4"/>
<text x="2452.0" y="1747.0" font-size="26"><tspan fill="#A31F34">160</tspan><tspan > / 160</tspan></text>
<rect x="2424.0" y="1759.0" width="144.0" height="26.0" fill="#fff" rx="4"/>
<rect x="2424.0" y="1759.0" width="144.0" height="26.0" fill="#C3A8D3" rx="4"/>
<rect x="2424.0" y="1759.0" width="144.0" height="26.0" fill="none" stroke="#000" stroke-width="2.5" rx="4"/>
<text x="2454.0" y="1781.0" font-size="26"><tspan fill="#A31F34">64</tspan><tspan > / 64</tspan></text>
<rect x="2424.0" y="1832.0" width="144.0" height="26.0" fill="#fff" rx="4"/>
<rect x="2424.0" y="1832.0" width="77.8" height="26.0" fill="#C3A8D3" rx="4"/>
<rect x="2424.0" y="1832.0" width="144.0" height="26.0" fill="none" stroke="#000" stroke-width="2.5" rx="4"/>
<text x="2454.0" y="1854.0" font-size="26"><tspan fill="#A31F34">32</tspan><tspan > / 64</tspan></text>
<rect x="2424.0" y="1866.0" width="225.0" height="26.0" fill="#fff" rx="4"/>
<rect x="2424.0" y="1866.0" width="153.0" height="26.0" fill="#C3A8D3" rx="4"/>
<rect x="2424.0" y="1866.0" width="225.0" height="26.0" fill="none" stroke="#000" stroke-width="2.5" rx="4"/>
<text x="2452.0" y="1888.0" font-size="26"><tspan fill="#A31F34">96</tspan><tspan > / 160</tspan></text>
<rect x="2424.0" y="1901.0" width="144.0" height="26.0" fill="#fff" rx="4"/>
<rect x="2424.0" y="1901.0" width="77.8" height="26.0" fill="#C3A8D3" rx="4"/>
<rect x="2424.0" y="1901.0" width="144.0" height="26.0" fill="none" stroke="#000" stroke-width="2.5" rx="4"/>
<text x="2454.0" y="1923.0" font-size="26"><tspan fill="#A31F34">32</tspan><tspan > / 64</tspan></text>
<text x="2111.0" y="1707.0" font-size="30" class="R"><tspan font-style="italic" font-size="30">r</tspan><tspan font-size="20" dy="5">1</tspan></text>
<text x="2111.0" y="1742.0" font-size="30" class="R"><tspan font-style="italic" font-size="30">r</tspan><tspan font-size="20" dy="5">2</tspan></text>
<text x="2111.0" y="1776.0" font-size="30" class="R"><tspan font-style="italic" font-size="30">r</tspan><tspan font-size="20" dy="5">3</tspan></text>
<text x="2111.0" y="1849.0" font-size="30" class="R"><tspan font-style="italic" font-size="30">r</tspan><tspan font-size="20" dy="5">1</tspan></text>
<text x="2111.0" y="1883.0" font-size="30" class="R"><tspan font-style="italic" font-size="30">r</tspan><tspan font-size="20" dy="5">2</tspan></text>
<text x="2111.0" y="1918.0" font-size="30" class="R"><tspan font-style="italic" font-size="30">r</tspan><tspan font-size="20" dy="5">3</tspan></text>
<text x="2324.0" y="1707.0" font-size="32" class="R" font-style="italic">W</text>
<text x="2355.0" y="1695.0" font-size="22" class="R">′</text>
<text x="2351.0" y="1715.0" font-size="21" class="R">1</text>
<text x="2324.0" y="1849.0" font-size="32" class="R" font-style="italic">W</text>
<text x="2355.0" y="1837.0" font-size="22" class="R">′</text>
<text x="2351.0" y="1857.0" font-size="21" class="R">2</text>
<text x="2208.0" y="1955.0" font-size="18">· · ·</text>
<text x="2490.0" y="1957.0" font-size="18">· · ·</text>
<text x="2392.0" y="2015.0" font-size="26.5" font-weight="bold" text-anchor="middle">Sample Ranks at Each Iteration</text>
<text x="1444.0" y="2071.0" font-size="32.6" font-weight="bold">Decomposition rank search</text>
<text x="1442.0" y="2124.0" font-size="32.5">•</text>
<text x="1476.0" y="2124.0" font-size="32.5" word-spacing="0.3"><tspan font-weight="bold">One-shot</tspan><tspan > search based on proposed weight sharing </tspan><tspan font-weight="bold" font-style="italic">Rank-SuperNet</tspan></text>
<text x="1442.0" y="2172.0" font-size="32.5">•</text>
<text x="1476.0" y="2172.0" font-size="32.5" word-spacing="1.1"><tspan font-weight="bold" font-style="italic">SuperNet + Acc. Predictor</tspan><tspan >: Accuracy proxy with </tspan><tspan fill="#2F5C85">m</tspan><tspan >inimum re-training cost</tspan></text>
<text x="1444.0" y="2253.0" font-size="32.8" font-weight="bold">Train factorized Transformer</text>
<rect x="1438.0" y="2277.0" width="599.0" height="99.0" fill="#A5D159" rx="14"/>
<text x="1470.0" y="2342.0" font-size="43.4" fill="#C00000">Trainability is the bottleneck</text>
<text x="1442.0" y="2428.0" font-size="32.5">•</text>
<text x="1476.0" y="2428.0" font-size="32.5" word-spacing="0">Per layer attention/hidden distillation</text>
<text x="1442.0" y="2474.0" font-size="32.5" fill="#34495E">•</text>
<text x="1476.0" y="2474.0" font-size="32.5" fill="#34495E" word-spacing="-2">Logit distillation</text>
<text x="1442.0" y="2522.0" font-size="32.5">•</text>
<text x="1476.0" y="2522.0" font-size="32.5" word-spacing="1">Recover accuracy &amp; guide optimization</text>
<line x1="2121.0" y1="2238.0" x2="2121.0" y2="2630.0" stroke="#000" stroke-width="2.5" />
<path d="M2121.0,2210.0 L2125.9,2223.0 L2116.1,2223.0 Z" fill="#000"/>
<line x1="2121.0" y1="2238.0" x2="2121.0" y2="2222.0" stroke="#000" stroke-width="2.5" />
<rect x="2052.0" y="2244.0" width="147.0" height="29.0" fill="#E6E6E6" stroke="#000" stroke-width="2.5" rx="5"/>
<text x="2121.0" y="2270.0" font-size="28.4" text-anchor="middle">Linear</text>
<rect x="2052.0" y="2286.0" width="147.0" height="23.0" fill="#fff" stroke="#000" stroke-width="2.5" rx="4" stroke-dasharray="2.5 3"/>
<rect x="2052.0" y="2355.0" width="147.0" height="197.0" fill="#fff" stroke="#000" stroke-width="2.5" rx="6" stroke-dasharray="2.5 3"/>
<rect x="2052.0" y="2568.0" width="147.0" height="23.0" fill="#fff" stroke="#000" stroke-width="2.5" rx="4" stroke-dasharray="2.5 3"/>
<line x1="2121.0" y1="2309.0" x2="2121.0" y2="2568.0" stroke="#000" stroke-width="2.5" />
<line x1="2121.0" y1="2591.0" x2="2121.0" y2="2620.0" stroke="#000" stroke-width="2.5" />
<rect x="2064.0" y="2375.0" width="117.0" height="38.0" fill="#E6E6E6" stroke="#000" stroke-width="2.5" rx="6"/>
<text x="2122.5" y="2406.0" font-size="28.6" text-anchor="middle">FFN</text>
<rect x="2064.0" y="2441.0" width="117.0" height="87.0" fill="#E6E6E6" stroke="#000" stroke-width="2.5" rx="7"/>
<path d="M2121,2537 L2191,2537 L2191,2430 L2131,2430" fill="none" stroke="#000" stroke-width="2.5"/>
<path d="M2123.0,2430.0 L2133.0,2426.2 L2133.0,2433.8 Z" fill="#000"/>
<path d="M2121,2421 L2191,2421 L2191,2365 L2131,2365" fill="none" stroke="#000" stroke-width="2.5"/>
<path d="M2123.0,2365.0 L2133.0,2361.2 L2133.0,2368.8 Z" fill="#000"/>
<text x="2084.0" y="2520.0" font-size="27" text-anchor="middle">Q</text>
<text x="2122.5" y="2520.0" font-size="27" text-anchor="middle">K</text>
<text x="2161.0" y="2520.0" font-size="27" text-anchor="middle">V</text>
<path d="M2080,2492 L2080,2482 L2124.5,2482 L2124.5,2492" fill="none" stroke="#000" stroke-width="1.5"/>
<path d="M2102.25,2482 L2102.25,2470 L2159,2470 L2159,2492" fill="none" stroke="#000" stroke-width="1.5"/>
<path d="M2130.625,2470 L2130.625,2452" fill="none" stroke="#000" stroke-width="1.5"/>
<circle cx="2110.2" cy="2470.0" r="3.0" fill="#A31F34"/>
<text x="2067.0" y="2473.0" font-size="34" class="R" font-style="italic">A</text>
<text x="2091.0" y="2455.0" font-size="22" class="R" font-style="italic">T</text>
<circle cx="2121.0" cy="2231.0" r="3.0" fill="#A31F34"/>
<circle cx="2121.0" cy="2339.0" r="3.0" fill="#A31F34"/>
<line x1="2089.0" y1="2315.0" x2="2089.0" y2="2348.0" stroke="#000" stroke-width="3" stroke-dasharray="2.5 8"/>
<line x1="2352.0" y1="2238.0" x2="2352.0" y2="2630.0" stroke="#000" stroke-width="2.5" />
<path d="M2352.0,2210.0 L2356.9,2223.0 L2347.1,2223.0 Z" fill="#000"/>
<line x1="2352.0" y1="2238.0" x2="2352.0" y2="2222.0" stroke="#000" stroke-width="2.5" />
<rect x="2283.0" y="2244.0" width="147.0" height="29.0" fill="#E6E6E6" stroke="#000" stroke-width="2.5" rx="5"/>
<text x="2352.0" y="2270.0" font-size="28.4" text-anchor="middle">Linear</text>
<rect x="2283.0" y="2286.0" width="147.0" height="23.0" fill="#fff" stroke="#000" stroke-width="2.5" rx="4" stroke-dasharray="2.5 3"/>
<rect x="2283.0" y="2355.0" width="147.0" height="197.0" fill="#fff" stroke="#000" stroke-width="2.5" rx="6" stroke-dasharray="2.5 3"/>
<rect x="2283.0" y="2568.0" width="147.0" height="23.0" fill="#fff" stroke="#000" stroke-width="2.5" rx="4" stroke-dasharray="2.5 3"/>
<line x1="2352.0" y1="2309.0" x2="2352.0" y2="2568.0" stroke="#000" stroke-width="2.5" />
<line x1="2352.0" y1="2591.0" x2="2352.0" y2="2620.0" stroke="#000" stroke-width="2.5" />
<rect x="2295.0" y="2375.0" width="117.0" height="38.0" fill="#E4D0E2" stroke="#000" stroke-width="2.5" rx="6"/>
<text x="2353.5" y="2406.0" font-size="28.6" text-anchor="middle">FFN</text>
<rect x="2295.0" y="2441.0" width="117.0" height="87.0" fill="#E4D0E2" stroke="#000" stroke-width="2.5" rx="7"/>
<path d="M2352,2537 L2422,2537 L2422,2430 L2362,2430" fill="none" stroke="#000" stroke-width="2.5"/>
<path d="M2354.0,2430.0 L2364.0,2426.2 L2364.0,2433.8 Z" fill="#000"/>
<path d="M2352,2421 L2422,2421 L2422,2365 L2362,2365" fill="none" stroke="#000" stroke-width="2.5"/>
<path d="M2354.0,2365.0 L2364.0,2361.2 L2364.0,2368.8 Z" fill="#000"/>
<text x="2315.0" y="2520.0" font-size="27" text-anchor="middle">Q</text>
<text x="2353.5" y="2520.0" font-size="27" text-anchor="middle">K</text>
<text x="2392.0" y="2520.0" font-size="27" text-anchor="middle">V</text>
<path d="M2311,2492 L2311,2482 L2355.5,2482 L2355.5,2492" fill="none" stroke="#000" stroke-width="1.5"/>
<path d="M2333.25,2482 L2333.25,2470 L2390,2470 L2390,2492" fill="none" stroke="#000" stroke-width="1.5"/>
<path d="M2361.625,2470 L2361.625,2452" fill="none" stroke="#000" stroke-width="1.5"/>
<circle cx="2341.2" cy="2470.0" r="3.0" fill="#A31F34"/>
<text x="2298.0" y="2473.0" font-size="34" class="R" font-style="italic">A</text>
<text x="2322.0" y="2455.0" font-size="22" class="R" font-style="italic">S</text>
<circle cx="2352.0" cy="2231.0" r="3.0" fill="#A31F34"/>
<circle cx="2352.0" cy="2339.0" r="3.0" fill="#A31F34"/>
<line x1="2393.0" y1="2315.0" x2="2393.0" y2="2348.0" stroke="#000" stroke-width="3" stroke-dasharray="2.5 8"/>
<text x="2089.0" y="2555.0" font-size="18">· · ·</text>
<text x="2306.0" y="2555.0" font-size="18">· · ·</text>
<text x="2128.0" y="2617.0" font-size="29">Teacher</text>
<text x="2356.0" y="2615.0" font-size="29.5">Student</text>
<line x1="2155.0" y1="2231.0" x2="2318.0" y2="2231.0" stroke="#A31F34" stroke-width="2.5" />
<path d="M2147.0,2231.0 L2158.0,2226.9 L2158.0,2235.1 Z" fill="#A31F34"/>
<path d="M2326.0,2231.0 L2315.0,2235.1 L2315.0,2226.9 Z" fill="#A31F34"/>
<line x1="2167.0" y1="2338.0" x2="2300.0" y2="2338.0" stroke="#A31F34" stroke-width="2.5" />
<path d="M2159.0,2338.0 L2170.0,2333.9 L2170.0,2342.1 Z" fill="#A31F34"/>
<path d="M2308.0,2338.0 L2297.0,2342.1 L2297.0,2333.9 Z" fill="#A31F34"/>
<line x1="2190.0" y1="2467.0" x2="2288.0" y2="2467.0" stroke="#A31F34" stroke-width="2.5" />
<path d="M2182.0,2467.0 L2193.0,2462.9 L2193.0,2471.1 Z" fill="#A31F34"/>
<path d="M2296.0,2467.0 L2285.0,2471.1 L2285.0,2462.9 Z" fill="#A31F34"/>
<text x="2135.0" y="2220.0" font-size="30" class="R"><tspan font-style="italic">y</tspan><tspan font-style="italic" font-size="20" dy="-14">T</tspan></text>
<text x="2316.0" y="2220.0" font-size="30" class="R"><tspan font-style="italic">y</tspan><tspan font-style="italic" font-size="20" dy="-14">S</tspan></text>
<text x="2204.0" y="2216.0" font-size="30" class="R"><tspan font-style="italic" font-size="34">ℒ</tspan><tspan font-style="italic" font-size="22" dy="8">logit</tspan></text>
<text x="2127.0" y="2339.0" font-size="34" class="R"><tspan font-style="italic">h</tspan><tspan font-style="italic" font-size="20" dy="-14">T</tspan></text>
<text x="2309.0" y="2339.0" font-size="34" class="R"><tspan font-style="italic">h</tspan><tspan font-style="italic" font-size="20" dy="-14">S</tspan></text>
<text x="2196.0" y="2322.0" font-size="30" class="R"><tspan font-style="italic" font-size="34">ℒ</tspan><tspan font-style="italic" font-size="20" dy="-18">i</tspan><tspan font-style="italic" font-size="22" dy="26" dx="-6">hidden</tspan></text>
<text x="2210.0" y="2454.0" font-size="30" class="R"><tspan font-style="italic" font-size="34">ℒ</tspan><tspan font-style="italic" font-size="20" dy="-18">i</tspan><tspan font-style="italic" font-size="22" dy="26" dx="-6">attn</tspan></text>
<rect x="2473.0" y="2201.0" width="185.0" height="142.0" fill="#F2F2F2" stroke="#333" stroke-width="2" rx="7"/>
<path d="M2479,2246 Q2565,2428 2652,2246" fill="none" stroke="#000" stroke-width="3"/>
<path d="M2490,2243 C2498,2286 2510,2276 2525,2278 C2545,2280 2555,2316 2585,2316 C2610,2316 2630,2286 2638,2243" fill="none" stroke="#A31F34" stroke-width="3"/>
<circle cx="2563.0" cy="2337.0" r="5.0" fill="#F5B31B"/>
<rect x="2473.0" y="2351.0" width="185.0" height="142.0" fill="#F2F2F2" stroke="#333" stroke-width="2" rx="7"/>
<path d="M2479,2396 Q2565,2578 2652,2396" fill="none" stroke="#000" stroke-width="3"/>
<path d="M2490,2393 C2498,2436 2510,2426 2525,2428 C2545,2430 2555,2466 2585,2466 C2610,2466 2630,2436 2638,2393" fill="none" stroke="#A31F34" stroke-width="3"/>
<circle cx="2563.0" cy="2487.0" r="5.0" fill="#F5B31B"/>
<rect x="2473.0" y="2501.0" width="185.0" height="142.0" fill="#F2F2F2" stroke="#333" stroke-width="2" rx="7"/>
<path d="M2479,2546 Q2565,2728 2652,2546" fill="none" stroke="#000" stroke-width="3"/>
<path d="M2490,2543 C2498,2586 2510,2576 2525,2578 C2545,2580 2555,2616 2585,2616 C2610,2616 2630,2586 2638,2543" fill="none" stroke="#A31F34" stroke-width="3"/>
<circle cx="2563.0" cy="2637.0" r="5.0" fill="#F5B31B"/>
<text x="2560.0" y="2229.0" font-size="29" class="R" text-anchor="middle"><tspan >min |</tspan><tspan font-weight="bold">W</tspan><tspan > − </tspan><tspan font-weight="bold">W′</tspan><tspan >|</tspan></text>
<text x="2590.0" y="2290.0" font-size="22" fill="#A31F34">S</text>
<text x="2617.0" y="2320.0" font-size="22">T</text>
<circle cx="2497.0" cy="2259.0" r="5.0" fill="#2F84D6"/>
<line x1="2560.0" y1="2333.0" x2="2503.0" y2="2266.0" stroke="#F5B31B" stroke-width="2.5" stroke-dasharray="2 3"/>
<path d="M2500.0,2262.0 L2510.3,2267.7 L2503.9,2273.1 Z" fill="#F5B31B"/>
<text x="2563.0" y="2375.0" font-size="28" class="R" text-anchor="middle"><tspan >min </tspan><tspan font-style="italic">ℒ</tspan><tspan font-style="italic" font-size="23" dy="6">hidden</tspan></text>
<text x="2565.0" y="2401.0" font-size="28" class="R" text-anchor="middle"><tspan >+</tspan><tspan font-style="italic">ℒ</tspan><tspan font-style="italic" font-size="23" dy="6">attn</tspan></text>
<circle cx="2496.0" cy="2408.0" r="5.0" fill="#2F84D6"/>
<circle cx="2555.0" cy="2437.0" r="5.0" fill="#2F84D6"/>
<line x1="2500.0" y1="2410.0" x2="2540.0" y2="2428.0" stroke="#2F84D6" stroke-width="2.5" stroke-dasharray="2 3"/>
<path d="M2550.0,2432.0 L2538.3,2430.8 L2542.0,2423.4 Z" fill="#2F84D6"/>
<text x="2564.0" y="2526.0" font-size="28" class="R" text-anchor="middle"><tspan >min </tspan><tspan font-style="italic">ℒ</tspan><tspan font-style="italic" font-size="23" dy="6">logit</tspan></text>
<circle cx="2555.0" cy="2587.0" r="5.0" fill="#2F84D6"/>
<circle cx="2584.0" cy="2611.0" r="5.0" fill="#2F84D6"/>
<line x1="2558.0" y1="2590.0" x2="2574.0" y2="2603.0" stroke="#2F84D6" stroke-width="2.5" stroke-dasharray="2 3"/>
<path d="M2580.0,2607.0 L2569.1,2602.7 L2574.6,2596.5 Z" fill="#2F84D6"/>
<line x1="2668.0" y1="2240.0" x2="2668.0" y2="2600.0" stroke="#000" stroke-width="2.5" />
<path d="M2668.0,2614.0 L2662.8,2600.0 L2673.2,2600.0 Z" fill="#000"/>
<text x="3119.0" y="446.0" font-size="52.5" fill="#C55A11">Experimental Results</text>
<text x="2838.0" y="503.0" font-size="32.5" fill="#34495E">•</text>
<text x="2876.0" y="503.0" font-size="32.5" fill="#34495E">On BERT-base SQuADv1</text>
<text x="2838.0" y="549.0" font-size="32.5" fill="#00B050">•</text>
<text x="2876.0" y="549.0" font-size="32.5" word-spacing="0.55"><tspan fill="#00B050" font-weight="bold">~5.7x</tspan><tspan > lower energy-delay product (EDP) &amp; </tspan><tspan fill="#00B050">&lt;1.1%</tspan><tspan > accuracy drop</tspan></text>
<defs><clipPath id="clip673"><rect x="3139" y="673" width="633" height="392"/></clipPath></defs>
<line x1="3209.3" y1="673.0" x2="3209.3" y2="1065.0" stroke="#C4C4C4" stroke-width="2" />
<line x1="3279.7" y1="673.0" x2="3279.7" y2="1065.0" stroke="#C4C4C4" stroke-width="2" />
<line x1="3350.0" y1="673.0" x2="3350.0" y2="1065.0" stroke="#C4C4C4" stroke-width="2" />
<line x1="3420.3" y1="673.0" x2="3420.3" y2="1065.0" stroke="#C4C4C4" stroke-width="2" />
<line x1="3490.7" y1="673.0" x2="3490.7" y2="1065.0" stroke="#C4C4C4" stroke-width="2" />
<line x1="3561.0" y1="673.0" x2="3561.0" y2="1065.0" stroke="#C4C4C4" stroke-width="2" />
<line x1="3631.3" y1="673.0" x2="3631.3" y2="1065.0" stroke="#C4C4C4" stroke-width="2" />
<line x1="3701.7" y1="673.0" x2="3701.7" y2="1065.0" stroke="#C4C4C4" stroke-width="2" />
<line x1="3139.0" y1="999.7" x2="3772.0" y2="999.7" stroke="#C4C4C4" stroke-width="2" />
<line x1="3139.0" y1="934.3" x2="3772.0" y2="934.3" stroke="#C4C4C4" stroke-width="2" />
<line x1="3139.0" y1="869.0" x2="3772.0" y2="869.0" stroke="#C4C4C4" stroke-width="2" />
<line x1="3139.0" y1="803.7" x2="3772.0" y2="803.7" stroke="#C4C4C4" stroke-width="2" />
<line x1="3139.0" y1="738.3" x2="3772.0" y2="738.3" stroke="#C4C4C4" stroke-width="2" />
<line x1="3139.0" y1="695.2" x2="3772.0" y2="695.2" stroke="#A31F34" stroke-width="2.5" stroke-dasharray="11 7"/>
<line x1="3139.0" y1="1065.0" x2="3139.0" y2="1052.0" stroke="#000" stroke-width="2.2" />
<line x1="3139.0" y1="673.0" x2="3139.0" y2="686.0" stroke="#000" stroke-width="2.2" />
<line x1="3153.1" y1="1065.0" x2="3153.1" y2="1058.0" stroke="#000" stroke-width="2.2" />
<line x1="3153.1" y1="673.0" x2="3153.1" y2="680.0" stroke="#000" stroke-width="2.2" />
<line x1="3167.1" y1="1065.0" x2="3167.1" y2="1058.0" stroke="#000" stroke-width="2.2" />
<line x1="3167.1" y1="673.0" x2="3167.1" y2="680.0" stroke="#000" stroke-width="2.2" />
<line x1="3181.2" y1="1065.0" x2="3181.2" y2="1058.0" stroke="#000" stroke-width="2.2" />
<line x1="3181.2" y1="673.0" x2="3181.2" y2="680.0" stroke="#000" stroke-width="2.2" />
<line x1="3195.3" y1="1065.0" x2="3195.3" y2="1058.0" stroke="#000" stroke-width="2.2" />
<line x1="3195.3" y1="673.0" x2="3195.3" y2="680.0" stroke="#000" stroke-width="2.2" />
<line x1="3209.3" y1="1065.0" x2="3209.3" y2="1052.0" stroke="#000" stroke-width="2.2" />
<line x1="3209.3" y1="673.0" x2="3209.3" y2="686.0" stroke="#000" stroke-width="2.2" />
<line x1="3223.4" y1="1065.0" x2="3223.4" y2="1058.0" stroke="#000" stroke-width="2.2" />
<line x1="3223.4" y1="673.0" x2="3223.4" y2="680.0" stroke="#000" stroke-width="2.2" />
<line x1="3237.5" y1="1065.0" x2="3237.5" y2="1058.0" stroke="#000" stroke-width="2.2" />
<line x1="3237.5" y1="673.0" x2="3237.5" y2="680.0" stroke="#000" stroke-width="2.2" />
<line x1="3251.5" y1="1065.0" x2="3251.5" y2="1058.0" stroke="#000" stroke-width="2.2" />
<line x1="3251.5" y1="673.0" x2="3251.5" y2="680.0" stroke="#000" stroke-width="2.2" />
<line x1="3265.6" y1="1065.0" x2="3265.6" y2="1058.0" stroke="#000" stroke-width="2.2" />
<line x1="3265.6" y1="673.0" x2="3265.6" y2="680.0" stroke="#000" stroke-width="2.2" />
<line x1="3279.7" y1="1065.0" x2="3279.7" y2="1052.0" stroke="#000" stroke-width="2.2" />
<line x1="3279.7" y1="673.0" x2="3279.7" y2="686.0" stroke="#000" stroke-width="2.2" />
<line x1="3293.7" y1="1065.0" x2="3293.7" y2="1058.0" stroke="#000" stroke-width="2.2" />
<line x1="3293.7" y1="673.0" x2="3293.7" y2="680.0" stroke="#000" stroke-width="2.2" />
<line x1="3307.8" y1="1065.0" x2="3307.8" y2="1058.0" stroke="#000" stroke-width="2.2" />
<line x1="3307.8" y1="673.0" x2="3307.8" y2="680.0" stroke="#000" stroke-width="2.2" />
<line x1="3321.9" y1="1065.0" x2="3321.9" y2="1058.0" stroke="#000" stroke-width="2.2" />
<line x1="3321.9" y1="673.0" x2="3321.9" y2="680.0" stroke="#000" stroke-width="2.2" />
<line x1="3335.9" y1="1065.0" x2="3335.9" y2="1058.0" stroke="#000" stroke-width="2.2" />
<line x1="3335.9" y1="673.0" x2="3335.9" y2="680.0" stroke="#000" stroke-width="2.2" />
<line x1="3350.0" y1="1065.0" x2="3350.0" y2="1052.0" stroke="#000" stroke-width="2.2" />
<line x1="3350.0" y1="673.0" x2="3350.0" y2="686.0" stroke="#000" stroke-width="2.2" />
<line x1="3364.1" y1="1065.0" x2="3364.1" y2="1058.0" stroke="#000" stroke-width="2.2" />
<line x1="3364.1" y1="673.0" x2="3364.1" y2="680.0" stroke="#000" stroke-width="2.2" />
<line x1="3378.1" y1="1065.0" x2="3378.1" y2="1058.0" stroke="#000" stroke-width="2.2" />
<line x1="3378.1" y1="673.0" x2="3378.1" y2="680.0" stroke="#000" stroke-width="2.2" />
<line x1="3392.2" y1="1065.0" x2="3392.2" y2="1058.0" stroke="#000" stroke-width="2.2" />
<line x1="3392.2" y1="673.0" x2="3392.2" y2="680.0" stroke="#000" stroke-width="2.2" />
<line x1="3406.3" y1="1065.0" x2="3406.3" y2="1058.0" stroke="#000" stroke-width="2.2" />
<line x1="3406.3" y1="673.0" x2="3406.3" y2="680.0" stroke="#000" stroke-width="2.2" />
<line x1="3420.3" y1="1065.0" x2="3420.3" y2="1052.0" stroke="#000" stroke-width="2.2" />
<line x1="3420.3" y1="673.0" x2="3420.3" y2="686.0" stroke="#000" stroke-width="2.2" />
<line x1="3434.4" y1="1065.0" x2="3434.4" y2="1058.0" stroke="#000" stroke-width="2.2" />
<line x1="3434.4" y1="673.0" x2="3434.4" y2="680.0" stroke="#000" stroke-width="2.2" />
<line x1="3448.5" y1="1065.0" x2="3448.5" y2="1058.0" stroke="#000" stroke-width="2.2" />
<line x1="3448.5" y1="673.0" x2="3448.5" y2="680.0" stroke="#000" stroke-width="2.2" />
<line x1="3462.5" y1="1065.0" x2="3462.5" y2="1058.0" stroke="#000" stroke-width="2.2" />
<line x1="3462.5" y1="673.0" x2="3462.5" y2="680.0" stroke="#000" stroke-width="2.2" />
<line x1="3476.6" y1="1065.0" x2="3476.6" y2="1058.0" stroke="#000" stroke-width="2.2" />
<line x1="3476.6" y1="673.0" x2="3476.6" y2="680.0" stroke="#000" stroke-width="2.2" />
<line x1="3490.7" y1="1065.0" x2="3490.7" y2="1052.0" stroke="#000" stroke-width="2.2" />
<line x1="3490.7" y1="673.0" x2="3490.7" y2="686.0" stroke="#000" stroke-width="2.2" />
<line x1="3504.7" y1="1065.0" x2="3504.7" y2="1058.0" stroke="#000" stroke-width="2.2" />
<line x1="3504.7" y1="673.0" x2="3504.7" y2="680.0" stroke="#000" stroke-width="2.2" />
<line x1="3518.8" y1="1065.0" x2="3518.8" y2="1058.0" stroke="#000" stroke-width="2.2" />
<line x1="3518.8" y1="673.0" x2="3518.8" y2="680.0" stroke="#000" stroke-width="2.2" />
<line x1="3532.9" y1="1065.0" x2="3532.9" y2="1058.0" stroke="#000" stroke-width="2.2" />
<line x1="3532.9" y1="673.0" x2="3532.9" y2="680.0" stroke="#000" stroke-width="2.2" />
<line x1="3546.9" y1="1065.0" x2="3546.9" y2="1058.0" stroke="#000" stroke-width="2.2" />
<line x1="3546.9" y1="673.0" x2="3546.9" y2="680.0" stroke="#000" stroke-width="2.2" />
<line x1="3561.0" y1="1065.0" x2="3561.0" y2="1052.0" stroke="#000" stroke-width="2.2" />
<line x1="3561.0" y1="673.0" x2="3561.0" y2="686.0" stroke="#000" stroke-width="2.2" />
<line x1="3575.1" y1="1065.0" x2="3575.1" y2="1058.0" stroke="#000" stroke-width="2.2" />
<line x1="3575.1" y1="673.0" x2="3575.1" y2="680.0" stroke="#000" stroke-width="2.2" />
<line x1="3589.1" y1="1065.0" x2="3589.1" y2="1058.0" stroke="#000" stroke-width="2.2" />
<line x1="3589.1" y1="673.0" x2="3589.1" y2="680.0" stroke="#000" stroke-width="2.2" />
<line x1="3603.2" y1="1065.0" x2="3603.2" y2="1058.0" stroke="#000" stroke-width="2.2" />
<line x1="3603.2" y1="673.0" x2="3603.2" y2="680.0" stroke="#000" stroke-width="2.2" />
<line x1="3617.3" y1="1065.0" x2="3617.3" y2="1058.0" stroke="#000" stroke-width="2.2" />
<line x1="3617.3" y1="673.0" x2="3617.3" y2="680.0" stroke="#000" stroke-width="2.2" />
<line x1="3631.3" y1="1065.0" x2="3631.3" y2="1052.0" stroke="#000" stroke-width="2.2" />
<line x1="3631.3" y1="673.0" x2="3631.3" y2="686.0" stroke="#000" stroke-width="2.2" />
<line x1="3645.4" y1="1065.0" x2="3645.4" y2="1058.0" stroke="#000" stroke-width="2.2" />
<line x1="3645.4" y1="673.0" x2="3645.4" y2="680.0" stroke="#000" stroke-width="2.2" />
<line x1="3659.5" y1="1065.0" x2="3659.5" y2="1058.0" stroke="#000" stroke-width="2.2" />
<line x1="3659.5" y1="673.0" x2="3659.5" y2="680.0" stroke="#000" stroke-width="2.2" />
<line x1="3673.5" y1="1065.0" x2="3673.5" y2="1058.0" stroke="#000" stroke-width="2.2" />
<line x1="3673.5" y1="673.0" x2="3673.5" y2="680.0" stroke="#000" stroke-width="2.2" />
<line x1="3687.6" y1="1065.0" x2="3687.6" y2="1058.0" stroke="#000" stroke-width="2.2" />
<line x1="3687.6" y1="673.0" x2="3687.6" y2="680.0" stroke="#000" stroke-width="2.2" />
<line x1="3701.7" y1="1065.0" x2="3701.7" y2="1052.0" stroke="#000" stroke-width="2.2" />
<line x1="3701.7" y1="673.0" x2="3701.7" y2="686.0" stroke="#000" stroke-width="2.2" />
<line x1="3715.7" y1="1065.0" x2="3715.7" y2="1058.0" stroke="#000" stroke-width="2.2" />
<line x1="3715.7" y1="673.0" x2="3715.7" y2="680.0" stroke="#000" stroke-width="2.2" />
<line x1="3729.8" y1="1065.0" x2="3729.8" y2="1058.0" stroke="#000" stroke-width="2.2" />
<line x1="3729.8" y1="673.0" x2="3729.8" y2="680.0" stroke="#000" stroke-width="2.2" />
<line x1="3743.9" y1="1065.0" x2="3743.9" y2="1058.0" stroke="#000" stroke-width="2.2" />
<line x1="3743.9" y1="673.0" x2="3743.9" y2="680.0" stroke="#000" stroke-width="2.2" />
<line x1="3757.9" y1="1065.0" x2="3757.9" y2="1058.0" stroke="#000" stroke-width="2.2" />
<line x1="3757.9" y1="673.0" x2="3757.9" y2="680.0" stroke="#000" stroke-width="2.2" />
<line x1="3772.0" y1="1065.0" x2="3772.0" y2="1052.0" stroke="#000" stroke-width="2.2" />
<line x1="3772.0" y1="673.0" x2="3772.0" y2="686.0" stroke="#000" stroke-width="2.2" />
<line x1="3139.0" y1="1065.0" x2="3152.0" y2="1065.0" stroke="#000" stroke-width="2.2" />
<line x1="3772.0" y1="1065.0" x2="3759.0" y2="1065.0" stroke="#000" stroke-width="2.2" />
<line x1="3139.0" y1="1051.9" x2="3146.0" y2="1051.9" stroke="#000" stroke-width="2.2" />
<line x1="3772.0" y1="1051.9" x2="3765.0" y2="1051.9" stroke="#000" stroke-width="2.2" />
<line x1="3139.0" y1="1038.9" x2="3146.0" y2="1038.9" stroke="#000" stroke-width="2.2" />
<line x1="3772.0" y1="1038.9" x2="3765.0" y2="1038.9" stroke="#000" stroke-width="2.2" />
<line x1="3139.0" y1="1025.8" x2="3146.0" y2="1025.8" stroke="#000" stroke-width="2.2" />
<line x1="3772.0" y1="1025.8" x2="3765.0" y2="1025.8" stroke="#000" stroke-width="2.2" />
<line x1="3139.0" y1="1012.7" x2="3146.0" y2="1012.7" stroke="#000" stroke-width="2.2" />
<line x1="3772.0" y1="1012.7" x2="3765.0" y2="1012.7" stroke="#000" stroke-width="2.2" />
<line x1="3139.0" y1="999.7" x2="3152.0" y2="999.7" stroke="#000" stroke-width="2.2" />
<line x1="3772.0" y1="999.7" x2="3759.0" y2="999.7" stroke="#000" stroke-width="2.2" />
<line x1="3139.0" y1="986.6" x2="3146.0" y2="986.6" stroke="#000" stroke-width="2.2" />
<line x1="3772.0" y1="986.6" x2="3765.0" y2="986.6" stroke="#000" stroke-width="2.2" />
<line x1="3139.0" y1="973.5" x2="3146.0" y2="973.5" stroke="#000" stroke-width="2.2" />
<line x1="3772.0" y1="973.5" x2="3765.0" y2="973.5" stroke="#000" stroke-width="2.2" />
<line x1="3139.0" y1="960.5" x2="3146.0" y2="960.5" stroke="#000" stroke-width="2.2" />
<line x1="3772.0" y1="960.5" x2="3765.0" y2="960.5" stroke="#000" stroke-width="2.2" />
<line x1="3139.0" y1="947.4" x2="3146.0" y2="947.4" stroke="#000" stroke-width="2.2" />
<line x1="3772.0" y1="947.4" x2="3765.0" y2="947.4" stroke="#000" stroke-width="2.2" />
<line x1="3139.0" y1="934.3" x2="3152.0" y2="934.3" stroke="#000" stroke-width="2.2" />
<line x1="3772.0" y1="934.3" x2="3759.0" y2="934.3" stroke="#000" stroke-width="2.2" />
<line x1="3139.0" y1="921.3" x2="3146.0" y2="921.3" stroke="#000" stroke-width="2.2" />
<line x1="3772.0" y1="921.3" x2="3765.0" y2="921.3" stroke="#000" stroke-width="2.2" />
<line x1="3139.0" y1="908.2" x2="3146.0" y2="908.2" stroke="#000" stroke-width="2.2" />
<line x1="3772.0" y1="908.2" x2="3765.0" y2="908.2" stroke="#000" stroke-width="2.2" />
<line x1="3139.0" y1="895.1" x2="3146.0" y2="895.1" stroke="#000" stroke-width="2.2" />
<line x1="3772.0" y1="895.1" x2="3765.0" y2="895.1" stroke="#000" stroke-width="2.2" />
<line x1="3139.0" y1="882.1" x2="3146.0" y2="882.1" stroke="#000" stroke-width="2.2" />
<line x1="3772.0" y1="882.1" x2="3765.0" y2="882.1" stroke="#000" stroke-width="2.2" />
<line x1="3139.0" y1="869.0" x2="3152.0" y2="869.0" stroke="#000" stroke-width="2.2" />
<line x1="3772.0" y1="869.0" x2="3759.0" y2="869.0" stroke="#000" stroke-width="2.2" />
<line x1="3139.0" y1="855.9" x2="3146.0" y2="855.9" stroke="#000" stroke-width="2.2" />
<line x1="3772.0" y1="855.9" x2="3765.0" y2="855.9" stroke="#000" stroke-width="2.2" />
<line x1="3139.0" y1="842.9" x2="3146.0" y2="842.9" stroke="#000" stroke-width="2.2" />
<line x1="3772.0" y1="842.9" x2="3765.0" y2="842.9" stroke="#000" stroke-width="2.2" />
<line x1="3139.0" y1="829.8" x2="3146.0" y2="829.8" stroke="#000" stroke-width="2.2" />
<line x1="3772.0" y1="829.8" x2="3765.0" y2="829.8" stroke="#000" stroke-width="2.2" />
<line x1="3139.0" y1="816.7" x2="3146.0" y2="816.7" stroke="#000" stroke-width="2.2" />
<line x1="3772.0" y1="816.7" x2="3765.0" y2="816.7" stroke="#000" stroke-width="2.2" />
<line x1="3139.0" y1="803.7" x2="3152.0" y2="803.7" stroke="#000" stroke-width="2.2" />
<line x1="3772.0" y1="803.7" x2="3759.0" y2="803.7" stroke="#000" stroke-width="2.2" />
<line x1="3139.0" y1="790.6" x2="3146.0" y2="790.6" stroke="#000" stroke-width="2.2" />
<line x1="3772.0" y1="790.6" x2="3765.0" y2="790.6" stroke="#000" stroke-width="2.2" />
<line x1="3139.0" y1="777.5" x2="3146.0" y2="777.5" stroke="#000" stroke-width="2.2" />
<line x1="3772.0" y1="777.5" x2="3765.0" y2="777.5" stroke="#000" stroke-width="2.2" />
<line x1="3139.0" y1="764.5" x2="3146.0" y2="764.5" stroke="#000" stroke-width="2.2" />
<line x1="3772.0" y1="764.5" x2="3765.0" y2="764.5" stroke="#000" stroke-width="2.2" />
<line x1="3139.0" y1="751.4" x2="3146.0" y2="751.4" stroke="#000" stroke-width="2.2" />
<line x1="3772.0" y1="751.4" x2="3765.0" y2="751.4" stroke="#000" stroke-width="2.2" />
<line x1="3139.0" y1="738.3" x2="3152.0" y2="738.3" stroke="#000" stroke-width="2.2" />
<line x1="3772.0" y1="738.3" x2="3759.0" y2="738.3" stroke="#000" stroke-width="2.2" />
<line x1="3139.0" y1="725.3" x2="3146.0" y2="725.3" stroke="#000" stroke-width="2.2" />
<line x1="3772.0" y1="725.3" x2="3765.0" y2="725.3" stroke="#000" stroke-width="2.2" />
<line x1="3139.0" y1="712.2" x2="3146.0" y2="712.2" stroke="#000" stroke-width="2.2" />
<line x1="3772.0" y1="712.2" x2="3765.0" y2="712.2" stroke="#000" stroke-width="2.2" />
<line x1="3139.0" y1="699.1" x2="3146.0" y2="699.1" stroke="#000" stroke-width="2.2" />
<line x1="3772.0" y1="699.1" x2="3765.0" y2="699.1" stroke="#000" stroke-width="2.2" />
<line x1="3139.0" y1="686.1" x2="3146.0" y2="686.1" stroke="#000" stroke-width="2.2" />
<line x1="3772.0" y1="686.1" x2="3765.0" y2="686.1" stroke="#000" stroke-width="2.2" />
<line x1="3139.0" y1="673.0" x2="3152.0" y2="673.0" stroke="#000" stroke-width="2.2" />
<line x1="3772.0" y1="673.0" x2="3759.0" y2="673.0" stroke="#000" stroke-width="2.2" />
<g clip-path="url(#clip673)">
<circle cx="3181.2" cy="1009.5" r="2.5" fill="#F4875C" fill-opacity="0.82"/>
<circle cx="3199.5" cy="1016.0" r="2.5" fill="#F4875C" fill-opacity="0.82"/>
<circle cx="3192.5" cy="983.3" r="2.5" fill="#F4875C" fill-opacity="0.82"/>
<circle cx="3199.5" cy="963.7" r="2.5" fill="#F4875C" fill-opacity="0.82"/>
<circle cx="3203.7" cy="960.5" r="2.5" fill="#F4875C" fill-opacity="0.82"/>
<circle cx="3199.5" cy="940.9" r="3.0" fill="#F4875C" fill-opacity="0.82"/>
<circle cx="3212.1" cy="944.1" r="3.0" fill="#F4875C" fill-opacity="0.82"/>
<circle cx="3206.5" cy="914.7" r="3.0" fill="#F4875C" fill-opacity="0.82"/>
<circle cx="3213.6" cy="920.0" r="3.0" fill="#F4875C" fill-opacity="0.82"/>
<circle cx="3216.4" cy="931.1" r="3.0" fill="#F4875C" fill-opacity="0.82"/>
<circle cx="3216.4" cy="1032.3" r="3.0" fill="#F4875C" fill-opacity="0.82"/>
<circle cx="3245.9" cy="895.1" r="4.5" fill="#F4875C" fill-opacity="0.82"/>
<circle cx="3244.5" cy="901.7" r="4.5" fill="#F4875C" fill-opacity="0.82"/>
<circle cx="3251.5" cy="918.0" r="4.5" fill="#F4875C" fill-opacity="0.82"/>
<circle cx="3252.9" cy="921.3" r="4.5" fill="#F4875C" fill-opacity="0.82"/>
<circle cx="3257.2" cy="880.8" r="4.5" fill="#F4875C" fill-opacity="0.82"/>
<circle cx="3241.7" cy="908.2" r="4.5" fill="#F4875C" fill-opacity="0.82"/>
<circle cx="3245.9" cy="950.7" r="4.5" fill="#F4875C" fill-opacity="0.82"/>
<circle cx="3243.1" cy="960.5" r="4.5" fill="#F4875C" fill-opacity="0.82"/>
<circle cx="3268.4" cy="957.2" r="5.0" fill="#F4875C" fill-opacity="0.82"/>
<circle cx="3244.5" cy="898.4" r="4.5" fill="#F4875C" fill-opacity="0.82"/>
<circle cx="3290.9" cy="823.3" r="6.5" fill="#F4875C" fill-opacity="0.82"/>
<circle cx="3307.8" cy="828.5" r="6.5" fill="#F4875C" fill-opacity="0.82"/>
<circle cx="3276.9" cy="838.3" r="6.5" fill="#F4875C" fill-opacity="0.82"/>
<circle cx="3298.0" cy="842.9" r="6.5" fill="#F4875C" fill-opacity="0.82"/>
<circle cx="3306.4" cy="862.5" r="6.5" fill="#F4875C" fill-opacity="0.82"/>
<circle cx="3303.6" cy="865.7" r="6.5" fill="#F4875C" fill-opacity="0.82"/>
<circle cx="3312.0" cy="875.5" r="6.5" fill="#F4875C" fill-opacity="0.82"/>
<circle cx="3299.4" cy="882.1" r="6.5" fill="#F4875C" fill-opacity="0.82"/>
<circle cx="3316.2" cy="888.6" r="6.5" fill="#F4875C" fill-opacity="0.82"/>
<circle cx="3285.3" cy="898.4" r="6.5" fill="#F4875C" fill-opacity="0.82"/>
<circle cx="3309.2" cy="826.5" r="6.5" fill="#F4875C" fill-opacity="0.82"/>
<circle cx="3357.0" cy="808.9" r="9.0" fill="#F4875C" fill-opacity="0.82"/>
<circle cx="3364.1" cy="826.5" r="9.0" fill="#F4875C" fill-opacity="0.82"/>
<circle cx="3371.1" cy="829.8" r="9.0" fill="#F4875C" fill-opacity="0.82"/>
<circle cx="3380.9" cy="800.4" r="9.0" fill="#F4875C" fill-opacity="0.82"/>
<circle cx="3383.8" cy="820.0" r="9.0" fill="#F4875C" fill-opacity="0.82"/>
<circle cx="3390.8" cy="823.3" r="9.0" fill="#F4875C" fill-opacity="0.82"/>
<circle cx="3369.7" cy="842.9" r="9.0" fill="#F4875C" fill-opacity="0.82"/>
<circle cx="3371.1" cy="875.5" r="9.0" fill="#F4875C" fill-opacity="0.82"/>
<circle cx="3350.0" cy="940.9" r="9.0" fill="#F4875C" fill-opacity="0.82"/>
<circle cx="3386.6" cy="769.7" r="9.0" fill="#F4875C" fill-opacity="0.82"/>
<circle cx="3451.3" cy="695.2" r="39.0" fill="#A31F34" fill-opacity="0.8"/>
<path d="M3205.1,973.5 L3265.6,869.0 L3307.8,846.1 L3400.6,793.9 L3735.4,722.0" fill="none" stroke="#B57AD6" stroke-width="3"/>
<circle cx="3205.1" cy="973.5" r="2.5" fill="#B57AD6" fill-opacity="0.85"/>
<circle cx="3265.6" cy="869.0" r="4.0" fill="#B57AD6" fill-opacity="0.85"/>
<circle cx="3307.8" cy="846.1" r="6.0" fill="#B57AD6" fill-opacity="0.85"/>
<circle cx="3400.6" cy="793.9" r="10.0" fill="#B57AD6" fill-opacity="0.85"/>
<circle cx="3735.4" cy="722.0" r="14.0" fill="#B57AD6" fill-opacity="0.85"/>
<path d="M3202.3,993.1 L3237.5,918.0 L3303.6,833.1 L3386.6,771.0 L3535.7,751.4" fill="none" stroke="#3A83C3" stroke-width="3"/>
<circle cx="3202.3" cy="993.1" r="2.5" fill="#3A83C3" fill-opacity="0.9"/>
<circle cx="3237.5" cy="918.0" r="4.0" fill="#3A83C3" fill-opacity="0.9"/>
<circle cx="3303.6" cy="833.1" r="7.0" fill="#3A83C3" fill-opacity="0.9"/>
<circle cx="3386.6" cy="771.0" r="10.0" fill="#3A83C3" fill-opacity="0.9"/>
<circle cx="3535.7" cy="751.4" r="14.0" fill="#3A83C3" fill-opacity="0.9"/>
<path d="M3223.4,836.3 L3307.8,789.3 L3392.2,747.5" fill="none" stroke="#2CA25F" stroke-width="3"/>
<circle cx="3223.4" cy="836.3" r="5.0" fill="#2CA25F" fill-opacity="0.9"/>
<circle cx="3307.8" cy="789.3" r="7.0" fill="#2CA25F" fill-opacity="0.9"/>
<circle cx="3392.2" cy="747.5" r="11.0" fill="#2CA25F" fill-opacity="0.9"/>
</g>
<rect x="3139.0" y="673.0" width="633.0" height="392.0" fill="none" stroke="#000" stroke-width="4"/>
<text x="3120.0" y="1077.5" font-size="37.5" class="R" text-anchor="end">82.5</text>
<text x="3120.0" y="1012.2" font-size="37.5" class="R" text-anchor="end">83.5</text>
<text x="3120.0" y="946.8" font-size="37.5" class="R" text-anchor="end">84.5</text>
<text x="3120.0" y="881.5" font-size="37.5" class="R" text-anchor="end">85.5</text>
<text x="3120.0" y="816.2" font-size="37.5" class="R" text-anchor="end">86.5</text>
<text x="3120.0" y="750.8" font-size="37.5" class="R" text-anchor="end">87.5</text>
<text x="3120.0" y="685.5" font-size="37.5" class="R" text-anchor="end">88.5</text>
<text x="3139.0" y="1107.0" font-size="37.5" class="R" text-anchor="middle">30</text>
<text x="3209.3" y="1107.0" font-size="37.5" class="R" text-anchor="middle">35</text>
<text x="3279.7" y="1107.0" font-size="37.5" class="R" text-anchor="middle">40</text>
<text x="3350.0" y="1107.0" font-size="37.5" class="R" text-anchor="middle">45</text>
<text x="3420.3" y="1107.0" font-size="37.5" class="R" text-anchor="middle">50</text>
<text x="3490.7" y="1107.0" font-size="37.5" class="R" text-anchor="middle">55</text>
<text x="3561.0" y="1107.0" font-size="37.5" class="R" text-anchor="middle">60</text>
<text x="3631.3" y="1107.0" font-size="37.5" class="R" text-anchor="middle">65</text>
<text x="3701.7" y="1107.0" font-size="37.5" class="R" text-anchor="middle">70</text>
<text x="3772.0" y="1107.0" font-size="37.5" class="R" text-anchor="middle">75</text>
<text x="3052.0" y="715.0" font-size="33" fill="#A31F34" textLength="82" lengthAdjust="spacingAndGlyphs">88.16</text>
<rect x="3477.0" y="880.0" width="268.0" height="161.0" fill="#fff" stroke="#000" stroke-width="3"/>
<circle cx="3495.0" cy="902.5" r="10.0" fill="#2CA25F" fill-opacity="0.9"/>
<text x="3513.0" y="911.5" font-size="24.5" font-weight="bold">Ours</text>
<circle cx="3495.0" cy="931.5" r="10.0" fill="#3A83C3" fill-opacity="0.9"/>
<text x="3513.0" y="940.5" font-size="24.5">SR-Manual</text>
<circle cx="3495.0" cy="960.5" r="10.0" fill="#B57AD6" fill-opacity="0.9"/>
<text x="3513.0" y="969.5" font-size="24.5">S(Ours)-R(TensorLy)</text>
<circle cx="3495.0" cy="989.5" r="10.0" fill="#F4875C" fill-opacity="0.9"/>
<text x="3513.0" y="998.5" font-size="24.5">S(Ours)-R(Random)</text>
<circle cx="3495.0" cy="1018.5" r="10.0" fill="#A31F34" fill-opacity="0.9"/>
<text x="3513.0" y="1027.5" font-size="24.5">Original Bert-base</text>
<text x="3611.0" y="874.0" font-size="31" font-weight="bold" text-anchor="middle">TTM</text>
<text x="3140.0" y="590.0" font-size="27.5" textLength="167" lengthAdjust="spacingAndGlyphs">#Params (M)</text>
<text x="3351.0" y="590.0" font-size="26.5" text-anchor="middle">36</text>
<circle cx="3356.0" cy="633.0" r="2.0" fill="#3A83C3"/>
<text x="3406.0" y="590.0" font-size="26.5" text-anchor="middle">42</text>
<circle cx="3408.0" cy="633.0" r="6.0" fill="#2CA25F"/>
<text x="3460.0" y="590.0" font-size="26.5" text-anchor="middle">46</text>
<circle cx="3461.0" cy="633.0" r="8.5" fill="#2CA25F"/>
<text x="3515.0" y="590.0" font-size="26.5" text-anchor="middle">55</text>
<circle cx="3515.0" cy="633.0" r="12.0" fill="#2CA25F"/>
<text x="3572.0" y="590.0" font-size="26.5" text-anchor="middle">61</text>
<circle cx="3574.0" cy="633.0" r="16.0" fill="#B57AD6"/>
<text x="3657.0" y="590.0" font-size="26.5" text-anchor="middle">109</text>
<circle cx="3658.0" cy="633.0" r="37.0" fill="#A31F34"/>
<text x="3196.0" y="826.0" font-size="31" fill="#2CA25F" font-weight="bold">a1</text>
<text x="3277.0" y="779.0" font-size="31" fill="#2CA25F" font-weight="bold">a2</text>
<text x="3361.0" y="732.0" font-size="31" fill="#2CA25F" font-weight="bold">a3</text>
<text x="3452.0" y="1154.0" font-size="43" text-anchor="middle"><tspan >EDP </tspan><tspan class="R">(</tspan><tspan font-style="italic" class="R">μJ</tspan><tspan class="R"> · </tspan><tspan font-style="italic" class="R">s</tspan><tspan class="R">)</tspan></text>
<text x="3040.0" y="869.0" font-size="39" text-anchor="middle" transform="rotate(-90 3040 869.0)">F1 Score (%)</text>
<defs><clipPath id="clip1291"><rect x="3141" y="1291" width="628" height="390"/></clipPath></defs>
<line x1="3230.7" y1="1291.0" x2="3230.7" y2="1681.0" stroke="#C4C4C4" stroke-width="2" />
<line x1="3320.4" y1="1291.0" x2="3320.4" y2="1681.0" stroke="#C4C4C4" stroke-width="2" />
<line x1="3410.1" y1="1291.0" x2="3410.1" y2="1681.0" stroke="#C4C4C4" stroke-width="2" />
<line x1="3499.9" y1="1291.0" x2="3499.9" y2="1681.0" stroke="#C4C4C4" stroke-width="2" />
<line x1="3589.6" y1="1291.0" x2="3589.6" y2="1681.0" stroke="#C4C4C4" stroke-width="2" />
<line x1="3679.3" y1="1291.0" x2="3679.3" y2="1681.0" stroke="#C4C4C4" stroke-width="2" />
<line x1="3141.0" y1="1589.2" x2="3769.0" y2="1589.2" stroke="#C4C4C4" stroke-width="2" />
<line x1="3141.0" y1="1497.5" x2="3769.0" y2="1497.5" stroke="#C4C4C4" stroke-width="2" />
<line x1="3141.0" y1="1405.7" x2="3769.0" y2="1405.7" stroke="#C4C4C4" stroke-width="2" />
<line x1="3141.0" y1="1313.9" x2="3769.0" y2="1313.9" stroke="#C4C4C4" stroke-width="2" />
<line x1="3141.0" y1="1306.6" x2="3769.0" y2="1306.6" stroke="#A31F34" stroke-width="2.5" stroke-dasharray="11 7"/>
<line x1="3141.0" y1="1681.0" x2="3141.0" y2="1668.0" stroke="#000" stroke-width="2.2" />
<line x1="3141.0" y1="1291.0" x2="3141.0" y2="1304.0" stroke="#000" stroke-width="2.2" />
<line x1="3158.9" y1="1681.0" x2="3158.9" y2="1674.0" stroke="#000" stroke-width="2.2" />
<line x1="3158.9" y1="1291.0" x2="3158.9" y2="1298.0" stroke="#000" stroke-width="2.2" />
<line x1="3176.9" y1="1681.0" x2="3176.9" y2="1674.0" stroke="#000" stroke-width="2.2" />
<line x1="3176.9" y1="1291.0" x2="3176.9" y2="1298.0" stroke="#000" stroke-width="2.2" />
<line x1="3194.8" y1="1681.0" x2="3194.8" y2="1674.0" stroke="#000" stroke-width="2.2" />
<line x1="3194.8" y1="1291.0" x2="3194.8" y2="1298.0" stroke="#000" stroke-width="2.2" />
<line x1="3212.8" y1="1681.0" x2="3212.8" y2="1674.0" stroke="#000" stroke-width="2.2" />
<line x1="3212.8" y1="1291.0" x2="3212.8" y2="1298.0" stroke="#000" stroke-width="2.2" />
<line x1="3230.7" y1="1681.0" x2="3230.7" y2="1668.0" stroke="#000" stroke-width="2.2" />
<line x1="3230.7" y1="1291.0" x2="3230.7" y2="1304.0" stroke="#000" stroke-width="2.2" />
<line x1="3248.7" y1="1681.0" x2="3248.7" y2="1674.0" stroke="#000" stroke-width="2.2" />
<line x1="3248.7" y1="1291.0" x2="3248.7" y2="1298.0" stroke="#000" stroke-width="2.2" />
<line x1="3266.6" y1="1681.0" x2="3266.6" y2="1674.0" stroke="#000" stroke-width="2.2" />
<line x1="3266.6" y1="1291.0" x2="3266.6" y2="1298.0" stroke="#000" stroke-width="2.2" />
<line x1="3284.5" y1="1681.0" x2="3284.5" y2="1674.0" stroke="#000" stroke-width="2.2" />
<line x1="3284.5" y1="1291.0" x2="3284.5" y2="1298.0" stroke="#000" stroke-width="2.2" />
<line x1="3302.5" y1="1681.0" x2="3302.5" y2="1674.0" stroke="#000" stroke-width="2.2" />
<line x1="3302.5" y1="1291.0" x2="3302.5" y2="1298.0" stroke="#000" stroke-width="2.2" />
<line x1="3320.4" y1="1681.0" x2="3320.4" y2="1668.0" stroke="#000" stroke-width="2.2" />
<line x1="3320.4" y1="1291.0" x2="3320.4" y2="1304.0" stroke="#000" stroke-width="2.2" />
<line x1="3338.4" y1="1681.0" x2="3338.4" y2="1674.0" stroke="#000" stroke-width="2.2" />
<line x1="3338.4" y1="1291.0" x2="3338.4" y2="1298.0" stroke="#000" stroke-width="2.2" />
<line x1="3356.3" y1="1681.0" x2="3356.3" y2="1674.0" stroke="#000" stroke-width="2.2" />
<line x1="3356.3" y1="1291.0" x2="3356.3" y2="1298.0" stroke="#000" stroke-width="2.2" />
<line x1="3374.3" y1="1681.0" x2="3374.3" y2="1674.0" stroke="#000" stroke-width="2.2" />
<line x1="3374.3" y1="1291.0" x2="3374.3" y2="1298.0" stroke="#000" stroke-width="2.2" />
<line x1="3392.2" y1="1681.0" x2="3392.2" y2="1674.0" stroke="#000" stroke-width="2.2" />
<line x1="3392.2" y1="1291.0" x2="3392.2" y2="1298.0" stroke="#000" stroke-width="2.2" />
<line x1="3410.1" y1="1681.0" x2="3410.1" y2="1668.0" stroke="#000" stroke-width="2.2" />
<line x1="3410.1" y1="1291.0" x2="3410.1" y2="1304.0" stroke="#000" stroke-width="2.2" />
<line x1="3428.1" y1="1681.0" x2="3428.1" y2="1674.0" stroke="#000" stroke-width="2.2" />
<line x1="3428.1" y1="1291.0" x2="3428.1" y2="1298.0" stroke="#000" stroke-width="2.2" />
<line x1="3446.0" y1="1681.0" x2="3446.0" y2="1674.0" stroke="#000" stroke-width="2.2" />
<line x1="3446.0" y1="1291.0" x2="3446.0" y2="1298.0" stroke="#000" stroke-width="2.2" />
<line x1="3464.0" y1="1681.0" x2="3464.0" y2="1674.0" stroke="#000" stroke-width="2.2" />
<line x1="3464.0" y1="1291.0" x2="3464.0" y2="1298.0" stroke="#000" stroke-width="2.2" />
<line x1="3481.9" y1="1681.0" x2="3481.9" y2="1674.0" stroke="#000" stroke-width="2.2" />
<line x1="3481.9" y1="1291.0" x2="3481.9" y2="1298.0" stroke="#000" stroke-width="2.2" />
<line x1="3499.9" y1="1681.0" x2="3499.9" y2="1668.0" stroke="#000" stroke-width="2.2" />
<line x1="3499.9" y1="1291.0" x2="3499.9" y2="1304.0" stroke="#000" stroke-width="2.2" />
<line x1="3517.8" y1="1681.0" x2="3517.8" y2="1674.0" stroke="#000" stroke-width="2.2" />
<line x1="3517.8" y1="1291.0" x2="3517.8" y2="1298.0" stroke="#000" stroke-width="2.2" />
<line x1="3535.7" y1="1681.0" x2="3535.7" y2="1674.0" stroke="#000" stroke-width="2.2" />
<line x1="3535.7" y1="1291.0" x2="3535.7" y2="1298.0" stroke="#000" stroke-width="2.2" />
<line x1="3553.7" y1="1681.0" x2="3553.7" y2="1674.0" stroke="#000" stroke-width="2.2" />
<line x1="3553.7" y1="1291.0" x2="3553.7" y2="1298.0" stroke="#000" stroke-width="2.2" />
<line x1="3571.6" y1="1681.0" x2="3571.6" y2="1674.0" stroke="#000" stroke-width="2.2" />
<line x1="3571.6" y1="1291.0" x2="3571.6" y2="1298.0" stroke="#000" stroke-width="2.2" />
<line x1="3589.6" y1="1681.0" x2="3589.6" y2="1668.0" stroke="#000" stroke-width="2.2" />
<line x1="3589.6" y1="1291.0" x2="3589.6" y2="1304.0" stroke="#000" stroke-width="2.2" />
<line x1="3607.5" y1="1681.0" x2="3607.5" y2="1674.0" stroke="#000" stroke-width="2.2" />
<line x1="3607.5" y1="1291.0" x2="3607.5" y2="1298.0" stroke="#000" stroke-width="2.2" />
<line x1="3625.5" y1="1681.0" x2="3625.5" y2="1674.0" stroke="#000" stroke-width="2.2" />
<line x1="3625.5" y1="1291.0" x2="3625.5" y2="1298.0" stroke="#000" stroke-width="2.2" />
<line x1="3643.4" y1="1681.0" x2="3643.4" y2="1674.0" stroke="#000" stroke-width="2.2" />
<line x1="3643.4" y1="1291.0" x2="3643.4" y2="1298.0" stroke="#000" stroke-width="2.2" />
<line x1="3661.3" y1="1681.0" x2="3661.3" y2="1674.0" stroke="#000" stroke-width="2.2" />
<line x1="3661.3" y1="1291.0" x2="3661.3" y2="1298.0" stroke="#000" stroke-width="2.2" />
<line x1="3679.3" y1="1681.0" x2="3679.3" y2="1668.0" stroke="#000" stroke-width="2.2" />
<line x1="3679.3" y1="1291.0" x2="3679.3" y2="1304.0" stroke="#000" stroke-width="2.2" />
<line x1="3697.2" y1="1681.0" x2="3697.2" y2="1674.0" stroke="#000" stroke-width="2.2" />
<line x1="3697.2" y1="1291.0" x2="3697.2" y2="1298.0" stroke="#000" stroke-width="2.2" />
<line x1="3715.2" y1="1681.0" x2="3715.2" y2="1674.0" stroke="#000" stroke-width="2.2" />
<line x1="3715.2" y1="1291.0" x2="3715.2" y2="1298.0" stroke="#000" stroke-width="2.2" />
<line x1="3733.1" y1="1681.0" x2="3733.1" y2="1674.0" stroke="#000" stroke-width="2.2" />
<line x1="3733.1" y1="1291.0" x2="3733.1" y2="1298.0" stroke="#000" stroke-width="2.2" />
<line x1="3751.1" y1="1681.0" x2="3751.1" y2="1674.0" stroke="#000" stroke-width="2.2" />
<line x1="3751.1" y1="1291.0" x2="3751.1" y2="1298.0" stroke="#000" stroke-width="2.2" />
<line x1="3769.0" y1="1681.0" x2="3769.0" y2="1668.0" stroke="#000" stroke-width="2.2" />
<line x1="3769.0" y1="1291.0" x2="3769.0" y2="1304.0" stroke="#000" stroke-width="2.2" />
<line x1="3141.0" y1="1681.0" x2="3154.0" y2="1681.0" stroke="#000" stroke-width="2.2" />
<line x1="3769.0" y1="1681.0" x2="3756.0" y2="1681.0" stroke="#000" stroke-width="2.2" />
<line x1="3141.0" y1="1662.6" x2="3148.0" y2="1662.6" stroke="#000" stroke-width="2.2" />
<line x1="3769.0" y1="1662.6" x2="3762.0" y2="1662.6" stroke="#000" stroke-width="2.2" />
<line x1="3141.0" y1="1644.3" x2="3148.0" y2="1644.3" stroke="#000" stroke-width="2.2" />
<line x1="3769.0" y1="1644.3" x2="3762.0" y2="1644.3" stroke="#000" stroke-width="2.2" />
<line x1="3141.0" y1="1625.9" x2="3148.0" y2="1625.9" stroke="#000" stroke-width="2.2" />
<line x1="3769.0" y1="1625.9" x2="3762.0" y2="1625.9" stroke="#000" stroke-width="2.2" />
<line x1="3141.0" y1="1607.6" x2="3148.0" y2="1607.6" stroke="#000" stroke-width="2.2" />
<line x1="3769.0" y1="1607.6" x2="3762.0" y2="1607.6" stroke="#000" stroke-width="2.2" />
<line x1="3141.0" y1="1589.2" x2="3154.0" y2="1589.2" stroke="#000" stroke-width="2.2" />
<line x1="3769.0" y1="1589.2" x2="3756.0" y2="1589.2" stroke="#000" stroke-width="2.2" />
<line x1="3141.0" y1="1570.9" x2="3148.0" y2="1570.9" stroke="#000" stroke-width="2.2" />
<line x1="3769.0" y1="1570.9" x2="3762.0" y2="1570.9" stroke="#000" stroke-width="2.2" />
<line x1="3141.0" y1="1552.5" x2="3148.0" y2="1552.5" stroke="#000" stroke-width="2.2" />
<line x1="3769.0" y1="1552.5" x2="3762.0" y2="1552.5" stroke="#000" stroke-width="2.2" />
<line x1="3141.0" y1="1534.2" x2="3148.0" y2="1534.2" stroke="#000" stroke-width="2.2" />
<line x1="3769.0" y1="1534.2" x2="3762.0" y2="1534.2" stroke="#000" stroke-width="2.2" />
<line x1="3141.0" y1="1515.8" x2="3148.0" y2="1515.8" stroke="#000" stroke-width="2.2" />
<line x1="3769.0" y1="1515.8" x2="3762.0" y2="1515.8" stroke="#000" stroke-width="2.2" />
<line x1="3141.0" y1="1497.5" x2="3154.0" y2="1497.5" stroke="#000" stroke-width="2.2" />
<line x1="3769.0" y1="1497.5" x2="3756.0" y2="1497.5" stroke="#000" stroke-width="2.2" />
<line x1="3141.0" y1="1479.1" x2="3148.0" y2="1479.1" stroke="#000" stroke-width="2.2" />
<line x1="3769.0" y1="1479.1" x2="3762.0" y2="1479.1" stroke="#000" stroke-width="2.2" />
<line x1="3141.0" y1="1460.8" x2="3148.0" y2="1460.8" stroke="#000" stroke-width="2.2" />
<line x1="3769.0" y1="1460.8" x2="3762.0" y2="1460.8" stroke="#000" stroke-width="2.2" />
<line x1="3141.0" y1="1442.4" x2="3148.0" y2="1442.4" stroke="#000" stroke-width="2.2" />
<line x1="3769.0" y1="1442.4" x2="3762.0" y2="1442.4" stroke="#000" stroke-width="2.2" />
<line x1="3141.0" y1="1424.1" x2="3148.0" y2="1424.1" stroke="#000" stroke-width="2.2" />
<line x1="3769.0" y1="1424.1" x2="3762.0" y2="1424.1" stroke="#000" stroke-width="2.2" />
<line x1="3141.0" y1="1405.7" x2="3154.0" y2="1405.7" stroke="#000" stroke-width="2.2" />
<line x1="3769.0" y1="1405.7" x2="3756.0" y2="1405.7" stroke="#000" stroke-width="2.2" />
<line x1="3141.0" y1="1387.4" x2="3148.0" y2="1387.4" stroke="#000" stroke-width="2.2" />
<line x1="3769.0" y1="1387.4" x2="3762.0" y2="1387.4" stroke="#000" stroke-width="2.2" />
<line x1="3141.0" y1="1369.0" x2="3148.0" y2="1369.0" stroke="#000" stroke-width="2.2" />
<line x1="3769.0" y1="1369.0" x2="3762.0" y2="1369.0" stroke="#000" stroke-width="2.2" />
<line x1="3141.0" y1="1350.6" x2="3148.0" y2="1350.6" stroke="#000" stroke-width="2.2" />
<line x1="3769.0" y1="1350.6" x2="3762.0" y2="1350.6" stroke="#000" stroke-width="2.2" />
<line x1="3141.0" y1="1332.3" x2="3148.0" y2="1332.3" stroke="#000" stroke-width="2.2" />
<line x1="3769.0" y1="1332.3" x2="3762.0" y2="1332.3" stroke="#000" stroke-width="2.2" />
<line x1="3141.0" y1="1313.9" x2="3154.0" y2="1313.9" stroke="#000" stroke-width="2.2" />
<line x1="3769.0" y1="1313.9" x2="3756.0" y2="1313.9" stroke="#000" stroke-width="2.2" />
<line x1="3141.0" y1="1295.6" x2="3148.0" y2="1295.6" stroke="#000" stroke-width="2.2" />
<line x1="3769.0" y1="1295.6" x2="3762.0" y2="1295.6" stroke="#000" stroke-width="2.2" />
<g clip-path="url(#clip1291)">
<circle cx="3275.6" cy="1348.4" r="5.5" fill="#F4875C" fill-opacity="0.82"/>
<circle cx="3273.8" cy="1362.1" r="5.5" fill="#F4875C" fill-opacity="0.82"/>
<circle cx="3281.0" cy="1364.4" r="5.5" fill="#F4875C" fill-opacity="0.82"/>
<circle cx="3277.4" cy="1378.2" r="5.5" fill="#F4875C" fill-opacity="0.82"/>
<circle cx="3264.8" cy="1375.9" r="5.5" fill="#F4875C" fill-opacity="0.82"/>
<circle cx="3279.2" cy="1371.3" r="5.0" fill="#F4875C" fill-opacity="0.82"/>
<circle cx="3272.0" cy="1366.7" r="5.0" fill="#F4875C" fill-opacity="0.82"/>
<circle cx="3353.2" cy="1325.0" r="7.2" fill="#F4875C" fill-opacity="0.82"/>
<circle cx="3357.9" cy="1338.4" r="7.3" fill="#F4875C" fill-opacity="0.82"/>
<circle cx="3369.7" cy="1336.9" r="6.8" fill="#F4875C" fill-opacity="0.82"/>
<circle cx="3327.3" cy="1339.7" r="6.1" fill="#F4875C" fill-opacity="0.82"/>
<circle cx="3399.4" cy="1315.9" r="7.5" fill="#F4875C" fill-opacity="0.82"/>
<circle cx="3324.1" cy="1341.2" r="6.1" fill="#F4875C" fill-opacity="0.82"/>
<circle cx="3329.1" cy="1350.3" r="7.2" fill="#F4875C" fill-opacity="0.82"/>
<circle cx="3355.3" cy="1333.5" r="7.6" fill="#F4875C" fill-opacity="0.82"/>
<circle cx="3358.0" cy="1333.2" r="6.7" fill="#F4875C" fill-opacity="0.82"/>
<circle cx="3400.9" cy="1311.7" r="7.8" fill="#F4875C" fill-opacity="0.82"/>
<circle cx="3338.8" cy="1341.6" r="6.2" fill="#F4875C" fill-opacity="0.82"/>
<circle cx="3376.3" cy="1318.0" r="7.0" fill="#F4875C" fill-opacity="0.82"/>
<circle cx="3396.2" cy="1329.8" r="6.5" fill="#F4875C" fill-opacity="0.82"/>
<circle cx="3388.4" cy="1311.3" r="7.0" fill="#F4875C" fill-opacity="0.82"/>
<circle cx="3324.0" cy="1338.4" r="6.7" fill="#F4875C" fill-opacity="0.82"/>
<circle cx="3321.9" cy="1334.3" r="7.9" fill="#F4875C" fill-opacity="0.82"/>
<circle cx="3323.4" cy="1350.9" r="6.1" fill="#F4875C" fill-opacity="0.82"/>
<circle cx="3376.3" cy="1322.9" r="7.1" fill="#F4875C" fill-opacity="0.82"/>
<circle cx="3334.4" cy="1348.3" r="7.6" fill="#F4875C" fill-opacity="0.82"/>
<circle cx="3325.2" cy="1348.6" r="6.7" fill="#F4875C" fill-opacity="0.82"/>
<circle cx="3396.8" cy="1323.3" r="8.2" fill="#F4875C" fill-opacity="0.82"/>
<circle cx="3332.3" cy="1333.1" r="7.6" fill="#F4875C" fill-opacity="0.82"/>
<circle cx="3330.0" cy="1349.1" r="6.6" fill="#F4875C" fill-opacity="0.82"/>
<circle cx="3376.0" cy="1328.9" r="6.2" fill="#F4875C" fill-opacity="0.82"/>
<circle cx="3324.8" cy="1348.8" r="7.5" fill="#F4875C" fill-opacity="0.82"/>
<circle cx="3345.7" cy="1326.6" r="7.2" fill="#F4875C" fill-opacity="0.82"/>
<circle cx="3366.1" cy="1336.6" r="6.4" fill="#F4875C" fill-opacity="0.82"/>
<circle cx="3392.0" cy="1326.1" r="6.5" fill="#F4875C" fill-opacity="0.82"/>
<circle cx="3380.0" cy="1331.8" r="8.4" fill="#F4875C" fill-opacity="0.82"/>
<circle cx="3387.6" cy="1323.4" r="6.3" fill="#F4875C" fill-opacity="0.82"/>
<circle cx="3324.9" cy="1350.3" r="7.8" fill="#F4875C" fill-opacity="0.82"/>
<circle cx="3340.6" cy="1337.0" r="6.7" fill="#F4875C" fill-opacity="0.82"/>
<circle cx="3333.1" cy="1349.9" r="6.6" fill="#F4875C" fill-opacity="0.82"/>
<circle cx="3364.8" cy="1328.4" r="6.7" fill="#F4875C" fill-opacity="0.82"/>
<circle cx="3386.1" cy="1330.6" r="6.7" fill="#F4875C" fill-opacity="0.82"/>
<circle cx="3347.3" cy="1340.3" r="6.9" fill="#F4875C" fill-opacity="0.82"/>
<circle cx="3358.0" cy="1333.1" r="8.2" fill="#F4875C" fill-opacity="0.82"/>
<circle cx="3395.9" cy="1315.2" r="7.5" fill="#F4875C" fill-opacity="0.82"/>
<circle cx="3322.9" cy="1351.9" r="8.3" fill="#F4875C" fill-opacity="0.82"/>
<circle cx="3377.2" cy="1336.4" r="7.6" fill="#F4875C" fill-opacity="0.82"/>
<circle cx="3760.0" cy="1306.6" r="24.0" fill="#A31F34" fill-opacity="0.8"/>
<path d="M3239.7,1414.9 L3311.5,1348.4 L3315.0,1324.0 L3397.6,1330.0 L3465.8,1307.1" fill="none" stroke="#B57AD6" stroke-width="3"/>
<circle cx="3239.7" cy="1414.9" r="4.0" fill="#B57AD6" fill-opacity="0.85"/>
<circle cx="3311.5" cy="1348.4" r="7.0" fill="#B57AD6" fill-opacity="0.85"/>
<circle cx="3315.0" cy="1324.0" r="7.0" fill="#B57AD6" fill-opacity="0.85"/>
<circle cx="3397.6" cy="1330.0" r="11.0" fill="#B57AD6" fill-opacity="0.85"/>
<circle cx="3465.8" cy="1307.1" r="14.0" fill="#B57AD6" fill-opacity="0.85"/>
<path d="M3289.9,1685.6 L3336.6,1591.5 L3367.1,1483.7 L3474.7,1378.2" fill="none" stroke="#3A83C3" stroke-width="3"/>
<circle cx="3336.6" cy="1591.5" r="7.0" fill="#3A83C3" fill-opacity="0.9"/>
<circle cx="3367.1" cy="1483.7" r="11.0" fill="#3A83C3" fill-opacity="0.9"/>
<circle cx="3474.7" cy="1378.2" r="15.0" fill="#3A83C3" fill-opacity="0.9"/>
<path d="M3250.5,1352.9 L3302.5,1323.1 L3401.2,1318.5" fill="none" stroke="#2CA25F" stroke-width="3"/>
<circle cx="3250.5" cy="1352.9" r="5.0" fill="#2CA25F" fill-opacity="0.9"/>
<circle cx="3302.5" cy="1323.1" r="7.0" fill="#2CA25F" fill-opacity="0.9"/>
<circle cx="3401.2" cy="1318.5" r="12.0" fill="#2CA25F" fill-opacity="0.9"/>
</g>
<rect x="3141.0" y="1291.0" width="628.0" height="390.0" fill="none" stroke="#000" stroke-width="4"/>
<text x="3122.0" y="1693.5" font-size="37.5" class="R" text-anchor="end">80.0</text>
<text x="3122.0" y="1601.7" font-size="37.5" class="R" text-anchor="end">82.0</text>
<text x="3122.0" y="1510.0" font-size="37.5" class="R" text-anchor="end">84.0</text>
<text x="3122.0" y="1418.2" font-size="37.5" class="R" text-anchor="end">86.0</text>
<text x="3122.0" y="1326.4" font-size="37.5" class="R" text-anchor="end">88.0</text>
<text x="3141.0" y="1723.0" font-size="37.5" class="R" text-anchor="middle">0</text>
<text x="3230.7" y="1723.0" font-size="37.5" class="R" text-anchor="middle">5</text>
<text x="3320.4" y="1723.0" font-size="37.5" class="R" text-anchor="middle">10</text>
<text x="3410.1" y="1723.0" font-size="37.5" class="R" text-anchor="middle">15</text>
<text x="3499.9" y="1723.0" font-size="37.5" class="R" text-anchor="middle">20</text>
<text x="3589.6" y="1723.0" font-size="37.5" class="R" text-anchor="middle">25</text>
<text x="3679.3" y="1723.0" font-size="37.5" class="R" text-anchor="middle">30</text>
<text x="3769.0" y="1723.0" font-size="37.5" class="R" text-anchor="middle">35</text>
<text x="3051.0" y="1297.0" font-size="33" fill="#A31F34" textLength="83" lengthAdjust="spacingAndGlyphs">88.16</text>
<rect x="3453.0" y="1496.0" width="271.0" height="164.0" fill="#fff" stroke="#000" stroke-width="3"/>
<circle cx="3471.0" cy="1518.8" r="10.0" fill="#2CA25F" fill-opacity="0.9"/>
<text x="3489.0" y="1527.8" font-size="24.5" font-weight="bold">Ours</text>
<circle cx="3471.0" cy="1548.4" r="10.0" fill="#3A83C3" fill-opacity="0.9"/>
<text x="3489.0" y="1557.4" font-size="24.5">SR-Manual</text>
<circle cx="3471.0" cy="1578.0" r="10.0" fill="#B57AD6" fill-opacity="0.9"/>
<text x="3489.0" y="1587.0" font-size="24.5">S(Ours)-R(TensorLy)</text>
<circle cx="3471.0" cy="1607.6" r="10.0" fill="#F4875C" fill-opacity="0.9"/>
<text x="3489.0" y="1616.6" font-size="24.5">S(Ours)-R(Random)</text>
<circle cx="3471.0" cy="1637.2" r="10.0" fill="#A31F34" fill-opacity="0.9"/>
<text x="3489.0" y="1646.2" font-size="24.5">Original Bert-base</text>
<text x="3596.0" y="1488.0" font-size="31" font-weight="bold" text-anchor="middle">CP</text>
<text x="3183.0" y="1206.0" font-size="27.5" textLength="167" lengthAdjust="spacingAndGlyphs">#Params (M)</text>
<text x="3397.0" y="1206.0" font-size="26.5" text-anchor="middle">43</text>
<circle cx="3403.0" cy="1250.0" r="2.0" fill="#3A83C3"/>
<text x="3452.0" y="1206.0" font-size="26.5" text-anchor="middle">49</text>
<circle cx="3455.0" cy="1250.0" r="5.0" fill="#2CA25F"/>
<text x="3507.0" y="1206.0" font-size="26.5" text-anchor="middle">59</text>
<circle cx="3509.0" cy="1250.0" r="8.0" fill="#2CA25F"/>
<text x="3563.0" y="1206.0" font-size="26.5" text-anchor="middle">74</text>
<circle cx="3565.0" cy="1250.0" r="11.0" fill="#2CA25F"/>
<text x="3631.0" y="1206.0" font-size="26.5" text-anchor="middle">79</text>
<circle cx="3635.0" cy="1250.0" r="16.0" fill="#3A83C3"/>
<text x="3708.0" y="1206.0" font-size="26.5" text-anchor="middle">109</text>
<circle cx="3714.0" cy="1250.0" r="22.0" fill="#A31F34"/>
<text x="3200.0" y="1356.0" font-size="31" fill="#2CA25F" font-weight="bold">a1</text>
<text x="3253.0" y="1324.0" font-size="31" fill="#2CA25F" font-weight="bold">a2</text>
<text x="3370.0" y="1283.0" font-size="31" fill="#2CA25F" font-weight="bold">a3</text>
<text x="3464.0" y="1773.0" font-size="43" text-anchor="middle"><tspan >EDP </tspan><tspan class="R">(</tspan><tspan font-style="italic" class="R">μJ</tspan><tspan class="R"> · </tspan><tspan font-style="italic" class="R">s</tspan><tspan class="R">)</tspan></text>
<text x="3040.0" y="1486.0" font-size="39" text-anchor="middle" transform="rotate(-90 3040 1486.0)">F1 Score (%)</text>
<text x="2845.0" y="1864.0" font-size="32.5">•</text>
<text x="2883.0" y="1864.0" font-size="32.5" word-spacing="2.75"><tspan >On DistilBERT: </tspan><tspan fill="#00B050" font-weight="bold">3</tspan><tspan fill="#00B050">×</tspan><tspan fill="#00B050" font-weight="bold">~10</tspan><tspan fill="#00B050">×</tspan><tspan > lower hardware cost</tspan></text>
<line x1="2830.0" y1="1893.0" x2="3969.0" y2="1893.0" stroke="#000" stroke-width="2.5" />
<line x1="2963.0" y1="1958.0" x2="3969.0" y2="1958.0" stroke="#000" stroke-width="1.5" />
<line x1="2830.0" y1="1997.0" x2="3969.0" y2="1997.0" stroke="#000" stroke-width="1.8" />
<line x1="2830.0" y1="2036.0" x2="3969.0" y2="2036.0" stroke="#000" stroke-width="1.8" />
<line x1="2830.0" y1="2127.0" x2="3969.0" y2="2127.0" stroke="#000" stroke-width="2.5" />
<line x1="2963.0" y1="1901.0" x2="2963.0" y2="1952.0" stroke="#000" stroke-width="1.5" />
<line x1="2963.0" y1="1966.0" x2="2963.0" y2="1992.0" stroke="#000" stroke-width="1.5" />
<line x1="2963.0" y1="2005.0" x2="2963.0" y2="2030.0" stroke="#000" stroke-width="1.5" />
<line x1="2963.0" y1="2044.0" x2="2963.0" y2="2121.0" stroke="#000" stroke-width="1.5" />
<line x1="3469.0" y1="1901.0" x2="3469.0" y2="1952.0" stroke="#000" stroke-width="1.5" />
<line x1="3469.0" y1="1966.0" x2="3469.0" y2="1992.0" stroke="#000" stroke-width="1.5" />
<line x1="3469.0" y1="2005.0" x2="3469.0" y2="2030.0" stroke="#000" stroke-width="1.5" />
<line x1="3469.0" y1="2044.0" x2="3469.0" y2="2121.0" stroke="#000" stroke-width="1.5" />
<text x="3215.0" y="1918.0" font-size="24.2" class="R" text-anchor="middle">SQuADv1.1</text>
<text x="3723.0" y="1918.0" font-size="24.2" class="R" text-anchor="middle">SST-2</text>
<text x="3046.0" y="1944.0" font-size="24.2" class="R" text-anchor="middle">TTM</text>
<text x="3215.0" y="1944.0" font-size="24.2" class="R" text-anchor="middle">Tucker</text>
<text x="3385.0" y="1944.0" font-size="24.2" class="R" text-anchor="middle">CP</text>
<text x="3554.0" y="1944.0" font-size="24.2" class="R" text-anchor="middle">TTM</text>
<text x="3723.0" y="1944.0" font-size="24.2" class="R" text-anchor="middle">Tucker</text>
<text x="3892.0" y="1944.0" font-size="24.2" class="R" text-anchor="middle">CP</text>
<text x="3004.0" y="1984.0" font-size="24.2" class="R" text-anchor="middle">F1↑</text>
<text x="3089.0" y="1984.0" font-size="24.2" class="R" text-anchor="middle">EDP↓</text>
<text x="3173.0" y="1984.0" font-size="24.2" class="R" text-anchor="middle">F1↑</text>
<text x="3258.0" y="1984.0" font-size="24.2" class="R" text-anchor="middle">EDP↓</text>
<text x="3342.0" y="1984.0" font-size="24.2" class="R" text-anchor="middle">F1↑</text>
<text x="3426.0" y="1984.0" font-size="24.2" class="R" text-anchor="middle">EDP↓</text>
<text x="3511.0" y="1984.0" font-size="24.2" class="R" text-anchor="middle">Acc↑</text>
<text x="3596.0" y="1984.0" font-size="24.2" class="R" text-anchor="middle">EDP↓</text>
<text x="3681.0" y="1984.0" font-size="24.2" class="R" text-anchor="middle">Acc↑</text>
<text x="3765.0" y="1984.0" font-size="24.2" class="R" text-anchor="middle">EDP↓</text>
<text x="3849.0" y="1984.0" font-size="24.2" class="R" text-anchor="middle">Acc↑</text>
<text x="3933.0" y="1984.0" font-size="24.2" class="R" text-anchor="middle">EDP↓</text>
<text x="2835.0" y="2023.0" font-size="24.2" class="R">DistilBERT</text>
<text x="3004.0" y="2023.0" font-size="24.2" class="R" text-anchor="middle">86.90</text>
<text x="3089.0" y="2023.0" font-size="24.2" class="R" text-anchor="middle">8.58</text>
<text x="3173.0" y="2023.0" font-size="24.2" class="R" text-anchor="middle">86.90</text>
<text x="3258.0" y="2023.0" font-size="24.2" class="R" text-anchor="middle">8.58</text>
<text x="3342.0" y="2023.0" font-size="24.2" class="R" text-anchor="middle">86.90</text>
<text x="3426.0" y="2023.0" font-size="24.2" class="R" text-anchor="middle">8.58</text>
<text x="3511.0" y="2023.0" font-size="24.2" class="R" text-anchor="middle">91.97</text>
<text x="3596.0" y="2023.0" font-size="24.2" class="R" text-anchor="middle">1.30</text>
<text x="3681.0" y="2023.0" font-size="24.2" class="R" text-anchor="middle">91.97</text>
<text x="3765.0" y="2023.0" font-size="24.2" class="R" text-anchor="middle">1.30</text>
<text x="3849.0" y="2023.0" font-size="24.2" class="R" text-anchor="middle">91.97</text>
<text x="3933.0" y="2023.0" font-size="24.2" class="R" text-anchor="middle">1.30</text>
<text x="2847.0" y="2062.0" font-size="24.2" class="R" fill="#222"><tspan font-size="23" class="M">HEAT</tspan><tspan class="R">-a1</tspan></text>
<text x="3004.0" y="2062.0" font-size="24.2" class="R" text-anchor="middle">85.26</text>
<text x="3089.0" y="2062.0" font-size="24.2" class="R" text-anchor="middle">6.71</text>
<text x="3173.0" y="2062.0" font-size="24.2" class="R" text-anchor="middle">83.66</text>
<text x="3258.0" y="2062.0" font-size="24.2" class="R" text-anchor="middle">1.72</text>
<text x="3342.0" y="2062.0" font-size="24.2" class="R" text-anchor="middle">87.09</text>
<text x="3426.0" y="2062.0" font-size="24.2" class="R" text-anchor="middle">1.50</text>
<text x="3511.0" y="2062.0" font-size="24.2" class="R" text-anchor="middle">91.40</text>
<text x="3596.0" y="2062.0" font-size="24.2" class="R" text-anchor="middle">1.23</text>
<text x="3681.0" y="2062.0" font-size="24.2" class="R" text-anchor="middle">90.30</text>
<text x="3765.0" y="2062.0" font-size="24.2" class="R" text-anchor="middle">0.17</text>
<text x="3849.0" y="2062.0" font-size="24.2" class="R" text-anchor="middle">91.28</text>
<text x="3933.0" y="2062.0" font-size="24.2" class="R" text-anchor="middle">0.13</text>
<text x="2847.0" y="2089.0" font-size="24.2" class="R" fill="#222"><tspan font-size="23" class="M">HEAT</tspan><tspan class="R">-a2</tspan></text>
<text x="3004.0" y="2089.0" font-size="24.2" class="R" text-anchor="middle">86.42</text>
<text x="3089.0" y="2089.0" font-size="24.2" class="R" text-anchor="middle">7.76</text>
<text x="3173.0" y="2089.0" font-size="24.2" class="R" text-anchor="middle">85.21</text>
<text x="3258.0" y="2089.0" font-size="24.2" class="R" text-anchor="middle">2.56</text>
<text x="3342.0" y="2089.0" font-size="24.2" class="R" text-anchor="middle">87.89</text>
<text x="3426.0" y="2089.0" font-size="24.2" class="R" text-anchor="middle">2.26</text>
<text x="3511.0" y="2089.0" font-size="24.2" class="R" text-anchor="middle">90.60</text>
<text x="3596.0" y="2089.0" font-size="24.2" class="R" text-anchor="middle">1.64</text>
<text x="3681.0" y="2089.0" font-size="24.2" class="R" text-anchor="middle">91.30</text>
<text x="3765.0" y="2089.0" font-size="24.2" class="R" text-anchor="middle">0.23</text>
<text x="3849.0" y="2089.0" font-size="24.2" class="R" text-anchor="middle">91.06</text>
<text x="3933.0" y="2089.0" font-size="24.2" class="R" text-anchor="middle">0.20</text>
<text x="2847.0" y="2115.0" font-size="24.2" class="R" fill="#222"><tspan font-size="23" class="M">HEAT</tspan><tspan class="R">-a3</tspan></text>
<text x="3004.0" y="2115.0" font-size="24.2" class="R" text-anchor="middle">86.92</text>
<text x="3089.0" y="2115.0" font-size="24.2" class="R" text-anchor="middle">8.74</text>
<text x="3173.0" y="2115.0" font-size="24.2" class="R" text-anchor="middle">86.15</text>
<text x="3258.0" y="2115.0" font-size="24.2" class="R" text-anchor="middle">3.21</text>
<text x="3342.0" y="2115.0" font-size="24.2" class="R" text-anchor="middle">88.18</text>
<text x="3426.0" y="2115.0" font-size="24.2" class="R" text-anchor="middle">3.63</text>
<text x="3511.0" y="2115.0" font-size="24.2" class="R" text-anchor="middle">90.60</text>
<text x="3596.0" y="2115.0" font-size="24.2" class="R" text-anchor="middle">2.10</text>
<text x="3681.0" y="2115.0" font-size="24.2" class="R" text-anchor="middle">90.60</text>
<text x="3765.0" y="2115.0" font-size="24.2" class="R" text-anchor="middle">0.29</text>
<text x="3849.0" y="2115.0" font-size="24.2" class="R" text-anchor="middle">91.63</text>
<text x="3933.0" y="2115.0" font-size="24.2" class="R" text-anchor="middle">0.34</text>
<text x="2836.0" y="2190.0" font-size="32.5" font-weight="bold">Future Directions</text>
<text x="2840.0" y="2247.0" font-size="32.5">•</text>
<text x="2876.0" y="2247.0" font-size="32.5" word-spacing="-0.5">Explore heterogeneous decomposition</text>
<text x="2840.0" y="2294.0" font-size="32.5">•</text>
<text x="2876.0" y="2294.0" font-size="32.5" word-spacing="0.5">Apply to more models/tasks</text>
<text x="2840.0" y="2341.0" font-size="32.5">•</text>
<text x="2876.0" y="2341.0" font-size="32.5" word-spacing="0.8">Hardware optimization in tensor contraction</text>
<text x="2836.0" y="2419.0" font-size="32.5">Reference</text>
<text x="2836.0" y="2461.0" font-size="26" fill="#3a3a3a">1)</text>
<text x="2891.0" y="2461.0" font-size="26" fill="#3a3a3a" textLength="916" lengthAdjust="spacingAndGlyphs"><tspan >Ashish Vaswani, Noam Shazeer, </tspan><tspan font-style="italic">et al.</tspan><tspan >, “Attention is All you Need,” NeurIPS 2017.</tspan></text>
<text x="2836.0" y="2502.0" font-size="26" fill="#3a3a3a">2)</text>
<text x="2891.0" y="2502.0" font-size="26" fill="#3a3a3a" textLength="1000" lengthAdjust="spacingAndGlyphs"><tspan >Jean Kossaifi, Yannis Panagakis, Anima Anandkumar, and Maja Pantic. “Tensorly: Tensor</tspan></text>
<text x="2891.0" y="2542.0" font-size="26" fill="#3a3a3a" textLength="884" lengthAdjust="spacingAndGlyphs"><tspan >Learning in Python,” Journal of Machine Learning Research, 20(26):1–6, 2019.</tspan></text>
<text x="2836.0" y="2582.0" font-size="26" fill="#3a3a3a">3)</text>
<text x="2891.0" y="2582.0" font-size="26" fill="#3a3a3a" textLength="1040" lengthAdjust="spacingAndGlyphs"><tspan >Chunhua Deng, Fangxuan Sun, Xuehai Qian, </tspan><tspan font-style="italic">et al.</tspan><tspan >, “TIE: Energy-efficient Tensor Train-based</tspan></text>
<text x="2891.0" y="2623.0" font-size="26" fill="#3a3a3a" textLength="637" lengthAdjust="spacingAndGlyphs"><tspan >Inference Engine for Deep Neural Network,” ISCA, 2019.</tspan></text>
</svg>
</body></html>
